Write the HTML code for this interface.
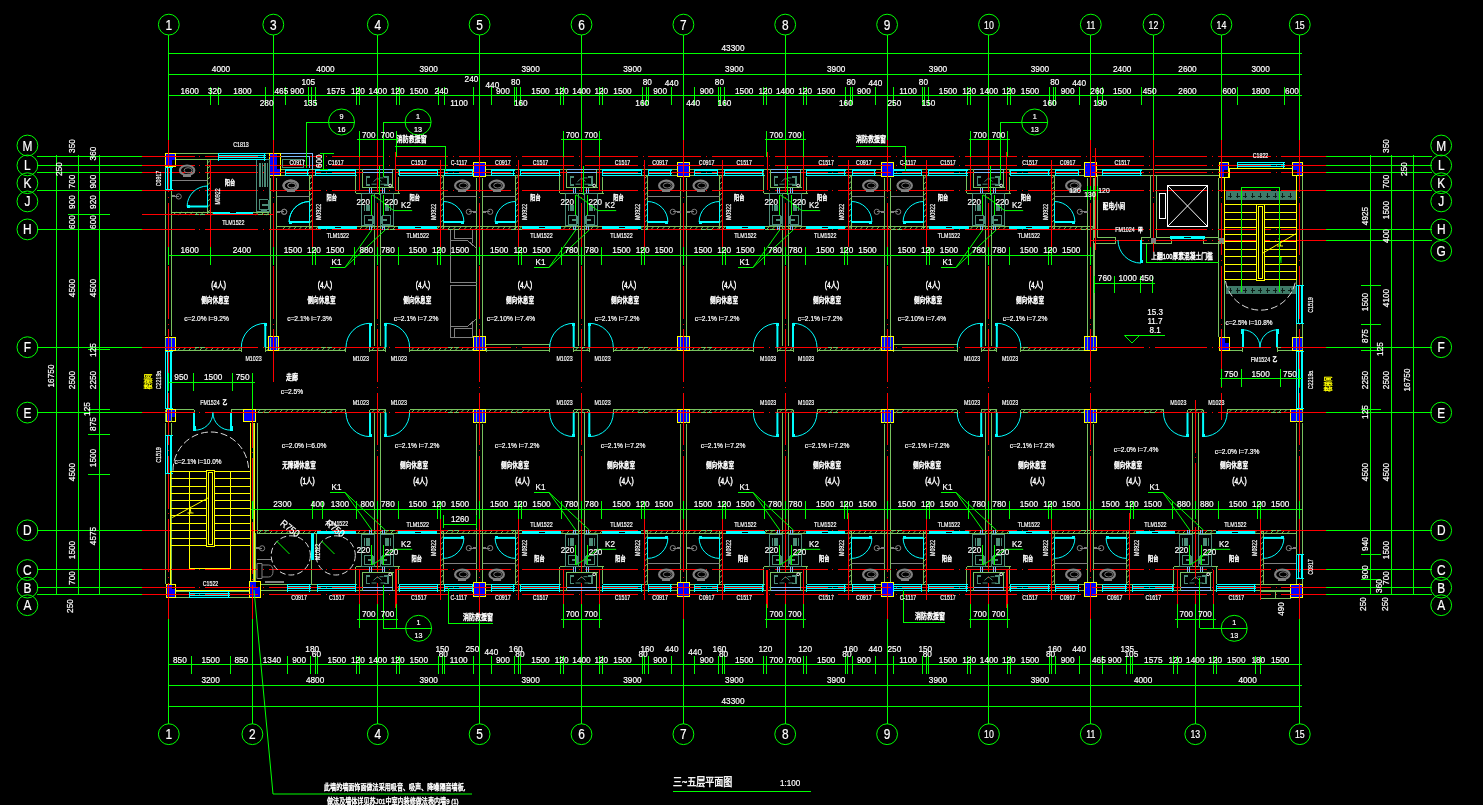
<!DOCTYPE html>
<html><head><meta charset="utf-8"><title>plan</title>
<style>
html,body{margin:0;padding:0;background:#000;overflow:hidden}
svg{display:block;font-family:"Liberation Sans",sans-serif}
svg text{fill:#fff;stroke:#fff;stroke-width:.2px}
svg text.cj{font-family:"Liberation Sans","Noto Sans CJK SC",sans-serif;stroke-width:.45px}
</style></head><body>
<svg width="1483" height="805" viewBox="0 0 1483 805" shape-rendering="crispEdges" fill="none">
<rect x="0" y="0" width="1483" height="805" fill="#000" stroke="none"/>
<path d="M165.5 167V336" stroke="#78c25e"/>
<path d="M171.5 167V336" stroke="#78c25e"/>
<path d="M165.5 351V409" stroke="#78c25e"/>
<path d="M171.5 351V409" stroke="#78c25e"/>
<path d="M165.5 423V584" stroke="#78c25e"/>
<path d="M171.5 423V584" stroke="#78c25e"/>
<path d="M1296.5 176V337" stroke="#78c25e"/>
<path d="M1302.5 176V337" stroke="#78c25e"/>
<path d="M1296.5 351V409" stroke="#78c25e"/>
<path d="M1302.5 351V409" stroke="#78c25e"/>
<path d="M1296.5 423V584" stroke="#78c25e"/>
<path d="M1302.5 423V584" stroke="#78c25e"/>
<path d="M176 153.5H269" stroke="#78c25e"/>
<path d="M176 159.5H269" stroke="#78c25e"/>
<path d="M281 169.5H1218.6" stroke="#78c25e"/>
<path d="M281 175.5H1218.6" stroke="#78c25e"/>
<path d="M261 584.5H1290.5" stroke="#78c25e"/>
<path d="M261 590.5H1290.5" stroke="#78c25e"/>
<path d="M176 591.5H249" stroke="#78c25e"/>
<path d="M176 597.5H249" stroke="#78c25e"/>
<path d="M270.5 177.6V336.2" stroke="#78c25e"/>
<path d="M276.5 177.6V336.2" stroke="#78c25e"/>
<path d="M476.5 177.6V336.2" stroke="#78c25e"/>
<path d="M482.5 177.6V336.2" stroke="#78c25e"/>
<path d="M680.5 177.6V336.2" stroke="#78c25e"/>
<path d="M686.5 177.6V336.2" stroke="#78c25e"/>
<path d="M884.5 177.6V336.2" stroke="#78c25e"/>
<path d="M890.5 177.6V336.2" stroke="#78c25e"/>
<path d="M1087.5 177.6V336.2" stroke="#78c25e"/>
<path d="M1093.5 177.6V336.2" stroke="#78c25e"/>
<path d="M374.5 193.4V346" stroke="#78c25e"/>
<path d="M380.5 193.4V346" stroke="#78c25e"/>
<path d="M578.5 193.4V346" stroke="#78c25e"/>
<path d="M584.5 193.4V346" stroke="#78c25e"/>
<path d="M782.5 193.4V346" stroke="#78c25e"/>
<path d="M788.5 193.4V346" stroke="#78c25e"/>
<path d="M985.5 193.4V346" stroke="#78c25e"/>
<path d="M991.5 193.4V346" stroke="#78c25e"/>
<path d="M476.5 423.8V582.2" stroke="#78c25e"/>
<path d="M482.5 423.8V582.2" stroke="#78c25e"/>
<path d="M680.5 423.8V582.2" stroke="#78c25e"/>
<path d="M686.5 423.8V582.2" stroke="#78c25e"/>
<path d="M884.5 423.8V582.2" stroke="#78c25e"/>
<path d="M890.5 423.8V582.2" stroke="#78c25e"/>
<path d="M1087.5 423.8V582.2" stroke="#78c25e"/>
<path d="M1093.5 423.8V582.2" stroke="#78c25e"/>
<path d="M374.5 413V566.5" stroke="#78c25e"/>
<path d="M380.5 413V566.5" stroke="#78c25e"/>
<path d="M578.5 413V566.5" stroke="#78c25e"/>
<path d="M584.5 413V566.5" stroke="#78c25e"/>
<path d="M782.5 413V566.5" stroke="#78c25e"/>
<path d="M788.5 413V566.5" stroke="#78c25e"/>
<path d="M985.5 413V566.5" stroke="#78c25e"/>
<path d="M991.5 413V566.5" stroke="#78c25e"/>
<path d="M1192.5 413V566.5" stroke="#78c25e"/>
<path d="M1198.5 413V566.5" stroke="#78c25e"/>
<path d="M253.5 423V581" stroke="#78c25e"/>
<path d="M257.5 423V533" stroke="#78c25e"/>
<path d="M1218.5 178.3V337.3" stroke="#78c25e"/>
<path d="M1224.5 178.3V337.3" stroke="#78c25e"/>
<path d="M1150.5 175.6V237.5" stroke="#78c25e"/>
<path d="M1156.5 175.6V237.5" stroke="#78c25e"/>
<path d="M281 226.5H1094" stroke="#78c25e"/>
<path d="M281 229.5H1094" stroke="#78c25e"/>
<path d="M282.5 229.6l3 -3.4M288 229.6l3 -3.4M293.5 229.6l3 -3.4M299 229.6l3 -3.4M304.5 229.6l3 -3.4M310 229.6l3 -3.4M315.5 229.6l3 -3.4M321 229.6l3 -3.4M326.5 229.6l3 -3.4M332 229.6l3 -3.4M337.5 229.6l3 -3.4M343 229.6l3 -3.4M348.5 229.6l3 -3.4M354 229.6l3 -3.4M359.5 229.6l3 -3.4M365 229.6l3 -3.4M370.5 229.6l3 -3.4M376 229.6l3 -3.4M381.5 229.6l3 -3.4M387 229.6l3 -3.4M392.5 229.6l3 -3.4M398 229.6l3 -3.4M403.5 229.6l3 -3.4M409 229.6l3 -3.4M414.5 229.6l3 -3.4M420 229.6l3 -3.4M425.5 229.6l3 -3.4M431 229.6l3 -3.4M436.5 229.6l3 -3.4M442 229.6l3 -3.4M447.5 229.6l3 -3.4M453 229.6l3 -3.4M458.5 229.6l3 -3.4M464 229.6l3 -3.4M469.5 229.6l3 -3.4M475 229.6l3 -3.4M480.5 229.6l3 -3.4M486 229.6l3 -3.4M491.5 229.6l3 -3.4M497 229.6l3 -3.4M502.5 229.6l3 -3.4M508 229.6l3 -3.4M513.5 229.6l3 -3.4M519 229.6l3 -3.4M524.5 229.6l3 -3.4M530 229.6l3 -3.4M535.5 229.6l3 -3.4M541 229.6l3 -3.4M546.5 229.6l3 -3.4M552 229.6l3 -3.4M557.5 229.6l3 -3.4M563 229.6l3 -3.4M568.5 229.6l3 -3.4M574 229.6l3 -3.4M579.5 229.6l3 -3.4M585 229.6l3 -3.4M590.5 229.6l3 -3.4M596 229.6l3 -3.4M601.5 229.6l3 -3.4M607 229.6l3 -3.4M612.5 229.6l3 -3.4M618 229.6l3 -3.4M623.5 229.6l3 -3.4M629 229.6l3 -3.4M634.5 229.6l3 -3.4M640 229.6l3 -3.4M645.5 229.6l3 -3.4M651 229.6l3 -3.4M656.5 229.6l3 -3.4M662 229.6l3 -3.4M667.5 229.6l3 -3.4M673 229.6l3 -3.4M678.5 229.6l3 -3.4M684 229.6l3 -3.4M689.5 229.6l3 -3.4M695 229.6l3 -3.4M700.5 229.6l3 -3.4M706 229.6l3 -3.4M711.5 229.6l3 -3.4M717 229.6l3 -3.4M722.5 229.6l3 -3.4M728 229.6l3 -3.4M733.5 229.6l3 -3.4M739 229.6l3 -3.4M744.5 229.6l3 -3.4M750 229.6l3 -3.4M755.5 229.6l3 -3.4M761 229.6l3 -3.4M766.5 229.6l3 -3.4M772 229.6l3 -3.4M777.5 229.6l3 -3.4M783 229.6l3 -3.4M788.5 229.6l3 -3.4M794 229.6l3 -3.4M799.5 229.6l3 -3.4M805 229.6l3 -3.4M810.5 229.6l3 -3.4M816 229.6l3 -3.4M821.5 229.6l3 -3.4M827 229.6l3 -3.4M832.5 229.6l3 -3.4M838 229.6l3 -3.4M843.5 229.6l3 -3.4M849 229.6l3 -3.4M854.5 229.6l3 -3.4M860 229.6l3 -3.4M865.5 229.6l3 -3.4M871 229.6l3 -3.4M876.5 229.6l3 -3.4M882 229.6l3 -3.4M887.5 229.6l3 -3.4M893 229.6l3 -3.4M898.5 229.6l3 -3.4M904 229.6l3 -3.4M909.5 229.6l3 -3.4M915 229.6l3 -3.4M920.5 229.6l3 -3.4M926 229.6l3 -3.4M931.5 229.6l3 -3.4M937 229.6l3 -3.4M942.5 229.6l3 -3.4M948 229.6l3 -3.4M953.5 229.6l3 -3.4M959 229.6l3 -3.4M964.5 229.6l3 -3.4M970 229.6l3 -3.4M975.5 229.6l3 -3.4M981 229.6l3 -3.4M986.5 229.6l3 -3.4M992 229.6l3 -3.4M997.5 229.6l3 -3.4M1003 229.6l3 -3.4M1008.5 229.6l3 -3.4M1014 229.6l3 -3.4M1019.5 229.6l3 -3.4M1025 229.6l3 -3.4M1030.5 229.6l3 -3.4M1036 229.6l3 -3.4M1041.5 229.6l3 -3.4M1047 229.6l3 -3.4M1052.5 229.6l3 -3.4M1058 229.6l3 -3.4M1063.5 229.6l3 -3.4M1069 229.6l3 -3.4M1074.5 229.6l3 -3.4M1080 229.6l3 -3.4M1085.5 229.6l3 -3.4M1091 229.6l3 -3.4" stroke="#78c25e" fill="none" shape-rendering="geometricPrecision"/>
<path d="M257 530.5H1290.5" stroke="#78c25e"/>
<path d="M257 533.5H1290.5" stroke="#78c25e"/>
<path d="M258.5 533.6l3 -3.3M264 533.6l3 -3.3M269.5 533.6l3 -3.3M275 533.6l3 -3.3M280.5 533.6l3 -3.3M286 533.6l3 -3.3M291.5 533.6l3 -3.3M297 533.6l3 -3.3M302.5 533.6l3 -3.3M308 533.6l3 -3.3M313.5 533.6l3 -3.3M319 533.6l3 -3.3M324.5 533.6l3 -3.3M330 533.6l3 -3.3M335.5 533.6l3 -3.3M341 533.6l3 -3.3M346.5 533.6l3 -3.3M352 533.6l3 -3.3M357.5 533.6l3 -3.3M363 533.6l3 -3.3M368.5 533.6l3 -3.3M374 533.6l3 -3.3M379.5 533.6l3 -3.3M385 533.6l3 -3.3M390.5 533.6l3 -3.3M396 533.6l3 -3.3M401.5 533.6l3 -3.3M407 533.6l3 -3.3M412.5 533.6l3 -3.3M418 533.6l3 -3.3M423.5 533.6l3 -3.3M429 533.6l3 -3.3M434.5 533.6l3 -3.3M440 533.6l3 -3.3M445.5 533.6l3 -3.3M451 533.6l3 -3.3M456.5 533.6l3 -3.3M462 533.6l3 -3.3M467.5 533.6l3 -3.3M473 533.6l3 -3.3M478.5 533.6l3 -3.3M484 533.6l3 -3.3M489.5 533.6l3 -3.3M495 533.6l3 -3.3M500.5 533.6l3 -3.3M506 533.6l3 -3.3M511.5 533.6l3 -3.3M517 533.6l3 -3.3M522.5 533.6l3 -3.3M528 533.6l3 -3.3M533.5 533.6l3 -3.3M539 533.6l3 -3.3M544.5 533.6l3 -3.3M550 533.6l3 -3.3M555.5 533.6l3 -3.3M561 533.6l3 -3.3M566.5 533.6l3 -3.3M572 533.6l3 -3.3M577.5 533.6l3 -3.3M583 533.6l3 -3.3M588.5 533.6l3 -3.3M594 533.6l3 -3.3M599.5 533.6l3 -3.3M605 533.6l3 -3.3M610.5 533.6l3 -3.3M616 533.6l3 -3.3M621.5 533.6l3 -3.3M627 533.6l3 -3.3M632.5 533.6l3 -3.3M638 533.6l3 -3.3M643.5 533.6l3 -3.3M649 533.6l3 -3.3M654.5 533.6l3 -3.3M660 533.6l3 -3.3M665.5 533.6l3 -3.3M671 533.6l3 -3.3M676.5 533.6l3 -3.3M682 533.6l3 -3.3M687.5 533.6l3 -3.3M693 533.6l3 -3.3M698.5 533.6l3 -3.3M704 533.6l3 -3.3M709.5 533.6l3 -3.3M715 533.6l3 -3.3M720.5 533.6l3 -3.3M726 533.6l3 -3.3M731.5 533.6l3 -3.3M737 533.6l3 -3.3M742.5 533.6l3 -3.3M748 533.6l3 -3.3M753.5 533.6l3 -3.3M759 533.6l3 -3.3M764.5 533.6l3 -3.3M770 533.6l3 -3.3M775.5 533.6l3 -3.3M781 533.6l3 -3.3M786.5 533.6l3 -3.3M792 533.6l3 -3.3M797.5 533.6l3 -3.3M803 533.6l3 -3.3M808.5 533.6l3 -3.3M814 533.6l3 -3.3M819.5 533.6l3 -3.3M825 533.6l3 -3.3M830.5 533.6l3 -3.3M836 533.6l3 -3.3M841.5 533.6l3 -3.3M847 533.6l3 -3.3M852.5 533.6l3 -3.3M858 533.6l3 -3.3M863.5 533.6l3 -3.3M869 533.6l3 -3.3M874.5 533.6l3 -3.3M880 533.6l3 -3.3M885.5 533.6l3 -3.3M891 533.6l3 -3.3M896.5 533.6l3 -3.3M902 533.6l3 -3.3M907.5 533.6l3 -3.3M913 533.6l3 -3.3M918.5 533.6l3 -3.3M924 533.6l3 -3.3M929.5 533.6l3 -3.3M935 533.6l3 -3.3M940.5 533.6l3 -3.3M946 533.6l3 -3.3M951.5 533.6l3 -3.3M957 533.6l3 -3.3M962.5 533.6l3 -3.3M968 533.6l3 -3.3M973.5 533.6l3 -3.3M979 533.6l3 -3.3M984.5 533.6l3 -3.3M990 533.6l3 -3.3M995.5 533.6l3 -3.3M1001 533.6l3 -3.3M1006.5 533.6l3 -3.3M1012 533.6l3 -3.3M1017.5 533.6l3 -3.3M1023 533.6l3 -3.3M1028.5 533.6l3 -3.3M1034 533.6l3 -3.3M1039.5 533.6l3 -3.3M1045 533.6l3 -3.3M1050.5 533.6l3 -3.3M1056 533.6l3 -3.3M1061.5 533.6l3 -3.3M1067 533.6l3 -3.3M1072.5 533.6l3 -3.3M1078 533.6l3 -3.3M1083.5 533.6l3 -3.3M1089 533.6l3 -3.3M1094.5 533.6l3 -3.3M1100 533.6l3 -3.3M1105.5 533.6l3 -3.3M1111 533.6l3 -3.3M1116.5 533.6l3 -3.3M1122 533.6l3 -3.3M1127.5 533.6l3 -3.3M1133 533.6l3 -3.3M1138.5 533.6l3 -3.3M1144 533.6l3 -3.3M1149.5 533.6l3 -3.3M1155 533.6l3 -3.3M1160.5 533.6l3 -3.3M1166 533.6l3 -3.3M1171.5 533.6l3 -3.3M1177 533.6l3 -3.3M1182.5 533.6l3 -3.3M1188 533.6l3 -3.3M1193.5 533.6l3 -3.3M1199 533.6l3 -3.3M1204.5 533.6l3 -3.3M1210 533.6l3 -3.3M1215.5 533.6l3 -3.3M1221 533.6l3 -3.3M1226.5 533.6l3 -3.3M1232 533.6l3 -3.3M1237.5 533.6l3 -3.3M1243 533.6l3 -3.3M1248.5 533.6l3 -3.3M1254 533.6l3 -3.3M1259.5 533.6l3 -3.3M1265 533.6l3 -3.3M1270.5 533.6l3 -3.3M1276 533.6l3 -3.3M1281.5 533.6l3 -3.3M1287 533.6l3 -3.3" stroke="#78c25e" fill="none" shape-rendering="geometricPrecision"/>
<path d="M171.7 212.5H269" stroke="#78c25e"/>
<path d="M171.7 214.5H269" stroke="#78c25e"/>
<path d="M173.2 214.8l3 -2.8M178.7 214.8l3 -2.8M184.2 214.8l3 -2.8M189.7 214.8l3 -2.8M195.2 214.8l3 -2.8M200.7 214.8l3 -2.8M206.2 214.8l3 -2.8M211.7 214.8l3 -2.8M217.2 214.8l3 -2.8M222.7 214.8l3 -2.8M228.2 214.8l3 -2.8M233.7 214.8l3 -2.8M239.2 214.8l3 -2.8M244.7 214.8l3 -2.8M250.2 214.8l3 -2.8M255.7 214.8l3 -2.8M261.2 214.8l3 -2.8M266.7 214.8l3 -2.8" stroke="#78c25e" fill="none" shape-rendering="geometricPrecision"/>
<path d="M176 347.5H241.3" stroke="#78c25e"/>
<path d="M176 350.5H241.3" stroke="#78c25e"/>
<path d="M177.5 350.6l3 -3.4M183 350.6l3 -3.4M188.5 350.6l3 -3.4M194 350.6l3 -3.4M199.5 350.6l3 -3.4M205 350.6l3 -3.4M210.5 350.6l3 -3.4M216 350.6l3 -3.4M221.5 350.6l3 -3.4M227 350.6l3 -3.4M232.5 350.6l3 -3.4M238 350.6l3 -3.4" stroke="#78c25e" fill="none" shape-rendering="geometricPrecision"/>
<path d="M241.5 347.2V351.6" stroke="#78c25e"/>
<path d="M265.5 347.2V351.6" stroke="#78c25e"/>
<path d="M265.3 347.5H346" stroke="#78c25e"/>
<path d="M265.3 350.5H346" stroke="#78c25e"/>
<path d="M266.8 350.6l3 -3.4M272.3 350.6l3 -3.4M277.8 350.6l3 -3.4M283.3 350.6l3 -3.4M288.8 350.6l3 -3.4M294.3 350.6l3 -3.4M299.8 350.6l3 -3.4M305.3 350.6l3 -3.4M310.8 350.6l3 -3.4M316.3 350.6l3 -3.4M321.8 350.6l3 -3.4M327.3 350.6l3 -3.4M332.8 350.6l3 -3.4M338.3 350.6l3 -3.4M343.8 350.6l3 -3.4" stroke="#78c25e" fill="none" shape-rendering="geometricPrecision"/>
<path d="M345.5 347.2V351.6" stroke="#78c25e"/>
<path d="M369.5 347.2V351.6" stroke="#78c25e"/>
<path d="M370 347.5H385.6" stroke="#78c25e"/>
<path d="M370 350.5H385.6" stroke="#78c25e"/>
<path d="M371.5 350.6l3 -3.4M377 350.6l3 -3.4M382.5 350.6l3 -3.4" stroke="#78c25e" fill="none" shape-rendering="geometricPrecision"/>
<path d="M385.5 347.2V351.6" stroke="#78c25e"/>
<path d="M409.5 347.2V351.6" stroke="#78c25e"/>
<path d="M409.6 347.5H486.1" stroke="#78c25e"/>
<path d="M409.6 350.5H486.1" stroke="#78c25e"/>
<path d="M411.1 350.6l3 -3.4M416.6 350.6l3 -3.4M422.1 350.6l3 -3.4M427.6 350.6l3 -3.4M433.1 350.6l3 -3.4M438.6 350.6l3 -3.4M444.1 350.6l3 -3.4M449.6 350.6l3 -3.4M455.1 350.6l3 -3.4M460.6 350.6l3 -3.4M466.1 350.6l3 -3.4M471.6 350.6l3 -3.4M477.1 350.6l3 -3.4M482.6 350.6l3 -3.4" stroke="#78c25e" fill="none" shape-rendering="geometricPrecision"/>
<path d="M486.5 347.2V351.6" stroke="#78c25e"/>
<path d="M549.5 347.2V351.6" stroke="#78c25e"/>
<path d="M573.5 347.2V351.6" stroke="#78c25e"/>
<path d="M573.7 347.5H589.3" stroke="#78c25e"/>
<path d="M573.7 350.5H589.3" stroke="#78c25e"/>
<path d="M575.2 350.6l3 -3.4M580.7 350.6l3 -3.4M586.2 350.6l3 -3.4" stroke="#78c25e" fill="none" shape-rendering="geometricPrecision"/>
<path d="M589.5 347.2V351.6" stroke="#78c25e"/>
<path d="M613.5 347.2V351.6" stroke="#78c25e"/>
<path d="M613.3 347.5H753.4" stroke="#78c25e"/>
<path d="M613.3 350.5H753.4" stroke="#78c25e"/>
<path d="M614.8 350.6l3 -3.4M620.3 350.6l3 -3.4M625.8 350.6l3 -3.4M631.3 350.6l3 -3.4M636.8 350.6l3 -3.4M642.3 350.6l3 -3.4M647.8 350.6l3 -3.4M653.3 350.6l3 -3.4M658.8 350.6l3 -3.4M664.3 350.6l3 -3.4M669.8 350.6l3 -3.4M675.3 350.6l3 -3.4M680.8 350.6l3 -3.4M686.3 350.6l3 -3.4M691.8 350.6l3 -3.4M697.3 350.6l3 -3.4M702.8 350.6l3 -3.4M708.3 350.6l3 -3.4M713.8 350.6l3 -3.4M719.3 350.6l3 -3.4M724.8 350.6l3 -3.4M730.3 350.6l3 -3.4M735.8 350.6l3 -3.4M741.3 350.6l3 -3.4M746.8 350.6l3 -3.4" stroke="#78c25e" fill="none" shape-rendering="geometricPrecision"/>
<path d="M753.5 347.2V351.6" stroke="#78c25e"/>
<path d="M777.5 347.2V351.6" stroke="#78c25e"/>
<path d="M777.4 347.5H793" stroke="#78c25e"/>
<path d="M777.4 350.5H793" stroke="#78c25e"/>
<path d="M778.9 350.6l3 -3.4M784.4 350.6l3 -3.4M789.9 350.6l3 -3.4" stroke="#78c25e" fill="none" shape-rendering="geometricPrecision"/>
<path d="M793.5 347.2V351.6" stroke="#78c25e"/>
<path d="M817.5 347.2V351.6" stroke="#78c25e"/>
<path d="M817 347.5H893.6" stroke="#78c25e"/>
<path d="M817 350.5H893.6" stroke="#78c25e"/>
<path d="M818.5 350.6l3 -3.4M824 350.6l3 -3.4M829.5 350.6l3 -3.4M835 350.6l3 -3.4M840.5 350.6l3 -3.4M846 350.6l3 -3.4M851.5 350.6l3 -3.4M857 350.6l3 -3.4M862.5 350.6l3 -3.4M868 350.6l3 -3.4M873.5 350.6l3 -3.4M879 350.6l3 -3.4M884.5 350.6l3 -3.4M890 350.6l3 -3.4" stroke="#78c25e" fill="none" shape-rendering="geometricPrecision"/>
<path d="M893.5 347.2V351.6" stroke="#78c25e"/>
<path d="M957.5 347.2V351.6" stroke="#78c25e"/>
<path d="M981.5 347.2V351.6" stroke="#78c25e"/>
<path d="M981.2 347.5H996.8" stroke="#78c25e"/>
<path d="M981.2 350.5H996.8" stroke="#78c25e"/>
<path d="M982.7 350.6l3 -3.4M988.2 350.6l3 -3.4M993.7 350.6l3 -3.4" stroke="#78c25e" fill="none" shape-rendering="geometricPrecision"/>
<path d="M996.5 347.2V351.6" stroke="#78c25e"/>
<path d="M1020.5 347.2V351.6" stroke="#78c25e"/>
<path d="M1020.8 347.5H1084.5" stroke="#78c25e"/>
<path d="M1020.8 350.5H1084.5" stroke="#78c25e"/>
<path d="M1022.3 350.6l3 -3.4M1027.8 350.6l3 -3.4M1033.3 350.6l3 -3.4M1038.8 350.6l3 -3.4M1044.3 350.6l3 -3.4M1049.8 350.6l3 -3.4M1055.3 350.6l3 -3.4M1060.8 350.6l3 -3.4M1066.3 350.6l3 -3.4M1071.8 350.6l3 -3.4M1077.3 350.6l3 -3.4" stroke="#78c25e" fill="none" shape-rendering="geometricPrecision"/>
<path d="M486.1 344.5H549.7" stroke="#78c25e"/>
<path d="M486.1 350.5H549.7" stroke="#78c25e"/>
<path d="M549.5 344.3V351" stroke="#78c25e"/>
<path d="M893.6 344.5H957.2" stroke="#78c25e"/>
<path d="M893.6 350.5H957.2" stroke="#78c25e"/>
<path d="M957.5 344.3V351" stroke="#78c25e"/>
<path d="M255.8 409.5H346" stroke="#78c25e"/>
<path d="M255.8 412.5H346" stroke="#78c25e"/>
<path d="M257.3 412.8l3 -3M262.8 412.8l3 -3M268.3 412.8l3 -3M273.8 412.8l3 -3M279.3 412.8l3 -3M284.8 412.8l3 -3M290.3 412.8l3 -3M295.8 412.8l3 -3M301.3 412.8l3 -3M306.8 412.8l3 -3M312.3 412.8l3 -3M317.8 412.8l3 -3M323.3 412.8l3 -3M328.8 412.8l3 -3M334.3 412.8l3 -3M339.8 412.8l3 -3" stroke="#78c25e" fill="none" shape-rendering="geometricPrecision"/>
<path d="M345.5 409.8V413.8" stroke="#78c25e"/>
<path d="M369.5 409.8V413.8" stroke="#78c25e"/>
<path d="M370 409.5H385.6" stroke="#78c25e"/>
<path d="M370 412.5H385.6" stroke="#78c25e"/>
<path d="M371.5 412.8l3 -3M377 412.8l3 -3M382.5 412.8l3 -3" stroke="#78c25e" fill="none" shape-rendering="geometricPrecision"/>
<path d="M385.5 409.8V413.8" stroke="#78c25e"/>
<path d="M409.5 409.8V413.8" stroke="#78c25e"/>
<path d="M409.6 409.5H549.7" stroke="#78c25e"/>
<path d="M409.6 412.5H549.7" stroke="#78c25e"/>
<path d="M411.1 412.8l3 -3M416.6 412.8l3 -3M422.1 412.8l3 -3M427.6 412.8l3 -3M433.1 412.8l3 -3M438.6 412.8l3 -3M444.1 412.8l3 -3M449.6 412.8l3 -3M455.1 412.8l3 -3M460.6 412.8l3 -3M466.1 412.8l3 -3M471.6 412.8l3 -3M477.1 412.8l3 -3M482.6 412.8l3 -3M488.1 412.8l3 -3M493.6 412.8l3 -3M499.1 412.8l3 -3M504.6 412.8l3 -3M510.1 412.8l3 -3M515.6 412.8l3 -3M521.1 412.8l3 -3M526.6 412.8l3 -3M532.1 412.8l3 -3M537.6 412.8l3 -3M543.1 412.8l3 -3" stroke="#78c25e" fill="none" shape-rendering="geometricPrecision"/>
<path d="M549.5 409.8V413.8" stroke="#78c25e"/>
<path d="M573.5 409.8V413.8" stroke="#78c25e"/>
<path d="M573.7 409.5H589.3" stroke="#78c25e"/>
<path d="M573.7 412.5H589.3" stroke="#78c25e"/>
<path d="M575.2 412.8l3 -3M580.7 412.8l3 -3M586.2 412.8l3 -3" stroke="#78c25e" fill="none" shape-rendering="geometricPrecision"/>
<path d="M589.5 409.8V413.8" stroke="#78c25e"/>
<path d="M613.5 409.8V413.8" stroke="#78c25e"/>
<path d="M613.3 409.5H753.4" stroke="#78c25e"/>
<path d="M613.3 412.5H753.4" stroke="#78c25e"/>
<path d="M614.8 412.8l3 -3M620.3 412.8l3 -3M625.8 412.8l3 -3M631.3 412.8l3 -3M636.8 412.8l3 -3M642.3 412.8l3 -3M647.8 412.8l3 -3M653.3 412.8l3 -3M658.8 412.8l3 -3M664.3 412.8l3 -3M669.8 412.8l3 -3M675.3 412.8l3 -3M680.8 412.8l3 -3M686.3 412.8l3 -3M691.8 412.8l3 -3M697.3 412.8l3 -3M702.8 412.8l3 -3M708.3 412.8l3 -3M713.8 412.8l3 -3M719.3 412.8l3 -3M724.8 412.8l3 -3M730.3 412.8l3 -3M735.8 412.8l3 -3M741.3 412.8l3 -3M746.8 412.8l3 -3" stroke="#78c25e" fill="none" shape-rendering="geometricPrecision"/>
<path d="M753.5 409.8V413.8" stroke="#78c25e"/>
<path d="M777.5 409.8V413.8" stroke="#78c25e"/>
<path d="M777.4 409.5H793" stroke="#78c25e"/>
<path d="M777.4 412.5H793" stroke="#78c25e"/>
<path d="M778.9 412.8l3 -3M784.4 412.8l3 -3M789.9 412.8l3 -3" stroke="#78c25e" fill="none" shape-rendering="geometricPrecision"/>
<path d="M793.5 409.8V413.8" stroke="#78c25e"/>
<path d="M817.5 409.8V413.8" stroke="#78c25e"/>
<path d="M817 409.5H957.2" stroke="#78c25e"/>
<path d="M817 412.5H957.2" stroke="#78c25e"/>
<path d="M818.5 412.8l3 -3M824 412.8l3 -3M829.5 412.8l3 -3M835 412.8l3 -3M840.5 412.8l3 -3M846 412.8l3 -3M851.5 412.8l3 -3M857 412.8l3 -3M862.5 412.8l3 -3M868 412.8l3 -3M873.5 412.8l3 -3M879 412.8l3 -3M884.5 412.8l3 -3M890 412.8l3 -3M895.5 412.8l3 -3M901 412.8l3 -3M906.5 412.8l3 -3M912 412.8l3 -3M917.5 412.8l3 -3M923 412.8l3 -3M928.5 412.8l3 -3M934 412.8l3 -3M939.5 412.8l3 -3M945 412.8l3 -3M950.5 412.8l3 -3" stroke="#78c25e" fill="none" shape-rendering="geometricPrecision"/>
<path d="M957.5 409.8V413.8" stroke="#78c25e"/>
<path d="M981.5 409.8V413.8" stroke="#78c25e"/>
<path d="M981.2 409.5H996.8" stroke="#78c25e"/>
<path d="M981.2 412.5H996.8" stroke="#78c25e"/>
<path d="M982.7 412.8l3 -3M988.2 412.8l3 -3M993.7 412.8l3 -3" stroke="#78c25e" fill="none" shape-rendering="geometricPrecision"/>
<path d="M996.5 409.8V413.8" stroke="#78c25e"/>
<path d="M1020.5 409.8V413.8" stroke="#78c25e"/>
<path d="M1020.8 409.5H1163.5" stroke="#78c25e"/>
<path d="M1020.8 412.5H1163.5" stroke="#78c25e"/>
<path d="M1022.3 412.8l3 -3M1027.8 412.8l3 -3M1033.3 412.8l3 -3M1038.8 412.8l3 -3M1044.3 412.8l3 -3M1049.8 412.8l3 -3M1055.3 412.8l3 -3M1060.8 412.8l3 -3M1066.3 412.8l3 -3M1071.8 412.8l3 -3M1077.3 412.8l3 -3M1082.8 412.8l3 -3M1088.3 412.8l3 -3M1093.8 412.8l3 -3M1099.3 412.8l3 -3M1104.8 412.8l3 -3M1110.3 412.8l3 -3M1115.8 412.8l3 -3M1121.3 412.8l3 -3M1126.8 412.8l3 -3M1132.3 412.8l3 -3M1137.8 412.8l3 -3M1143.3 412.8l3 -3M1148.8 412.8l3 -3M1154.3 412.8l3 -3M1159.8 412.8l3 -3" stroke="#78c25e" fill="none" shape-rendering="geometricPrecision"/>
<path d="M1163.5 409.8V413.8" stroke="#78c25e"/>
<path d="M1187.5 409.8V413.8" stroke="#78c25e"/>
<path d="M1187.5 409.5H1203.1" stroke="#78c25e"/>
<path d="M1187.5 412.5H1203.1" stroke="#78c25e"/>
<path d="M1189 412.8l3 -3M1194.5 412.8l3 -3M1200 412.8l3 -3" stroke="#78c25e" fill="none" shape-rendering="geometricPrecision"/>
<path d="M1203.5 409.8V413.8" stroke="#78c25e"/>
<path d="M1227.5 409.8V413.8" stroke="#78c25e"/>
<path d="M1227.1 409.5H1290.5" stroke="#78c25e"/>
<path d="M1227.1 412.5H1290.5" stroke="#78c25e"/>
<path d="M1228.6 412.8l3 -3M1234.1 412.8l3 -3M1239.6 412.8l3 -3M1245.1 412.8l3 -3M1250.6 412.8l3 -3M1256.1 412.8l3 -3M1261.6 412.8l3 -3M1267.1 412.8l3 -3M1272.6 412.8l3 -3M1278.1 412.8l3 -3M1283.6 412.8l3 -3" stroke="#78c25e" fill="none" shape-rendering="geometricPrecision"/>
<path d="M309.5 175.3V226.2" stroke="#78c25e"/>
<path d="M309.5 175.3V229.6" stroke="#78c25e"/>
<path d="M312.5 175.3V229.6" stroke="#78c25e"/>
<path d="M309.6 178.8l3.1 -3M309.6 184.3l3.1 -3M309.6 189.8l3.1 -3M309.6 195.3l3.1 -3M309.6 200.8l3.1 -3M309.6 206.3l3.1 -3M309.6 211.8l3.1 -3M309.6 217.3l3.1 -3M309.6 222.8l3.1 -3M309.6 228.3l3.1 -3" stroke="#78c25e" fill="none" shape-rendering="geometricPrecision"/>
<path d="M276.5 226.5H309.6" stroke="#78c25e"/>
<path d="M443.5 175.3V226.2" stroke="#78c25e"/>
<path d="M440.5 175.3V229.6" stroke="#78c25e"/>
<path d="M443.5 175.3V229.6" stroke="#78c25e"/>
<path d="M440.3 178.8l3.1 -3M440.3 184.3l3.1 -3M440.3 189.8l3.1 -3M440.3 195.3l3.1 -3M440.3 200.8l3.1 -3M440.3 206.3l3.1 -3M440.3 211.8l3.1 -3M440.3 217.3l3.1 -3M440.3 222.8l3.1 -3M440.3 228.3l3.1 -3" stroke="#78c25e" fill="none" shape-rendering="geometricPrecision"/>
<path d="M443.4 226.5H476.5" stroke="#78c25e"/>
<path d="M515.5 175.3V226.2" stroke="#78c25e"/>
<path d="M515.5 175.3V229.6" stroke="#78c25e"/>
<path d="M518.5 175.3V229.6" stroke="#78c25e"/>
<path d="M515.6 178.8l3.1 -3M515.6 184.3l3.1 -3M515.6 189.8l3.1 -3M515.6 195.3l3.1 -3M515.6 200.8l3.1 -3M515.6 206.3l3.1 -3M515.6 211.8l3.1 -3M515.6 217.3l3.1 -3M515.6 222.8l3.1 -3M515.6 228.3l3.1 -3" stroke="#78c25e" fill="none" shape-rendering="geometricPrecision"/>
<path d="M482.5 226.5H515.6" stroke="#78c25e"/>
<path d="M647.5 175.3V226.2" stroke="#78c25e"/>
<path d="M644.5 175.3V229.6" stroke="#78c25e"/>
<path d="M647.5 175.3V229.6" stroke="#78c25e"/>
<path d="M644.3 178.8l3.1 -3M644.3 184.3l3.1 -3M644.3 189.8l3.1 -3M644.3 195.3l3.1 -3M644.3 200.8l3.1 -3M644.3 206.3l3.1 -3M644.3 211.8l3.1 -3M644.3 217.3l3.1 -3M644.3 222.8l3.1 -3M644.3 228.3l3.1 -3" stroke="#78c25e" fill="none" shape-rendering="geometricPrecision"/>
<path d="M647.4 226.5H680.5" stroke="#78c25e"/>
<path d="M719.5 175.3V226.2" stroke="#78c25e"/>
<path d="M719.5 175.3V229.6" stroke="#78c25e"/>
<path d="M722.5 175.3V229.6" stroke="#78c25e"/>
<path d="M719.6 178.8l3.1 -3M719.6 184.3l3.1 -3M719.6 189.8l3.1 -3M719.6 195.3l3.1 -3M719.6 200.8l3.1 -3M719.6 206.3l3.1 -3M719.6 211.8l3.1 -3M719.6 217.3l3.1 -3M719.6 222.8l3.1 -3M719.6 228.3l3.1 -3" stroke="#78c25e" fill="none" shape-rendering="geometricPrecision"/>
<path d="M686.5 226.5H719.6" stroke="#78c25e"/>
<path d="M851.5 175.3V226.2" stroke="#78c25e"/>
<path d="M848.5 175.3V229.6" stroke="#78c25e"/>
<path d="M851.5 175.3V229.6" stroke="#78c25e"/>
<path d="M848.3 178.8l3.1 -3M848.3 184.3l3.1 -3M848.3 189.8l3.1 -3M848.3 195.3l3.1 -3M848.3 200.8l3.1 -3M848.3 206.3l3.1 -3M848.3 211.8l3.1 -3M848.3 217.3l3.1 -3M848.3 222.8l3.1 -3M848.3 228.3l3.1 -3" stroke="#78c25e" fill="none" shape-rendering="geometricPrecision"/>
<path d="M851.4 226.5H884.5" stroke="#78c25e"/>
<path d="M923.5 175.3V226.2" stroke="#78c25e"/>
<path d="M923.5 175.3V229.6" stroke="#78c25e"/>
<path d="M926.5 175.3V229.6" stroke="#78c25e"/>
<path d="M923.6 178.8l3.1 -3M923.6 184.3l3.1 -3M923.6 189.8l3.1 -3M923.6 195.3l3.1 -3M923.6 200.8l3.1 -3M923.6 206.3l3.1 -3M923.6 211.8l3.1 -3M923.6 217.3l3.1 -3M923.6 222.8l3.1 -3M923.6 228.3l3.1 -3" stroke="#78c25e" fill="none" shape-rendering="geometricPrecision"/>
<path d="M890.5 226.5H923.6" stroke="#78c25e"/>
<path d="M1054.5 175.3V226.2" stroke="#78c25e"/>
<path d="M1051.5 175.3V229.6" stroke="#78c25e"/>
<path d="M1054.5 175.3V229.6" stroke="#78c25e"/>
<path d="M1051.3 178.8l3.1 -3M1051.3 184.3l3.1 -3M1051.3 189.8l3.1 -3M1051.3 195.3l3.1 -3M1051.3 200.8l3.1 -3M1051.3 206.3l3.1 -3M1051.3 211.8l3.1 -3M1051.3 217.3l3.1 -3M1051.3 222.8l3.1 -3M1051.3 228.3l3.1 -3" stroke="#78c25e" fill="none" shape-rendering="geometricPrecision"/>
<path d="M1054.4 226.5H1087.5" stroke="#78c25e"/>
<path d="M309.5 175.3V226.2" stroke="#78c25e"/>
<path d="M309.5 175.3V229.6" stroke="#78c25e"/>
<path d="M312.5 175.3V229.6" stroke="#78c25e"/>
<path d="M309.6 178.8l3.1 -3M309.6 184.3l3.1 -3M309.6 189.8l3.1 -3M309.6 195.3l3.1 -3M309.6 200.8l3.1 -3M309.6 206.3l3.1 -3M309.6 211.8l3.1 -3M309.6 217.3l3.1 -3M309.6 222.8l3.1 -3M309.6 228.3l3.1 -3" stroke="#78c25e" fill="none" shape-rendering="geometricPrecision"/>
<path d="M276.5 226.5H309.6" stroke="#78c25e"/>
<path d="M355.5 169.3V193.4" stroke="#78c25e"/>
<path d="M398.5 169.3V193.4" stroke="#78c25e"/>
<path d="M355.5 193.5H374.5" stroke="#78c25e"/>
<path d="M380.5 193.5H399.5" stroke="#78c25e"/>
<path d="M374.5 193.5H380.5" stroke="#78c25e"/>
<rect x="356.5" y="174.5" width="42" height="2" fill="#000" stroke="none"/>
<path d="M362.5 169.3V187.8" stroke="#78c25e"/>
<path d="M392.5 169.3V187.8" stroke="#78c25e"/>
<path d="M362.5 187.5H393.5" stroke="#78c25e"/>
<path d="M559.5 169.3V193.4" stroke="#78c25e"/>
<path d="M602.5 169.3V193.4" stroke="#78c25e"/>
<path d="M559.5 193.5H578.5" stroke="#78c25e"/>
<path d="M584.5 193.5H603.5" stroke="#78c25e"/>
<path d="M578.5 193.5H584.5" stroke="#78c25e"/>
<rect x="560.5" y="174.5" width="42" height="2" fill="#000" stroke="none"/>
<path d="M566.5 169.3V187.8" stroke="#78c25e"/>
<path d="M596.5 169.3V187.8" stroke="#78c25e"/>
<path d="M566.5 187.5H597.5" stroke="#78c25e"/>
<path d="M763.5 169.3V193.4" stroke="#78c25e"/>
<path d="M806.5 169.3V193.4" stroke="#78c25e"/>
<path d="M763.5 193.5H782.5" stroke="#78c25e"/>
<path d="M788.5 193.5H807.5" stroke="#78c25e"/>
<path d="M782.5 193.5H788.5" stroke="#78c25e"/>
<rect x="764.5" y="174.5" width="42" height="2" fill="#000" stroke="none"/>
<path d="M770.5 169.3V187.8" stroke="#78c25e"/>
<path d="M800.5 169.3V187.8" stroke="#78c25e"/>
<path d="M770.5 187.5H801.5" stroke="#78c25e"/>
<path d="M966.5 169.3V193.4" stroke="#78c25e"/>
<path d="M1009.5 169.3V193.4" stroke="#78c25e"/>
<path d="M966.5 193.5H985.5" stroke="#78c25e"/>
<path d="M991.5 193.5H1010.5" stroke="#78c25e"/>
<path d="M985.5 193.5H991.5" stroke="#78c25e"/>
<rect x="967.5" y="174.5" width="42" height="2" fill="#000" stroke="none"/>
<path d="M973.5 169.3V187.8" stroke="#78c25e"/>
<path d="M1003.5 169.3V187.8" stroke="#78c25e"/>
<path d="M973.5 187.5H1004.5" stroke="#78c25e"/>
<path d="M443.5 533.7V584.6" stroke="#78c25e"/>
<path d="M440.5 530.3V584.6" stroke="#78c25e"/>
<path d="M443.5 530.3V584.6" stroke="#78c25e"/>
<path d="M440.3 533.8l3.1 -3M440.3 539.3l3.1 -3M440.3 544.8l3.1 -3M440.3 550.3l3.1 -3M440.3 555.8l3.1 -3M440.3 561.3l3.1 -3M440.3 566.8l3.1 -3M440.3 572.3l3.1 -3M440.3 577.8l3.1 -3M440.3 583.3l3.1 -3" stroke="#78c25e" fill="none" shape-rendering="geometricPrecision"/>
<path d="M443.4 533.5H476.5" stroke="#78c25e"/>
<path d="M515.5 533.7V584.6" stroke="#78c25e"/>
<path d="M515.5 530.3V584.6" stroke="#78c25e"/>
<path d="M518.5 530.3V584.6" stroke="#78c25e"/>
<path d="M515.6 533.8l3.1 -3M515.6 539.3l3.1 -3M515.6 544.8l3.1 -3M515.6 550.3l3.1 -3M515.6 555.8l3.1 -3M515.6 561.3l3.1 -3M515.6 566.8l3.1 -3M515.6 572.3l3.1 -3M515.6 577.8l3.1 -3M515.6 583.3l3.1 -3" stroke="#78c25e" fill="none" shape-rendering="geometricPrecision"/>
<path d="M482.5 533.5H515.6" stroke="#78c25e"/>
<path d="M647.5 533.7V584.6" stroke="#78c25e"/>
<path d="M644.5 530.3V584.6" stroke="#78c25e"/>
<path d="M647.5 530.3V584.6" stroke="#78c25e"/>
<path d="M644.3 533.8l3.1 -3M644.3 539.3l3.1 -3M644.3 544.8l3.1 -3M644.3 550.3l3.1 -3M644.3 555.8l3.1 -3M644.3 561.3l3.1 -3M644.3 566.8l3.1 -3M644.3 572.3l3.1 -3M644.3 577.8l3.1 -3M644.3 583.3l3.1 -3" stroke="#78c25e" fill="none" shape-rendering="geometricPrecision"/>
<path d="M647.4 533.5H680.5" stroke="#78c25e"/>
<path d="M719.5 533.7V584.6" stroke="#78c25e"/>
<path d="M719.5 530.3V584.6" stroke="#78c25e"/>
<path d="M722.5 530.3V584.6" stroke="#78c25e"/>
<path d="M719.6 533.8l3.1 -3M719.6 539.3l3.1 -3M719.6 544.8l3.1 -3M719.6 550.3l3.1 -3M719.6 555.8l3.1 -3M719.6 561.3l3.1 -3M719.6 566.8l3.1 -3M719.6 572.3l3.1 -3M719.6 577.8l3.1 -3M719.6 583.3l3.1 -3" stroke="#78c25e" fill="none" shape-rendering="geometricPrecision"/>
<path d="M686.5 533.5H719.6" stroke="#78c25e"/>
<path d="M851.5 533.7V584.6" stroke="#78c25e"/>
<path d="M848.5 530.3V584.6" stroke="#78c25e"/>
<path d="M851.5 530.3V584.6" stroke="#78c25e"/>
<path d="M848.3 533.8l3.1 -3M848.3 539.3l3.1 -3M848.3 544.8l3.1 -3M848.3 550.3l3.1 -3M848.3 555.8l3.1 -3M848.3 561.3l3.1 -3M848.3 566.8l3.1 -3M848.3 572.3l3.1 -3M848.3 577.8l3.1 -3M848.3 583.3l3.1 -3" stroke="#78c25e" fill="none" shape-rendering="geometricPrecision"/>
<path d="M851.4 533.5H884.5" stroke="#78c25e"/>
<path d="M923.5 533.7V584.6" stroke="#78c25e"/>
<path d="M923.5 530.3V584.6" stroke="#78c25e"/>
<path d="M926.5 530.3V584.6" stroke="#78c25e"/>
<path d="M923.6 533.8l3.1 -3M923.6 539.3l3.1 -3M923.6 544.8l3.1 -3M923.6 550.3l3.1 -3M923.6 555.8l3.1 -3M923.6 561.3l3.1 -3M923.6 566.8l3.1 -3M923.6 572.3l3.1 -3M923.6 577.8l3.1 -3M923.6 583.3l3.1 -3" stroke="#78c25e" fill="none" shape-rendering="geometricPrecision"/>
<path d="M890.5 533.5H923.6" stroke="#78c25e"/>
<path d="M1054.5 533.7V584.6" stroke="#78c25e"/>
<path d="M1051.5 530.3V584.6" stroke="#78c25e"/>
<path d="M1054.5 530.3V584.6" stroke="#78c25e"/>
<path d="M1051.3 533.8l3.1 -3M1051.3 539.3l3.1 -3M1051.3 544.8l3.1 -3M1051.3 550.3l3.1 -3M1051.3 555.8l3.1 -3M1051.3 561.3l3.1 -3M1051.3 566.8l3.1 -3M1051.3 572.3l3.1 -3M1051.3 577.8l3.1 -3M1051.3 583.3l3.1 -3" stroke="#78c25e" fill="none" shape-rendering="geometricPrecision"/>
<path d="M1054.4 533.5H1087.5" stroke="#78c25e"/>
<path d="M1126.5 533.7V584.6" stroke="#78c25e"/>
<path d="M1126.5 530.3V584.6" stroke="#78c25e"/>
<path d="M1129.5 530.3V584.6" stroke="#78c25e"/>
<path d="M1126.6 533.8l3.1 -3M1126.6 539.3l3.1 -3M1126.6 544.8l3.1 -3M1126.6 550.3l3.1 -3M1126.6 555.8l3.1 -3M1126.6 561.3l3.1 -3M1126.6 566.8l3.1 -3M1126.6 572.3l3.1 -3M1126.6 577.8l3.1 -3M1126.6 583.3l3.1 -3" stroke="#78c25e" fill="none" shape-rendering="geometricPrecision"/>
<path d="M1093.5 533.5H1126.6" stroke="#78c25e"/>
<path d="M1263.5 533.7V584.6" stroke="#78c25e"/>
<path d="M1260.5 530.3V584.6" stroke="#78c25e"/>
<path d="M1263.5 530.3V584.6" stroke="#78c25e"/>
<path d="M1260.3 533.8l3.1 -3M1260.3 539.3l3.1 -3M1260.3 544.8l3.1 -3M1260.3 550.3l3.1 -3M1260.3 555.8l3.1 -3M1260.3 561.3l3.1 -3M1260.3 566.8l3.1 -3M1260.3 572.3l3.1 -3M1260.3 577.8l3.1 -3M1260.3 583.3l3.1 -3" stroke="#78c25e" fill="none" shape-rendering="geometricPrecision"/>
<path d="M1263.4 533.5H1296.5" stroke="#78c25e"/>
<path d="M355.5 566.5V590.6" stroke="#78c25e"/>
<path d="M398.5 566.5V590.6" stroke="#78c25e"/>
<path d="M355.5 566.5H374.5" stroke="#78c25e"/>
<path d="M380.5 566.5H399.5" stroke="#78c25e"/>
<path d="M374.5 566.5H380.5" stroke="#78c25e"/>
<rect x="356.5" y="583.5" width="42" height="2" fill="#000" stroke="none"/>
<path d="M362.5 572.1V590.6" stroke="#78c25e"/>
<path d="M392.5 572.1V590.6" stroke="#78c25e"/>
<path d="M362.5 572.5H393.5" stroke="#78c25e"/>
<path d="M559.5 566.5V590.6" stroke="#78c25e"/>
<path d="M602.5 566.5V590.6" stroke="#78c25e"/>
<path d="M559.5 566.5H578.5" stroke="#78c25e"/>
<path d="M584.5 566.5H603.5" stroke="#78c25e"/>
<path d="M578.5 566.5H584.5" stroke="#78c25e"/>
<rect x="560.5" y="583.5" width="42" height="2" fill="#000" stroke="none"/>
<path d="M566.5 572.1V590.6" stroke="#78c25e"/>
<path d="M596.5 572.1V590.6" stroke="#78c25e"/>
<path d="M566.5 572.5H597.5" stroke="#78c25e"/>
<path d="M763.5 566.5V590.6" stroke="#78c25e"/>
<path d="M806.5 566.5V590.6" stroke="#78c25e"/>
<path d="M763.5 566.5H782.5" stroke="#78c25e"/>
<path d="M788.5 566.5H807.5" stroke="#78c25e"/>
<path d="M782.5 566.5H788.5" stroke="#78c25e"/>
<rect x="764.5" y="583.5" width="42" height="2" fill="#000" stroke="none"/>
<path d="M770.5 572.1V590.6" stroke="#78c25e"/>
<path d="M800.5 572.1V590.6" stroke="#78c25e"/>
<path d="M770.5 572.5H801.5" stroke="#78c25e"/>
<path d="M966.5 566.5V590.6" stroke="#78c25e"/>
<path d="M1009.5 566.5V590.6" stroke="#78c25e"/>
<path d="M966.5 566.5H985.5" stroke="#78c25e"/>
<path d="M991.5 566.5H1010.5" stroke="#78c25e"/>
<path d="M985.5 566.5H991.5" stroke="#78c25e"/>
<rect x="967.5" y="583.5" width="42" height="2" fill="#000" stroke="none"/>
<path d="M973.5 572.1V590.6" stroke="#78c25e"/>
<path d="M1003.5 572.1V590.6" stroke="#78c25e"/>
<path d="M973.5 572.5H1004.5" stroke="#78c25e"/>
<path d="M1173.5 566.5V590.6" stroke="#78c25e"/>
<path d="M1216.5 566.5V590.6" stroke="#78c25e"/>
<path d="M1173.5 566.5H1192.5" stroke="#78c25e"/>
<path d="M1198.5 566.5H1217.5" stroke="#78c25e"/>
<path d="M1192.5 566.5H1198.5" stroke="#78c25e"/>
<rect x="1174.5" y="583.5" width="42" height="2" fill="#000" stroke="none"/>
<path d="M1180.5 572.1V590.6" stroke="#78c25e"/>
<path d="M1210.5 572.1V590.6" stroke="#78c25e"/>
<path d="M1180.5 572.5H1211.5" stroke="#78c25e"/>
<rect x="318.2" y="225.5" width="39.2" height="4" fill="#000" stroke="none"/>
<rect x="398.1" y="225.5" width="39.2" height="4" fill="#000" stroke="none"/>
<rect x="521.9" y="225.5" width="39.2" height="4" fill="#000" stroke="none"/>
<rect x="601.9" y="225.5" width="39.2" height="4" fill="#000" stroke="none"/>
<rect x="725.7" y="225.5" width="39.2" height="4" fill="#000" stroke="none"/>
<rect x="805.6" y="225.5" width="39.2" height="4" fill="#000" stroke="none"/>
<rect x="929.4" y="225.5" width="39.2" height="4" fill="#000" stroke="none"/>
<rect x="1009.3" y="225.5" width="39.2" height="4" fill="#000" stroke="none"/>
<rect x="398.1" y="529.8" width="39.2" height="4" fill="#000" stroke="none"/>
<rect x="521.9" y="529.8" width="39.2" height="4" fill="#000" stroke="none"/>
<rect x="601.9" y="529.8" width="39.2" height="4" fill="#000" stroke="none"/>
<rect x="725.7" y="529.8" width="39.2" height="4" fill="#000" stroke="none"/>
<rect x="805.6" y="529.8" width="39.2" height="4" fill="#000" stroke="none"/>
<rect x="929.4" y="529.8" width="39.2" height="4" fill="#000" stroke="none"/>
<rect x="1009.3" y="529.8" width="39.2" height="4" fill="#000" stroke="none"/>
<rect x="1135.8" y="529.8" width="39.2" height="4" fill="#000" stroke="none"/>
<rect x="1215.7" y="529.8" width="39.2" height="4" fill="#000" stroke="none"/>
<rect x="317" y="529.8" width="39" height="4" fill="#000" stroke="none"/>
<path d="M207.5 159.4V211.7" stroke="#78c25e"/>
<path d="M207.5 159.4V214.8" stroke="#78c25e"/>
<path d="M210.5 159.4V214.8" stroke="#78c25e"/>
<path d="M207.6 162.9l3.2 -3M207.6 168.4l3.2 -3M207.6 173.9l3.2 -3M207.6 179.4l3.2 -3M207.6 184.9l3.2 -3M207.6 190.4l3.2 -3M207.6 195.9l3.2 -3M207.6 201.4l3.2 -3M207.6 206.9l3.2 -3M207.6 212.4l3.2 -3" stroke="#78c25e" fill="none" shape-rendering="geometricPrecision"/>
<rect x="213" y="211" width="40" height="4.5" fill="#000" stroke="none"/>
<path d="M1230 347.5H1242.8" stroke="#78c25e"/>
<path d="M1230 350.5H1242.8" stroke="#78c25e"/>
<path d="M1277.3 347.5H1292.4" stroke="#78c25e"/>
<path d="M1277.3 350.5H1292.4" stroke="#78c25e"/>
<path d="M1242.5 347.2V351.6" stroke="#78c25e"/>
<path d="M1277.5 347.2V351.6" stroke="#78c25e"/>
<path d="M176.3 409.5H194.3" stroke="#78c25e"/>
<path d="M176.3 412.5H194.3" stroke="#78c25e"/>
<path d="M231.4 409.5H242.6" stroke="#78c25e"/>
<path d="M231.4 412.5H242.6" stroke="#78c25e"/>
<path d="M194.5 409.8V413.8" stroke="#78c25e"/>
<path d="M231.5 409.8V413.8" stroke="#78c25e"/>
<path d="M1094.5 177.6V237.5" stroke="#78c25e"/>
<path d="M1097.5 175.6V237.5" stroke="#78c25e"/>
<path d="M1097.4 237.5H1115.5" stroke="#78c25e"/>
<path d="M1141.4 237.5H1150" stroke="#78c25e"/>
<path d="M1094.5 243.5H1115.5" stroke="#78c25e"/>
<path d="M1141.4 243.5H1171.3" stroke="#78c25e"/>
<path d="M1115.5 237.5V244" stroke="#78c25e"/>
<path d="M1141.5 237.5V244" stroke="#78c25e"/>
<path d="M1156.4 237.5H1171.3" stroke="#78c25e"/>
<path d="M1203.5 237.5H1218.6" stroke="#78c25e"/>
<path d="M1203.5 243.5H1224" stroke="#78c25e"/>
<path d="M1171.5 237.5V244" stroke="#78c25e"/>
<path d="M1203.5 237.5V244" stroke="#78c25e"/>
<path d="M1094.5 243.4V336.2" stroke="#78c25e"/>
<path d="M311.5 533.2V584.4" stroke="#78c25e"/>
<path d="M255.5 533.2V581" stroke="#78c25e"/>
<path d="M316.5 533V560" stroke="#78c25e"/>
<path d="M1260.5 590.5V598.5H1290.5M1260.5 591.5H1290.5M1275 591V598" stroke="#78c25e" fill="none"/>
<rect x="473" y="162" width="13" height="15" fill="#0000ff" stroke="none"/>
<rect x="473.5" y="162.5" width="12" height="14" stroke="#ffff00"/>
<rect x="677" y="162" width="13" height="15" fill="#0000ff" stroke="none"/>
<rect x="677.5" y="162.5" width="12" height="14" stroke="#ffff00"/>
<rect x="881" y="162" width="13" height="15" fill="#0000ff" stroke="none"/>
<rect x="881.5" y="162.5" width="12" height="14" stroke="#ffff00"/>
<rect x="1084" y="162" width="13" height="15" fill="#0000ff" stroke="none"/>
<rect x="1084.5" y="162.5" width="12" height="14" stroke="#ffff00"/>
<path d="M165 153L176 153L176 160L172 160L172 167L165 167Z" fill="#0000ff" stroke="none"/>
<rect x="165.5" y="153.5" width="10" height="13" stroke="#ffff00"/>
<path d="M269 153L277 153L277 169L281 169L281 176L269 176Z" fill="#0000ff" stroke="none"/>
<rect x="269.5" y="153.5" width="11" height="22" stroke="#ffff00"/>
<path d="M1219 162L1229 162L1229 170L1224 170L1224 178L1219 178Z" fill="#0000ff" stroke="none"/>
<rect x="1219.5" y="162.5" width="9" height="15" stroke="#ffff00"/>
<path d="M1292 162L1303 162L1303 176L1297 176L1297 170L1292 170Z" fill="#0000ff" stroke="none"/>
<rect x="1292.5" y="162.5" width="10" height="13" stroke="#ffff00"/>
<rect x="473" y="336" width="13" height="15" fill="#0000ff" stroke="none"/>
<rect x="473.5" y="336.5" width="12" height="14" stroke="#ffff00"/>
<rect x="677" y="336" width="13" height="15" fill="#0000ff" stroke="none"/>
<rect x="677.5" y="336.5" width="12" height="14" stroke="#ffff00"/>
<rect x="881" y="336" width="13" height="15" fill="#0000ff" stroke="none"/>
<rect x="881.5" y="336.5" width="12" height="14" stroke="#ffff00"/>
<rect x="1084" y="336" width="13" height="15" fill="#0000ff" stroke="none"/>
<rect x="1084.5" y="336.5" width="12" height="14" stroke="#ffff00"/>
<rect x="165" y="337" width="11" height="14" fill="#0000ff" stroke="none"/>
<rect x="165.5" y="337.5" width="10" height="13" stroke="#ffff00"/>
<rect x="268" y="336" width="11" height="15" fill="#0000ff" stroke="none"/>
<rect x="268.5" y="336.5" width="10" height="14" stroke="#ffff00"/>
<path d="M1219 337L1225 337L1225 343L1230 343L1230 351L1219 351Z" fill="#0000ff" stroke="none"/>
<rect x="1219.5" y="337.5" width="10" height="13" stroke="#ffff00"/>
<rect x="1292" y="337" width="11" height="14" fill="#0000ff" stroke="none"/>
<rect x="1292.5" y="337.5" width="10" height="13" stroke="#ffff00"/>
<rect x="473" y="409" width="13" height="14" fill="#0000ff" stroke="none"/>
<rect x="473.5" y="409.5" width="12" height="13" stroke="#ffff00"/>
<rect x="677" y="409" width="13" height="14" fill="#0000ff" stroke="none"/>
<rect x="677.5" y="409.5" width="12" height="13" stroke="#ffff00"/>
<rect x="881" y="409" width="13" height="14" fill="#0000ff" stroke="none"/>
<rect x="881.5" y="409.5" width="12" height="13" stroke="#ffff00"/>
<rect x="1084" y="409" width="13" height="14" fill="#0000ff" stroke="none"/>
<rect x="1084.5" y="409.5" width="12" height="13" stroke="#ffff00"/>
<path d="M166 409L176 409L176 417L172 417L172 422L166 422Z" fill="#0000ff" stroke="none"/>
<rect x="166.5" y="409.5" width="9" height="12" stroke="#ffff00"/>
<rect x="243" y="409" width="13" height="13" fill="#0000ff" stroke="none"/>
<rect x="243.5" y="409.5" width="12" height="12" stroke="#ffff00"/>
<rect x="1290" y="409" width="13" height="13" fill="#0000ff" stroke="none"/>
<rect x="1290.5" y="409.5" width="12" height="12" stroke="#ffff00"/>
<rect x="473" y="582" width="13" height="15" fill="#0000ff" stroke="none"/>
<rect x="473.5" y="582.5" width="12" height="14" stroke="#ffff00"/>
<rect x="677" y="582" width="13" height="15" fill="#0000ff" stroke="none"/>
<rect x="677.5" y="582.5" width="12" height="14" stroke="#ffff00"/>
<rect x="881" y="582" width="13" height="15" fill="#0000ff" stroke="none"/>
<rect x="881.5" y="582.5" width="12" height="14" stroke="#ffff00"/>
<rect x="1084" y="582" width="13" height="15" fill="#0000ff" stroke="none"/>
<rect x="1084.5" y="582.5" width="12" height="14" stroke="#ffff00"/>
<path d="M166 584L172 584L172 589L176 589L176 598L166 598Z" fill="#0000ff" stroke="none"/>
<rect x="166.5" y="584.5" width="9" height="13" stroke="#ffff00"/>
<path d="M249 581L256 581L256 587L261 587L261 598L249 598Z" fill="#0000ff" stroke="none"/>
<rect x="249.5" y="581.5" width="11" height="16" stroke="#ffff00"/>
<rect x="1290" y="584" width="13" height="14" fill="#0000ff" stroke="none"/>
<rect x="1290.5" y="584.5" width="12" height="13" stroke="#ffff00"/>
<path d="M476.5 337V350M482.5 337V350" stroke="#78c25e"/>
<path d="M476.5 410V423M482.5 410V423" stroke="#78c25e"/>
<path d="M680.5 337V350M686.5 337V350" stroke="#78c25e"/>
<path d="M680.5 410V423M686.5 410V423" stroke="#78c25e"/>
<path d="M884.5 337V350M890.5 337V350" stroke="#78c25e"/>
<path d="M884.5 410V423M890.5 410V423" stroke="#78c25e"/>
<path d="M1087.5 337V350M1093.5 337V350" stroke="#78c25e"/>
<path d="M1087.5 410V423M1093.5 410V423" stroke="#78c25e"/>
<path d="M165.5 338V350M171.5 338V350" stroke="#78c25e"/>
<path d="M165.5 410V422M171.5 410V422" stroke="#78c25e"/>
<path d="M1296.5 338V350M1302.5 338V350" stroke="#78c25e"/>
<path d="M1296.5 410V422M1302.5 410V422" stroke="#78c25e"/>
<path d="M270.5 338V350M276.5 338V350" stroke="#78c25e"/>
<path d="M142 156.5H1326" stroke="#ff0000" stroke-dasharray="52.5 4.9 1 4.9"/>
<path d="M142 165.5H1326" stroke="#ff0000" stroke-dasharray="52.5 4.9 1 4.9"/>
<path d="M142 172.5H1326" stroke="#ff0000" stroke-dasharray="52.5 4.9 1 4.9"/>
<path d="M142 190.5H1326" stroke="#ff0000" stroke-dasharray="52.5 4.9 1 4.9"/>
<path d="M142 229.5H1326" stroke="#ff0000" stroke-dasharray="52.5 4.9 1 4.9"/>
<path d="M142 347.5H1326" stroke="#ff0000" stroke-dasharray="52.5 4.9 1 4.9"/>
<path d="M142 412.5H1326" stroke="#ff0000" stroke-dasharray="52.5 4.9 1 4.9"/>
<path d="M142 530.5H1326" stroke="#ff0000" stroke-dasharray="52.5 4.9 1 4.9"/>
<path d="M142 569.5H1326" stroke="#ff0000" stroke-dasharray="52.5 4.9 1 4.9"/>
<path d="M142 587.5H1326" stroke="#ff0000" stroke-dasharray="52.5 4.9 1 4.9"/>
<path d="M142 594.5H1326" stroke="#ff0000" stroke-dasharray="52.5 4.9 1 4.9"/>
<path d="M1091 240.5H1326" stroke="#ff0000" stroke-dasharray="52.5 4.9 1 4.9"/>
<path d="M142 214.5H274" stroke="#ff0000" stroke-dasharray="52.5 4.9 1 4.9"/>
<path d="M168.5 139.5V618.5" stroke="#ff0000" stroke-dasharray="52.5 4.9 1 4.9"/>
<path d="M377.5 139.5V618.5" stroke="#ff0000" stroke-dasharray="52.5 4.9 1 4.9"/>
<path d="M479.5 139.5V618.5" stroke="#ff0000" stroke-dasharray="52.5 4.9 1 4.9"/>
<path d="M581.5 139.5V618.5" stroke="#ff0000" stroke-dasharray="52.5 4.9 1 4.9"/>
<path d="M683.5 139.5V618.5" stroke="#ff0000" stroke-dasharray="52.5 4.9 1 4.9"/>
<path d="M785.5 139.5V618.5" stroke="#ff0000" stroke-dasharray="52.5 4.9 1 4.9"/>
<path d="M887.5 139.5V618.5" stroke="#ff0000" stroke-dasharray="52.5 4.9 1 4.9"/>
<path d="M988.5 139.5V618.5" stroke="#ff0000" stroke-dasharray="52.5 4.9 1 4.9"/>
<path d="M1090.5 139.5V618.5" stroke="#ff0000" stroke-dasharray="52.5 4.9 1 4.9"/>
<path d="M1299.5 139.5V618.5" stroke="#ff0000" stroke-dasharray="52.5 4.9 1 4.9"/>
<path d="M273.5 139.5V382" stroke="#ff0000" stroke-dasharray="52.5 4.9 1 4.9"/>
<path d="M252.5 395V618.5" stroke="#ff0000" stroke-dasharray="52.5 4.9 1 4.9"/>
<path d="M1153.5 139.5V252" stroke="#ff0000" stroke-dasharray="52.5 4.9 1 4.9"/>
<path d="M1221.5 139.5V420" stroke="#ff0000" stroke-dasharray="52.5 4.9 1 4.9"/>
<path d="M1195.5 400V618.5" stroke="#ff0000" stroke-dasharray="52.5 4.9 1 4.9"/>
<path d="M312.5 160V247" stroke="#ff0000"/>
<path d="M440.5 160V247" stroke="#ff0000"/>
<path d="M518.5 160V247" stroke="#ff0000"/>
<path d="M644.5 160V247" stroke="#ff0000"/>
<path d="M722.5 160V247" stroke="#ff0000"/>
<path d="M848.5 160V247" stroke="#ff0000"/>
<path d="M926.5 160V247" stroke="#ff0000"/>
<path d="M1051.5 160V247" stroke="#ff0000"/>
<path d="M312.5 160V247" stroke="#ff0000"/>
<path d="M359.5 152V190.4" stroke="#ff0000"/>
<path d="M395.5 152V190.4" stroke="#ff0000"/>
<path d="M563.5 152V190.4" stroke="#ff0000"/>
<path d="M599.5 152V190.4" stroke="#ff0000"/>
<path d="M767.5 152V190.4" stroke="#ff0000"/>
<path d="M803.5 152V190.4" stroke="#ff0000"/>
<path d="M970.5 152V190.4" stroke="#ff0000"/>
<path d="M1006.5 152V190.4" stroke="#ff0000"/>
<path d="M440.5 512.9V599.9" stroke="#ff0000"/>
<path d="M518.5 512.9V599.9" stroke="#ff0000"/>
<path d="M644.5 512.9V599.9" stroke="#ff0000"/>
<path d="M722.5 512.9V599.9" stroke="#ff0000"/>
<path d="M848.5 512.9V599.9" stroke="#ff0000"/>
<path d="M926.5 512.9V599.9" stroke="#ff0000"/>
<path d="M1051.5 512.9V599.9" stroke="#ff0000"/>
<path d="M1129.5 512.9V599.9" stroke="#ff0000"/>
<path d="M1260.5 512.9V599.9" stroke="#ff0000"/>
<path d="M359.5 569.5V607.9" stroke="#ff0000"/>
<path d="M395.5 569.5V607.9" stroke="#ff0000"/>
<path d="M563.5 569.5V607.9" stroke="#ff0000"/>
<path d="M599.5 569.5V607.9" stroke="#ff0000"/>
<path d="M767.5 569.5V607.9" stroke="#ff0000"/>
<path d="M803.5 569.5V607.9" stroke="#ff0000"/>
<path d="M970.5 569.5V607.9" stroke="#ff0000"/>
<path d="M1006.5 569.5V607.9" stroke="#ff0000"/>
<path d="M1177.5 569.5V607.9" stroke="#ff0000"/>
<path d="M1213.5 569.5V607.9" stroke="#ff0000"/>
<path d="M210.5 160V247" stroke="#ff0000"/>
<path d="M359.5 569.5V604.3" stroke="#ff0000"/>
<path d="M396.5 569.5V604.3" stroke="#ff0000"/>
<path d="M563.5 569.5V604.3" stroke="#ff0000"/>
<path d="M599.5 569.5V604.3" stroke="#ff0000"/>
<path d="M766.5 569.5V604.3" stroke="#ff0000"/>
<path d="M803.5 569.5V604.3" stroke="#ff0000"/>
<path d="M970.5 569.5V604.3" stroke="#ff0000"/>
<path d="M1007.5 569.5V604.3" stroke="#ff0000"/>
<path d="M1177.5 569.5V604.3" stroke="#ff0000"/>
<path d="M1213.5 569.5V604.3" stroke="#ff0000"/>
<path d="M1152.5 238V241.5H1156M1218 240.5h6M1221 237.5v6" stroke="#ff0000" fill="none"/>
<path d="M1095.5 148V250" stroke="#ff0000"/>
<ellipse cx="290.7" cy="185.5" rx="7.2" ry="4.8" stroke="#808080" stroke-width="2.2" shape-rendering="geometricPrecision"/>
<ellipse cx="291.7" cy="185.5" rx="4" ry="2.6" stroke="#808080" stroke-width="1" shape-rendering="geometricPrecision"/>
<path d="M286.7 190.8h8" stroke="#808080" stroke-width="2"/>
<path d="M276.5 196.5H309.6" stroke="#808080"/>
<circle cx="284.2" cy="211.8" r="2.6" stroke="#808080" shape-rendering="geometricPrecision"/>
<path d="M284.2 211.5H276.5" stroke="#808080"/>
<path d="M280.4 212H276.5" stroke="#808080" stroke-width="2"/>
<ellipse cx="462.3" cy="185.5" rx="7.2" ry="4.8" stroke="#808080" stroke-width="2.2" shape-rendering="geometricPrecision"/>
<ellipse cx="463.3" cy="185.5" rx="4" ry="2.6" stroke="#808080" stroke-width="1" shape-rendering="geometricPrecision"/>
<path d="M458.3 190.8h8" stroke="#808080" stroke-width="2"/>
<path d="M443.4 196.5H476.5" stroke="#808080"/>
<circle cx="468.8" cy="211.8" r="2.6" stroke="#808080" shape-rendering="geometricPrecision"/>
<path d="M468.8 211.5H476.5" stroke="#808080"/>
<path d="M472.6 212H476.5" stroke="#808080" stroke-width="2"/>
<ellipse cx="496.7" cy="185.5" rx="7.2" ry="4.8" stroke="#808080" stroke-width="2.2" shape-rendering="geometricPrecision"/>
<ellipse cx="497.7" cy="185.5" rx="4" ry="2.6" stroke="#808080" stroke-width="1" shape-rendering="geometricPrecision"/>
<path d="M492.7 190.8h8" stroke="#808080" stroke-width="2"/>
<path d="M482.5 196.5H515.6" stroke="#808080"/>
<circle cx="490.2" cy="211.8" r="2.6" stroke="#808080" shape-rendering="geometricPrecision"/>
<path d="M490.2 211.5H482.5" stroke="#808080"/>
<path d="M486.4 212H482.5" stroke="#808080" stroke-width="2"/>
<ellipse cx="666.3" cy="185.5" rx="7.2" ry="4.8" stroke="#808080" stroke-width="2.2" shape-rendering="geometricPrecision"/>
<ellipse cx="667.3" cy="185.5" rx="4" ry="2.6" stroke="#808080" stroke-width="1" shape-rendering="geometricPrecision"/>
<path d="M662.3 190.8h8" stroke="#808080" stroke-width="2"/>
<path d="M647.4 196.5H680.5" stroke="#808080"/>
<circle cx="672.8" cy="211.8" r="2.6" stroke="#808080" shape-rendering="geometricPrecision"/>
<path d="M672.8 211.5H680.5" stroke="#808080"/>
<path d="M676.6 212H680.5" stroke="#808080" stroke-width="2"/>
<ellipse cx="700.7" cy="185.5" rx="7.2" ry="4.8" stroke="#808080" stroke-width="2.2" shape-rendering="geometricPrecision"/>
<ellipse cx="701.7" cy="185.5" rx="4" ry="2.6" stroke="#808080" stroke-width="1" shape-rendering="geometricPrecision"/>
<path d="M696.7 190.8h8" stroke="#808080" stroke-width="2"/>
<path d="M686.5 196.5H719.6" stroke="#808080"/>
<circle cx="694.2" cy="211.8" r="2.6" stroke="#808080" shape-rendering="geometricPrecision"/>
<path d="M694.2 211.5H686.5" stroke="#808080"/>
<path d="M690.4 212H686.5" stroke="#808080" stroke-width="2"/>
<ellipse cx="870.3" cy="185.5" rx="7.2" ry="4.8" stroke="#808080" stroke-width="2.2" shape-rendering="geometricPrecision"/>
<ellipse cx="871.3" cy="185.5" rx="4" ry="2.6" stroke="#808080" stroke-width="1" shape-rendering="geometricPrecision"/>
<path d="M866.3 190.8h8" stroke="#808080" stroke-width="2"/>
<path d="M851.4 196.5H884.5" stroke="#808080"/>
<circle cx="876.8" cy="211.8" r="2.6" stroke="#808080" shape-rendering="geometricPrecision"/>
<path d="M876.8 211.5H884.5" stroke="#808080"/>
<path d="M880.6 212H884.5" stroke="#808080" stroke-width="2"/>
<ellipse cx="904.7" cy="185.5" rx="7.2" ry="4.8" stroke="#808080" stroke-width="2.2" shape-rendering="geometricPrecision"/>
<ellipse cx="905.7" cy="185.5" rx="4" ry="2.6" stroke="#808080" stroke-width="1" shape-rendering="geometricPrecision"/>
<path d="M900.7 190.8h8" stroke="#808080" stroke-width="2"/>
<path d="M890.5 196.5H923.6" stroke="#808080"/>
<circle cx="898.2" cy="211.8" r="2.6" stroke="#808080" shape-rendering="geometricPrecision"/>
<path d="M898.2 211.5H890.5" stroke="#808080"/>
<path d="M894.4 212H890.5" stroke="#808080" stroke-width="2"/>
<ellipse cx="1073.3" cy="185.5" rx="7.2" ry="4.8" stroke="#808080" stroke-width="2.2" shape-rendering="geometricPrecision"/>
<ellipse cx="1074.3" cy="185.5" rx="4" ry="2.6" stroke="#808080" stroke-width="1" shape-rendering="geometricPrecision"/>
<path d="M1069.3 190.8h8" stroke="#808080" stroke-width="2"/>
<path d="M1054.4 196.5H1087.5" stroke="#808080"/>
<circle cx="1079.8" cy="211.8" r="2.6" stroke="#808080" shape-rendering="geometricPrecision"/>
<path d="M1079.8 211.5H1087.5" stroke="#808080"/>
<path d="M1083.7 212H1087.5" stroke="#808080" stroke-width="2"/>
<ellipse cx="290.7" cy="185.5" rx="7.2" ry="4.8" stroke="#808080" stroke-width="2.2" shape-rendering="geometricPrecision"/>
<ellipse cx="291.7" cy="185.5" rx="4" ry="2.6" stroke="#808080" stroke-width="1" shape-rendering="geometricPrecision"/>
<path d="M286.7 190.8h8" stroke="#808080" stroke-width="2"/>
<path d="M276.5 196.5H309.6" stroke="#808080"/>
<circle cx="284.2" cy="211.8" r="2.6" stroke="#808080" shape-rendering="geometricPrecision"/>
<path d="M284.2 211.5H276.5" stroke="#808080"/>
<path d="M280.4 212H276.5" stroke="#808080" stroke-width="2"/>
<path d="M362.5 169.5H392.5" stroke="#7ab8f8"/>
<path d="M362.5 172.5H392.5" stroke="#7ab8f8"/>
<path d="M369.8 176.9h-3.5V184.7h3.5M384.3 176.9h3.5V184.7h-3.5" stroke="#4c8c78" stroke-width="1.6"/>
<path d="M373.5 181.6l4 -3.5l4 3.5M371.5 184.2h5M380.5 184.2h5M379.5 177.9h4" stroke="#4c8c78" shape-rendering="geometricPrecision"/>
<path d="M369.5 187.8V193.4" stroke="#7ab8f8"/>
<path d="M369.5 226.3V230" stroke="#7ab8f8"/>
<path d="M371.5 187.8V193.4" stroke="#7ab8f8"/>
<path d="M371.5 226.3V230" stroke="#7ab8f8"/>
<path d="M382.5 187.8V193.4" stroke="#7ab8f8"/>
<path d="M382.5 226.3V230" stroke="#7ab8f8"/>
<path d="M384.5 187.8V193.4" stroke="#7ab8f8"/>
<path d="M384.5 226.3V230" stroke="#7ab8f8"/>
<rect x="361.5" y="193.5" width="13" height="32" stroke="#4c8c78"/>
<path d="M369 204.6V210.8" stroke="#4c8c78" stroke-width="1.3"/>
<path d="M366.9 204.6V210.8" stroke="#4c8c78" stroke-width="1.3"/>
<path d="M364.8 204.6V210.8" stroke="#4c8c78" stroke-width="1.3"/>
<rect x="364.4" y="215.2" width="8.7" height="9.3" rx="1.5" stroke="#4c8c78" stroke-width="1.3"/>
<path d="M374.2 219.8H367.8" stroke="#4c8c78" stroke-width="1.6"/>
<rect x="380.5" y="193.5" width="13" height="32" stroke="#4c8c78"/>
<path d="M386 204.6V210.8" stroke="#4c8c78" stroke-width="1.3"/>
<path d="M388.1 204.6V210.8" stroke="#4c8c78" stroke-width="1.3"/>
<path d="M390.2 204.6V210.8" stroke="#4c8c78" stroke-width="1.3"/>
<rect x="381.9" y="215.2" width="8.7" height="9.3" rx="1.5" stroke="#4c8c78" stroke-width="1.3"/>
<path d="M380.8 219.8H387.2" stroke="#4c8c78" stroke-width="1.6"/>
<path d="M566.5 169.5H596.5" stroke="#7ab8f8"/>
<path d="M566.5 172.5H596.5" stroke="#7ab8f8"/>
<path d="M573.8 176.9h-3.5V184.7h3.5M588.3 176.9h3.5V184.7h-3.5" stroke="#4c8c78" stroke-width="1.6"/>
<path d="M577.5 181.6l4 -3.5l4 3.5M575.5 184.2h5M584.5 184.2h5M583.5 177.9h4" stroke="#4c8c78" shape-rendering="geometricPrecision"/>
<path d="M573.5 187.8V193.4" stroke="#7ab8f8"/>
<path d="M573.5 226.3V230" stroke="#7ab8f8"/>
<path d="M575.5 187.8V193.4" stroke="#7ab8f8"/>
<path d="M575.5 226.3V230" stroke="#7ab8f8"/>
<path d="M586.5 187.8V193.4" stroke="#7ab8f8"/>
<path d="M586.5 226.3V230" stroke="#7ab8f8"/>
<path d="M588.5 187.8V193.4" stroke="#7ab8f8"/>
<path d="M588.5 226.3V230" stroke="#7ab8f8"/>
<rect x="565.5" y="193.5" width="13" height="32" stroke="#4c8c78"/>
<path d="M573 204.6V210.8" stroke="#4c8c78" stroke-width="1.3"/>
<path d="M570.9 204.6V210.8" stroke="#4c8c78" stroke-width="1.3"/>
<path d="M568.8 204.6V210.8" stroke="#4c8c78" stroke-width="1.3"/>
<rect x="568.4" y="215.2" width="8.7" height="9.3" rx="1.5" stroke="#4c8c78" stroke-width="1.3"/>
<path d="M578.2 219.8H571.8" stroke="#4c8c78" stroke-width="1.6"/>
<rect x="584.5" y="193.5" width="13" height="32" stroke="#4c8c78"/>
<path d="M590 204.6V210.8" stroke="#4c8c78" stroke-width="1.3"/>
<path d="M592.1 204.6V210.8" stroke="#4c8c78" stroke-width="1.3"/>
<path d="M594.2 204.6V210.8" stroke="#4c8c78" stroke-width="1.3"/>
<rect x="585.9" y="215.2" width="8.7" height="9.3" rx="1.5" stroke="#4c8c78" stroke-width="1.3"/>
<path d="M584.8 219.8H591.2" stroke="#4c8c78" stroke-width="1.6"/>
<path d="M770.5 169.5H800.5" stroke="#7ab8f8"/>
<path d="M770.5 172.5H800.5" stroke="#7ab8f8"/>
<path d="M777.8 176.9h-3.5V184.7h3.5M792.3 176.9h3.5V184.7h-3.5" stroke="#4c8c78" stroke-width="1.6"/>
<path d="M781.5 181.6l4 -3.5l4 3.5M779.5 184.2h5M788.5 184.2h5M787.5 177.9h4" stroke="#4c8c78" shape-rendering="geometricPrecision"/>
<path d="M777.5 187.8V193.4" stroke="#7ab8f8"/>
<path d="M777.5 226.3V230" stroke="#7ab8f8"/>
<path d="M779.5 187.8V193.4" stroke="#7ab8f8"/>
<path d="M779.5 226.3V230" stroke="#7ab8f8"/>
<path d="M790.5 187.8V193.4" stroke="#7ab8f8"/>
<path d="M790.5 226.3V230" stroke="#7ab8f8"/>
<path d="M792.5 187.8V193.4" stroke="#7ab8f8"/>
<path d="M792.5 226.3V230" stroke="#7ab8f8"/>
<rect x="769.5" y="193.5" width="13" height="32" stroke="#4c8c78"/>
<path d="M777 204.6V210.8" stroke="#4c8c78" stroke-width="1.3"/>
<path d="M774.9 204.6V210.8" stroke="#4c8c78" stroke-width="1.3"/>
<path d="M772.8 204.6V210.8" stroke="#4c8c78" stroke-width="1.3"/>
<rect x="772.4" y="215.2" width="8.7" height="9.3" rx="1.5" stroke="#4c8c78" stroke-width="1.3"/>
<path d="M782.2 219.8H775.8" stroke="#4c8c78" stroke-width="1.6"/>
<rect x="788.5" y="193.5" width="13" height="32" stroke="#4c8c78"/>
<path d="M794 204.6V210.8" stroke="#4c8c78" stroke-width="1.3"/>
<path d="M796.1 204.6V210.8" stroke="#4c8c78" stroke-width="1.3"/>
<path d="M798.2 204.6V210.8" stroke="#4c8c78" stroke-width="1.3"/>
<rect x="789.9" y="215.2" width="8.7" height="9.3" rx="1.5" stroke="#4c8c78" stroke-width="1.3"/>
<path d="M788.8 219.8H795.2" stroke="#4c8c78" stroke-width="1.6"/>
<path d="M973.5 169.5H1003.5" stroke="#7ab8f8"/>
<path d="M973.5 172.5H1003.5" stroke="#7ab8f8"/>
<path d="M980.8 176.9h-3.5V184.7h3.5M995.3 176.9h3.5V184.7h-3.5" stroke="#4c8c78" stroke-width="1.6"/>
<path d="M984.5 181.6l4 -3.5l4 3.5M982.5 184.2h5M991.5 184.2h5M990.5 177.9h4" stroke="#4c8c78" shape-rendering="geometricPrecision"/>
<path d="M980.5 187.8V193.4" stroke="#7ab8f8"/>
<path d="M980.5 226.3V230" stroke="#7ab8f8"/>
<path d="M982.5 187.8V193.4" stroke="#7ab8f8"/>
<path d="M982.5 226.3V230" stroke="#7ab8f8"/>
<path d="M993.5 187.8V193.4" stroke="#7ab8f8"/>
<path d="M993.5 226.3V230" stroke="#7ab8f8"/>
<path d="M995.5 187.8V193.4" stroke="#7ab8f8"/>
<path d="M995.5 226.3V230" stroke="#7ab8f8"/>
<rect x="972.5" y="193.5" width="13" height="32" stroke="#4c8c78"/>
<path d="M980 204.6V210.8" stroke="#4c8c78" stroke-width="1.3"/>
<path d="M977.9 204.6V210.8" stroke="#4c8c78" stroke-width="1.3"/>
<path d="M975.8 204.6V210.8" stroke="#4c8c78" stroke-width="1.3"/>
<rect x="975.4" y="215.2" width="8.7" height="9.3" rx="1.5" stroke="#4c8c78" stroke-width="1.3"/>
<path d="M985.2 219.8H978.8" stroke="#4c8c78" stroke-width="1.6"/>
<rect x="991.5" y="193.5" width="13" height="32" stroke="#4c8c78"/>
<path d="M997 204.6V210.8" stroke="#4c8c78" stroke-width="1.3"/>
<path d="M999.1 204.6V210.8" stroke="#4c8c78" stroke-width="1.3"/>
<path d="M1001.2 204.6V210.8" stroke="#4c8c78" stroke-width="1.3"/>
<rect x="992.9" y="215.2" width="8.7" height="9.3" rx="1.5" stroke="#4c8c78" stroke-width="1.3"/>
<path d="M991.8 219.8H998.2" stroke="#4c8c78" stroke-width="1.6"/>
<ellipse cx="462.3" cy="574.4" rx="7.2" ry="4.8" stroke="#808080" stroke-width="2.2" shape-rendering="geometricPrecision"/>
<ellipse cx="463.3" cy="574.4" rx="4" ry="2.6" stroke="#808080" stroke-width="1" shape-rendering="geometricPrecision"/>
<path d="M458.3 579.7h8" stroke="#808080" stroke-width="2"/>
<path d="M443.4 563.5H476.5" stroke="#808080"/>
<circle cx="468.8" cy="548.1" r="2.6" stroke="#808080" shape-rendering="geometricPrecision"/>
<path d="M468.8 548.5H476.5" stroke="#808080"/>
<path d="M472.6 548H476.5" stroke="#808080" stroke-width="2"/>
<ellipse cx="496.7" cy="574.4" rx="7.2" ry="4.8" stroke="#808080" stroke-width="2.2" shape-rendering="geometricPrecision"/>
<ellipse cx="497.7" cy="574.4" rx="4" ry="2.6" stroke="#808080" stroke-width="1" shape-rendering="geometricPrecision"/>
<path d="M492.7 579.7h8" stroke="#808080" stroke-width="2"/>
<path d="M482.5 563.5H515.6" stroke="#808080"/>
<circle cx="490.2" cy="548.1" r="2.6" stroke="#808080" shape-rendering="geometricPrecision"/>
<path d="M490.2 548.5H482.5" stroke="#808080"/>
<path d="M486.4 548H482.5" stroke="#808080" stroke-width="2"/>
<ellipse cx="666.3" cy="574.4" rx="7.2" ry="4.8" stroke="#808080" stroke-width="2.2" shape-rendering="geometricPrecision"/>
<ellipse cx="667.3" cy="574.4" rx="4" ry="2.6" stroke="#808080" stroke-width="1" shape-rendering="geometricPrecision"/>
<path d="M662.3 579.7h8" stroke="#808080" stroke-width="2"/>
<path d="M647.4 563.5H680.5" stroke="#808080"/>
<circle cx="672.8" cy="548.1" r="2.6" stroke="#808080" shape-rendering="geometricPrecision"/>
<path d="M672.8 548.5H680.5" stroke="#808080"/>
<path d="M676.6 548H680.5" stroke="#808080" stroke-width="2"/>
<ellipse cx="700.7" cy="574.4" rx="7.2" ry="4.8" stroke="#808080" stroke-width="2.2" shape-rendering="geometricPrecision"/>
<ellipse cx="701.7" cy="574.4" rx="4" ry="2.6" stroke="#808080" stroke-width="1" shape-rendering="geometricPrecision"/>
<path d="M696.7 579.7h8" stroke="#808080" stroke-width="2"/>
<path d="M686.5 563.5H719.6" stroke="#808080"/>
<circle cx="694.2" cy="548.1" r="2.6" stroke="#808080" shape-rendering="geometricPrecision"/>
<path d="M694.2 548.5H686.5" stroke="#808080"/>
<path d="M690.4 548H686.5" stroke="#808080" stroke-width="2"/>
<ellipse cx="870.3" cy="574.4" rx="7.2" ry="4.8" stroke="#808080" stroke-width="2.2" shape-rendering="geometricPrecision"/>
<ellipse cx="871.3" cy="574.4" rx="4" ry="2.6" stroke="#808080" stroke-width="1" shape-rendering="geometricPrecision"/>
<path d="M866.3 579.7h8" stroke="#808080" stroke-width="2"/>
<path d="M851.4 563.5H884.5" stroke="#808080"/>
<circle cx="876.8" cy="548.1" r="2.6" stroke="#808080" shape-rendering="geometricPrecision"/>
<path d="M876.8 548.5H884.5" stroke="#808080"/>
<path d="M880.6 548H884.5" stroke="#808080" stroke-width="2"/>
<ellipse cx="904.7" cy="574.4" rx="7.2" ry="4.8" stroke="#808080" stroke-width="2.2" shape-rendering="geometricPrecision"/>
<ellipse cx="905.7" cy="574.4" rx="4" ry="2.6" stroke="#808080" stroke-width="1" shape-rendering="geometricPrecision"/>
<path d="M900.7 579.7h8" stroke="#808080" stroke-width="2"/>
<path d="M890.5 563.5H923.6" stroke="#808080"/>
<circle cx="898.2" cy="548.1" r="2.6" stroke="#808080" shape-rendering="geometricPrecision"/>
<path d="M898.2 548.5H890.5" stroke="#808080"/>
<path d="M894.4 548H890.5" stroke="#808080" stroke-width="2"/>
<ellipse cx="1073.3" cy="574.4" rx="7.2" ry="4.8" stroke="#808080" stroke-width="2.2" shape-rendering="geometricPrecision"/>
<ellipse cx="1074.3" cy="574.4" rx="4" ry="2.6" stroke="#808080" stroke-width="1" shape-rendering="geometricPrecision"/>
<path d="M1069.3 579.7h8" stroke="#808080" stroke-width="2"/>
<path d="M1054.4 563.5H1087.5" stroke="#808080"/>
<circle cx="1079.8" cy="548.1" r="2.6" stroke="#808080" shape-rendering="geometricPrecision"/>
<path d="M1079.8 548.5H1087.5" stroke="#808080"/>
<path d="M1083.7 548H1087.5" stroke="#808080" stroke-width="2"/>
<ellipse cx="1107.7" cy="574.4" rx="7.2" ry="4.8" stroke="#808080" stroke-width="2.2" shape-rendering="geometricPrecision"/>
<ellipse cx="1108.7" cy="574.4" rx="4" ry="2.6" stroke="#808080" stroke-width="1" shape-rendering="geometricPrecision"/>
<path d="M1103.7 579.7h8" stroke="#808080" stroke-width="2"/>
<path d="M1093.5 563.5H1126.6" stroke="#808080"/>
<circle cx="1101.2" cy="548.1" r="2.6" stroke="#808080" shape-rendering="geometricPrecision"/>
<path d="M1101.2 548.5H1093.5" stroke="#808080"/>
<path d="M1097.3 548H1093.5" stroke="#808080" stroke-width="2"/>
<ellipse cx="1282.3" cy="574.4" rx="7.2" ry="4.8" stroke="#808080" stroke-width="2.2" shape-rendering="geometricPrecision"/>
<ellipse cx="1283.3" cy="574.4" rx="4" ry="2.6" stroke="#808080" stroke-width="1" shape-rendering="geometricPrecision"/>
<path d="M1278.3 579.7h8" stroke="#808080" stroke-width="2"/>
<path d="M1263.4 563.5H1296.5" stroke="#808080"/>
<circle cx="1288.8" cy="548.1" r="2.6" stroke="#808080" shape-rendering="geometricPrecision"/>
<path d="M1288.8 548.5H1296.5" stroke="#808080"/>
<path d="M1292.7 548H1296.5" stroke="#808080" stroke-width="2"/>
<path d="M362.5 590.5H392.5" stroke="#7ab8f8"/>
<path d="M362.5 587.5H392.5" stroke="#7ab8f8"/>
<path d="M369.8 575.7h-3.5V583.5h3.5M384.3 575.7h3.5V583.5h-3.5" stroke="#4c8c78" stroke-width="1.6"/>
<path d="M373.5 580.3l4 -3.5l4 3.5M371.5 583h5M380.5 583h5M379.5 576.7h4" stroke="#4c8c78" shape-rendering="geometricPrecision"/>
<path d="M369.5 566.5V572.1" stroke="#7ab8f8"/>
<path d="M369.5 529.9V533.6" stroke="#7ab8f8"/>
<path d="M371.5 566.5V572.1" stroke="#7ab8f8"/>
<path d="M371.5 529.9V533.6" stroke="#7ab8f8"/>
<path d="M382.5 566.5V572.1" stroke="#7ab8f8"/>
<path d="M382.5 529.9V533.6" stroke="#7ab8f8"/>
<path d="M384.5 566.5V572.1" stroke="#7ab8f8"/>
<path d="M384.5 529.9V533.6" stroke="#7ab8f8"/>
<rect x="361.5" y="534.5" width="13" height="32" stroke="#4c8c78"/>
<path d="M369 538V545.5" stroke="#4c8c78" stroke-width="1.3"/>
<path d="M366.9 538V545.5" stroke="#4c8c78" stroke-width="1.3"/>
<path d="M364.8 538V545.5" stroke="#4c8c78" stroke-width="1.3"/>
<rect x="364.4" y="555.4" width="8.7" height="9.3" rx="1.5" stroke="#4c8c78" stroke-width="1.3"/>
<path d="M374.2 560H367.8" stroke="#4c8c78" stroke-width="1.6"/>
<rect x="380.5" y="534.5" width="13" height="32" stroke="#4c8c78"/>
<path d="M386 538V545.5" stroke="#4c8c78" stroke-width="1.3"/>
<path d="M388.1 538V545.5" stroke="#4c8c78" stroke-width="1.3"/>
<path d="M390.2 538V545.5" stroke="#4c8c78" stroke-width="1.3"/>
<rect x="381.9" y="555.4" width="8.7" height="9.3" rx="1.5" stroke="#4c8c78" stroke-width="1.3"/>
<path d="M380.8 560H387.2" stroke="#4c8c78" stroke-width="1.6"/>
<path d="M566.5 590.5H596.5" stroke="#7ab8f8"/>
<path d="M566.5 587.5H596.5" stroke="#7ab8f8"/>
<path d="M573.8 575.7h-3.5V583.5h3.5M588.3 575.7h3.5V583.5h-3.5" stroke="#4c8c78" stroke-width="1.6"/>
<path d="M577.5 580.3l4 -3.5l4 3.5M575.5 583h5M584.5 583h5M583.5 576.7h4" stroke="#4c8c78" shape-rendering="geometricPrecision"/>
<path d="M573.5 566.5V572.1" stroke="#7ab8f8"/>
<path d="M573.5 529.9V533.6" stroke="#7ab8f8"/>
<path d="M575.5 566.5V572.1" stroke="#7ab8f8"/>
<path d="M575.5 529.9V533.6" stroke="#7ab8f8"/>
<path d="M586.5 566.5V572.1" stroke="#7ab8f8"/>
<path d="M586.5 529.9V533.6" stroke="#7ab8f8"/>
<path d="M588.5 566.5V572.1" stroke="#7ab8f8"/>
<path d="M588.5 529.9V533.6" stroke="#7ab8f8"/>
<rect x="565.5" y="534.5" width="13" height="32" stroke="#4c8c78"/>
<path d="M573 538V545.5" stroke="#4c8c78" stroke-width="1.3"/>
<path d="M570.9 538V545.5" stroke="#4c8c78" stroke-width="1.3"/>
<path d="M568.8 538V545.5" stroke="#4c8c78" stroke-width="1.3"/>
<rect x="568.4" y="555.4" width="8.7" height="9.3" rx="1.5" stroke="#4c8c78" stroke-width="1.3"/>
<path d="M578.2 560H571.8" stroke="#4c8c78" stroke-width="1.6"/>
<rect x="584.5" y="534.5" width="13" height="32" stroke="#4c8c78"/>
<path d="M590 538V545.5" stroke="#4c8c78" stroke-width="1.3"/>
<path d="M592.1 538V545.5" stroke="#4c8c78" stroke-width="1.3"/>
<path d="M594.2 538V545.5" stroke="#4c8c78" stroke-width="1.3"/>
<rect x="585.9" y="555.4" width="8.7" height="9.3" rx="1.5" stroke="#4c8c78" stroke-width="1.3"/>
<path d="M584.8 560H591.2" stroke="#4c8c78" stroke-width="1.6"/>
<path d="M770.5 590.5H800.5" stroke="#7ab8f8"/>
<path d="M770.5 587.5H800.5" stroke="#7ab8f8"/>
<path d="M777.8 575.7h-3.5V583.5h3.5M792.3 575.7h3.5V583.5h-3.5" stroke="#4c8c78" stroke-width="1.6"/>
<path d="M781.5 580.3l4 -3.5l4 3.5M779.5 583h5M788.5 583h5M787.5 576.7h4" stroke="#4c8c78" shape-rendering="geometricPrecision"/>
<path d="M777.5 566.5V572.1" stroke="#7ab8f8"/>
<path d="M777.5 529.9V533.6" stroke="#7ab8f8"/>
<path d="M779.5 566.5V572.1" stroke="#7ab8f8"/>
<path d="M779.5 529.9V533.6" stroke="#7ab8f8"/>
<path d="M790.5 566.5V572.1" stroke="#7ab8f8"/>
<path d="M790.5 529.9V533.6" stroke="#7ab8f8"/>
<path d="M792.5 566.5V572.1" stroke="#7ab8f8"/>
<path d="M792.5 529.9V533.6" stroke="#7ab8f8"/>
<rect x="769.5" y="534.5" width="13" height="32" stroke="#4c8c78"/>
<path d="M777 538V545.5" stroke="#4c8c78" stroke-width="1.3"/>
<path d="M774.9 538V545.5" stroke="#4c8c78" stroke-width="1.3"/>
<path d="M772.8 538V545.5" stroke="#4c8c78" stroke-width="1.3"/>
<rect x="772.4" y="555.4" width="8.7" height="9.3" rx="1.5" stroke="#4c8c78" stroke-width="1.3"/>
<path d="M782.2 560H775.8" stroke="#4c8c78" stroke-width="1.6"/>
<rect x="788.5" y="534.5" width="13" height="32" stroke="#4c8c78"/>
<path d="M794 538V545.5" stroke="#4c8c78" stroke-width="1.3"/>
<path d="M796.1 538V545.5" stroke="#4c8c78" stroke-width="1.3"/>
<path d="M798.2 538V545.5" stroke="#4c8c78" stroke-width="1.3"/>
<rect x="789.9" y="555.4" width="8.7" height="9.3" rx="1.5" stroke="#4c8c78" stroke-width="1.3"/>
<path d="M788.8 560H795.2" stroke="#4c8c78" stroke-width="1.6"/>
<path d="M973.5 590.5H1003.5" stroke="#7ab8f8"/>
<path d="M973.5 587.5H1003.5" stroke="#7ab8f8"/>
<path d="M980.8 575.7h-3.5V583.5h3.5M995.3 575.7h3.5V583.5h-3.5" stroke="#4c8c78" stroke-width="1.6"/>
<path d="M984.5 580.3l4 -3.5l4 3.5M982.5 583h5M991.5 583h5M990.5 576.7h4" stroke="#4c8c78" shape-rendering="geometricPrecision"/>
<path d="M980.5 566.5V572.1" stroke="#7ab8f8"/>
<path d="M980.5 529.9V533.6" stroke="#7ab8f8"/>
<path d="M982.5 566.5V572.1" stroke="#7ab8f8"/>
<path d="M982.5 529.9V533.6" stroke="#7ab8f8"/>
<path d="M993.5 566.5V572.1" stroke="#7ab8f8"/>
<path d="M993.5 529.9V533.6" stroke="#7ab8f8"/>
<path d="M995.5 566.5V572.1" stroke="#7ab8f8"/>
<path d="M995.5 529.9V533.6" stroke="#7ab8f8"/>
<rect x="972.5" y="534.5" width="13" height="32" stroke="#4c8c78"/>
<path d="M980 538V545.5" stroke="#4c8c78" stroke-width="1.3"/>
<path d="M977.9 538V545.5" stroke="#4c8c78" stroke-width="1.3"/>
<path d="M975.8 538V545.5" stroke="#4c8c78" stroke-width="1.3"/>
<rect x="975.4" y="555.4" width="8.7" height="9.3" rx="1.5" stroke="#4c8c78" stroke-width="1.3"/>
<path d="M985.2 560H978.8" stroke="#4c8c78" stroke-width="1.6"/>
<rect x="991.5" y="534.5" width="13" height="32" stroke="#4c8c78"/>
<path d="M997 538V545.5" stroke="#4c8c78" stroke-width="1.3"/>
<path d="M999.1 538V545.5" stroke="#4c8c78" stroke-width="1.3"/>
<path d="M1001.2 538V545.5" stroke="#4c8c78" stroke-width="1.3"/>
<rect x="992.9" y="555.4" width="8.7" height="9.3" rx="1.5" stroke="#4c8c78" stroke-width="1.3"/>
<path d="M991.8 560H998.2" stroke="#4c8c78" stroke-width="1.6"/>
<path d="M1180.5 590.5H1210.5" stroke="#7ab8f8"/>
<path d="M1180.5 587.5H1210.5" stroke="#7ab8f8"/>
<path d="M1187.8 575.7h-3.5V583.5h3.5M1202.3 575.7h3.5V583.5h-3.5" stroke="#4c8c78" stroke-width="1.6"/>
<path d="M1191.5 580.3l4 -3.5l4 3.5M1189.5 583h5M1198.5 583h5M1197.5 576.7h4" stroke="#4c8c78" shape-rendering="geometricPrecision"/>
<path d="M1187.5 566.5V572.1" stroke="#7ab8f8"/>
<path d="M1187.5 529.9V533.6" stroke="#7ab8f8"/>
<path d="M1189.5 566.5V572.1" stroke="#7ab8f8"/>
<path d="M1189.5 529.9V533.6" stroke="#7ab8f8"/>
<path d="M1200.5 566.5V572.1" stroke="#7ab8f8"/>
<path d="M1200.5 529.9V533.6" stroke="#7ab8f8"/>
<path d="M1202.5 566.5V572.1" stroke="#7ab8f8"/>
<path d="M1202.5 529.9V533.6" stroke="#7ab8f8"/>
<rect x="1179.5" y="534.5" width="13" height="32" stroke="#4c8c78"/>
<path d="M1187 538V545.5" stroke="#4c8c78" stroke-width="1.3"/>
<path d="M1184.9 538V545.5" stroke="#4c8c78" stroke-width="1.3"/>
<path d="M1182.8 538V545.5" stroke="#4c8c78" stroke-width="1.3"/>
<rect x="1182.4" y="555.4" width="8.7" height="9.3" rx="1.5" stroke="#4c8c78" stroke-width="1.3"/>
<path d="M1192.2 560H1185.8" stroke="#4c8c78" stroke-width="1.6"/>
<rect x="1198.5" y="534.5" width="13" height="32" stroke="#4c8c78"/>
<path d="M1204 538V545.5" stroke="#4c8c78" stroke-width="1.3"/>
<path d="M1206.1 538V545.5" stroke="#4c8c78" stroke-width="1.3"/>
<path d="M1208.2 538V545.5" stroke="#4c8c78" stroke-width="1.3"/>
<rect x="1199.9" y="555.4" width="8.7" height="9.3" rx="1.5" stroke="#4c8c78" stroke-width="1.3"/>
<path d="M1198.8 560H1205.2" stroke="#4c8c78" stroke-width="1.6"/>
<ellipse cx="187.1" cy="170.3" rx="7.2" ry="4.8" stroke="#808080" stroke-width="2.2" shape-rendering="geometricPrecision"/>
<ellipse cx="188.1" cy="170.3" rx="4" ry="2.6" stroke="#808080" stroke-width="1" shape-rendering="geometricPrecision"/>
<path d="M183.1 175.6h8" stroke="#808080" stroke-width="2"/>
<path d="M171.7 180.5H207.6" stroke="#808080"/>
<circle cx="178.7" cy="196.5" r="2.6" stroke="#808080" shape-rendering="geometricPrecision"/>
<path d="M178.7 196.5H171.7" stroke="#808080"/>
<path d="M175.2 196H171.7" stroke="#808080" stroke-width="2"/>
<rect x="256.5" y="159.5" width="13" height="52" stroke="#4c8c78"/>
<path d="M260 163V187.4" stroke="#4c8c78" stroke-width="1.2"/>
<path d="M262.5 163V187.4" stroke="#4c8c78" stroke-width="1.2"/>
<path d="M265 163V187.4" stroke="#4c8c78" stroke-width="1.2"/>
<path d="M267.3 163V187.4" stroke="#4c8c78" stroke-width="1.2"/>
<rect x="259.3" y="199.4" width="9" height="10.5" rx="1.5" stroke="#4c8c78" stroke-width="1.3"/>
<path d="M262 204.7H270" stroke="#4c8c78" stroke-width="1.6"/>
<path d="M281 153.5H312.5V169.5M281 156.5H309.5V167.5" stroke="#7ab8f8"/>
<rect x="282.5" y="159.5" width="21" height="8" stroke="#4c8c78" stroke-width="1.3"/>
<path d="M450.5 229.5V282.5H476.5M454.5 229.5V238.5H472.5V229.5M450.5 240.5H467.5L476 248M472.5 238.5V243" stroke="#808080"/>
<path d="M450.5 337.5V285.5H476.5M450.5 337.5H472M454.5 337.5V328.5H472.5V337.5M450.5 326.5H467.5L476 319M472.5 328.5V323" stroke="#808080"/>
<rect x="1226" y="191.2" width="69.5" height="8.9" fill="#3f7a68" stroke="none"/>
<path d="M1228 196.1h4M1230 193.2v5M1235.5 196.1h4M1237.5 193.2v5M1243 196.1h4M1245 193.2v5M1250.5 196.1h4M1252.5 193.2v5M1258 196.1h4M1260 193.2v5M1265.5 196.1h4M1267.5 193.2v5M1273 196.1h4M1275 193.2v5M1280.5 196.1h4M1282.5 193.2v5M1288 196.1h4M1290 193.2v5" stroke="#0c1c16" />
<rect x="1226" y="285.7" width="69.5" height="8.6" fill="#3f7a68" stroke="none"/>
<path d="M1228 290.5h4M1230 287.7v5M1235.5 290.5h4M1237.5 287.7v5M1243 290.5h4M1245 287.7v5M1250.5 290.5h4M1252.5 287.7v5M1258 290.5h4M1260 287.7v5M1265.5 290.5h4M1267.5 287.7v5M1273 290.5h4M1275 287.7v5M1280.5 290.5h4M1282.5 287.7v5M1288 290.5h4M1290 287.7v5" stroke="#0c1c16" />
<rect x="1151.3" y="238" width="5" height="5.3" fill="#808080" stroke="none"/>
<rect x="1218.6" y="238" width="5.5" height="5.3" fill="#808080" stroke="none"/>
<path d="M257 563.5h5v15h-5zM262 565h6.5q4.5 0 4.5 6t-4.5 6h-6.5" stroke="#808080" shape-rendering="geometricPrecision"/>
<path d="M264.7 582.2H284.3" stroke="#808080" stroke-width="2"/>
<path d="M257 559.5H272" stroke="#808080"/>
<circle cx="262.1" cy="548.3" r="2.6" stroke="#808080" shape-rendering="geometricPrecision"/>
<path d="M262.1 548.5H255.6" stroke="#808080"/>
<path d="M258.9 548H255.6" stroke="#808080" stroke-width="2"/>
<path d="M370 347.3L370 323.3" stroke="#00ffff" stroke-width="2" shape-rendering="geometricPrecision"/>
<path d="M370 323.3A24 24 0 0 0 346 347.3" stroke="#00ffff" shape-rendering="geometricPrecision"/>
<rect x="368.5" y="323.3" width="3" height="3" fill="#00ffff" stroke="none"/>
<path d="M385.6 347.3L385.6 323.3" stroke="#00ffff" stroke-width="2" shape-rendering="geometricPrecision"/>
<path d="M385.6 323.3A24 24 0 0 1 409.6 347.3" stroke="#00ffff" shape-rendering="geometricPrecision"/>
<rect x="384.1" y="323.3" width="3" height="3" fill="#00ffff" stroke="none"/>
<path d="M573.7 347.3L573.7 323.3" stroke="#00ffff" stroke-width="2" shape-rendering="geometricPrecision"/>
<path d="M573.7 323.3A24 24 0 0 0 549.7 347.3" stroke="#00ffff" shape-rendering="geometricPrecision"/>
<rect x="572.2" y="323.3" width="3" height="3" fill="#00ffff" stroke="none"/>
<path d="M589.3 347.3L589.3 323.3" stroke="#00ffff" stroke-width="2" shape-rendering="geometricPrecision"/>
<path d="M589.3 323.3A24 24 0 0 1 613.3 347.3" stroke="#00ffff" shape-rendering="geometricPrecision"/>
<rect x="587.8" y="323.3" width="3" height="3" fill="#00ffff" stroke="none"/>
<path d="M777.4 347.3L777.4 323.3" stroke="#00ffff" stroke-width="2" shape-rendering="geometricPrecision"/>
<path d="M777.4 323.3A24 24 0 0 0 753.4 347.3" stroke="#00ffff" shape-rendering="geometricPrecision"/>
<rect x="775.9" y="323.3" width="3" height="3" fill="#00ffff" stroke="none"/>
<path d="M793 347.3L793 323.3" stroke="#00ffff" stroke-width="2" shape-rendering="geometricPrecision"/>
<path d="M793 323.3A24 24 0 0 1 817 347.3" stroke="#00ffff" shape-rendering="geometricPrecision"/>
<rect x="791.5" y="323.3" width="3" height="3" fill="#00ffff" stroke="none"/>
<path d="M981.2 347.3L981.2 323.3" stroke="#00ffff" stroke-width="2" shape-rendering="geometricPrecision"/>
<path d="M981.2 323.3A24 24 0 0 0 957.2 347.3" stroke="#00ffff" shape-rendering="geometricPrecision"/>
<rect x="979.7" y="323.3" width="3" height="3" fill="#00ffff" stroke="none"/>
<path d="M996.8 347.3L996.8 323.3" stroke="#00ffff" stroke-width="2" shape-rendering="geometricPrecision"/>
<path d="M996.8 323.3A24 24 0 0 1 1020.8 347.3" stroke="#00ffff" shape-rendering="geometricPrecision"/>
<rect x="995.3" y="323.3" width="3" height="3" fill="#00ffff" stroke="none"/>
<path d="M265.3 347.3L265.3 323.3" stroke="#00ffff" stroke-width="2" shape-rendering="geometricPrecision"/>
<path d="M265.3 323.3A24 24 0 0 0 241.3 347.3" stroke="#00ffff" shape-rendering="geometricPrecision"/>
<rect x="263.8" y="323.3" width="3" height="3" fill="#00ffff" stroke="none"/>
<path d="M370 412.6L370 436.6" stroke="#00ffff" stroke-width="2" shape-rendering="geometricPrecision"/>
<path d="M370 436.6A24 24 0 0 1 346 412.6" stroke="#00ffff" shape-rendering="geometricPrecision"/>
<rect x="368.5" y="433.6" width="3" height="3" fill="#00ffff" stroke="none"/>
<path d="M385.6 412.6L385.6 436.6" stroke="#00ffff" stroke-width="2" shape-rendering="geometricPrecision"/>
<path d="M385.6 436.6A24 24 0 0 0 409.6 412.6" stroke="#00ffff" shape-rendering="geometricPrecision"/>
<rect x="384.1" y="433.6" width="3" height="3" fill="#00ffff" stroke="none"/>
<path d="M573.7 412.6L573.7 436.6" stroke="#00ffff" stroke-width="2" shape-rendering="geometricPrecision"/>
<path d="M573.7 436.6A24 24 0 0 1 549.7 412.6" stroke="#00ffff" shape-rendering="geometricPrecision"/>
<rect x="572.2" y="433.6" width="3" height="3" fill="#00ffff" stroke="none"/>
<path d="M589.3 412.6L589.3 436.6" stroke="#00ffff" stroke-width="2" shape-rendering="geometricPrecision"/>
<path d="M589.3 436.6A24 24 0 0 0 613.3 412.6" stroke="#00ffff" shape-rendering="geometricPrecision"/>
<rect x="587.8" y="433.6" width="3" height="3" fill="#00ffff" stroke="none"/>
<path d="M777.4 412.6L777.4 436.6" stroke="#00ffff" stroke-width="2" shape-rendering="geometricPrecision"/>
<path d="M777.4 436.6A24 24 0 0 1 753.4 412.6" stroke="#00ffff" shape-rendering="geometricPrecision"/>
<rect x="775.9" y="433.6" width="3" height="3" fill="#00ffff" stroke="none"/>
<path d="M793 412.6L793 436.6" stroke="#00ffff" stroke-width="2" shape-rendering="geometricPrecision"/>
<path d="M793 436.6A24 24 0 0 0 817 412.6" stroke="#00ffff" shape-rendering="geometricPrecision"/>
<rect x="791.5" y="433.6" width="3" height="3" fill="#00ffff" stroke="none"/>
<path d="M981.2 412.6L981.2 436.6" stroke="#00ffff" stroke-width="2" shape-rendering="geometricPrecision"/>
<path d="M981.2 436.6A24 24 0 0 1 957.2 412.6" stroke="#00ffff" shape-rendering="geometricPrecision"/>
<rect x="979.7" y="433.6" width="3" height="3" fill="#00ffff" stroke="none"/>
<path d="M996.8 412.6L996.8 436.6" stroke="#00ffff" stroke-width="2" shape-rendering="geometricPrecision"/>
<path d="M996.8 436.6A24 24 0 0 0 1020.8 412.6" stroke="#00ffff" shape-rendering="geometricPrecision"/>
<rect x="995.3" y="433.6" width="3" height="3" fill="#00ffff" stroke="none"/>
<path d="M1187.5 412.6L1187.5 436.6" stroke="#00ffff" stroke-width="2" shape-rendering="geometricPrecision"/>
<path d="M1187.5 436.6A24 24 0 0 1 1163.5 412.6" stroke="#00ffff" shape-rendering="geometricPrecision"/>
<rect x="1186" y="433.6" width="3" height="3" fill="#00ffff" stroke="none"/>
<path d="M1203.1 412.6L1203.1 436.6" stroke="#00ffff" stroke-width="2" shape-rendering="geometricPrecision"/>
<path d="M1203.1 436.6A24 24 0 0 0 1227.1 412.6" stroke="#00ffff" shape-rendering="geometricPrecision"/>
<rect x="1201.6" y="433.6" width="3" height="3" fill="#00ffff" stroke="none"/>
<path d="M309.6 222L289.1 222" stroke="#00ffff" stroke-width="2" shape-rendering="geometricPrecision"/>
<path d="M289.1 222A20.5 20.5 0 0 1 309.6 201.5" stroke="#00ffff" shape-rendering="geometricPrecision"/>
<rect x="289.1" y="220.5" width="3" height="3" fill="#00ffff" stroke="none"/>
<path d="M309.5 201.5V222" stroke="#00ffff"/>
<path d="M443.4 222L463.9 222" stroke="#00ffff" stroke-width="2" shape-rendering="geometricPrecision"/>
<path d="M463.9 222A20.5 20.5 0 0 0 443.4 201.5" stroke="#00ffff" shape-rendering="geometricPrecision"/>
<rect x="460.9" y="220.5" width="3" height="3" fill="#00ffff" stroke="none"/>
<path d="M443.5 201.5V222" stroke="#00ffff"/>
<path d="M515.6 222L495.1 222" stroke="#00ffff" stroke-width="2" shape-rendering="geometricPrecision"/>
<path d="M495.1 222A20.5 20.5 0 0 1 515.6 201.5" stroke="#00ffff" shape-rendering="geometricPrecision"/>
<rect x="495.1" y="220.5" width="3" height="3" fill="#00ffff" stroke="none"/>
<path d="M515.5 201.5V222" stroke="#00ffff"/>
<path d="M647.4 222L667.9 222" stroke="#00ffff" stroke-width="2" shape-rendering="geometricPrecision"/>
<path d="M667.9 222A20.5 20.5 0 0 0 647.4 201.5" stroke="#00ffff" shape-rendering="geometricPrecision"/>
<rect x="664.9" y="220.5" width="3" height="3" fill="#00ffff" stroke="none"/>
<path d="M647.5 201.5V222" stroke="#00ffff"/>
<path d="M719.6 222L699.1 222" stroke="#00ffff" stroke-width="2" shape-rendering="geometricPrecision"/>
<path d="M699.1 222A20.5 20.5 0 0 1 719.6 201.5" stroke="#00ffff" shape-rendering="geometricPrecision"/>
<rect x="699.1" y="220.5" width="3" height="3" fill="#00ffff" stroke="none"/>
<path d="M719.5 201.5V222" stroke="#00ffff"/>
<path d="M851.4 222L871.9 222" stroke="#00ffff" stroke-width="2" shape-rendering="geometricPrecision"/>
<path d="M871.9 222A20.5 20.5 0 0 0 851.4 201.5" stroke="#00ffff" shape-rendering="geometricPrecision"/>
<rect x="868.9" y="220.5" width="3" height="3" fill="#00ffff" stroke="none"/>
<path d="M851.5 201.5V222" stroke="#00ffff"/>
<path d="M923.6 222L903.1 222" stroke="#00ffff" stroke-width="2" shape-rendering="geometricPrecision"/>
<path d="M903.1 222A20.5 20.5 0 0 1 923.6 201.5" stroke="#00ffff" shape-rendering="geometricPrecision"/>
<rect x="903.1" y="220.5" width="3" height="3" fill="#00ffff" stroke="none"/>
<path d="M923.5 201.5V222" stroke="#00ffff"/>
<path d="M1054.4 222L1074.9 222" stroke="#00ffff" stroke-width="2" shape-rendering="geometricPrecision"/>
<path d="M1074.9 222A20.5 20.5 0 0 0 1054.4 201.5" stroke="#00ffff" shape-rendering="geometricPrecision"/>
<rect x="1071.9" y="220.5" width="3" height="3" fill="#00ffff" stroke="none"/>
<path d="M1054.5 201.5V222" stroke="#00ffff"/>
<path d="M309.6 222L289.1 222" stroke="#00ffff" stroke-width="2" shape-rendering="geometricPrecision"/>
<path d="M289.1 222A20.5 20.5 0 0 1 309.6 201.5" stroke="#00ffff" shape-rendering="geometricPrecision"/>
<rect x="289.1" y="220.5" width="3" height="3" fill="#00ffff" stroke="none"/>
<path d="M309.5 201.5V222" stroke="#00ffff"/>
<path d="M443.4 537.9L463.9 537.9" stroke="#00ffff" stroke-width="2" shape-rendering="geometricPrecision"/>
<path d="M463.9 537.9A20.5 20.5 0 0 1 443.4 558.4" stroke="#00ffff" shape-rendering="geometricPrecision"/>
<rect x="460.9" y="536.4" width="3" height="3" fill="#00ffff" stroke="none"/>
<path d="M443.5 537.9V558.4" stroke="#00ffff"/>
<path d="M515.6 537.9L495.1 537.9" stroke="#00ffff" stroke-width="2" shape-rendering="geometricPrecision"/>
<path d="M495.1 537.9A20.5 20.5 0 0 0 515.6 558.4" stroke="#00ffff" shape-rendering="geometricPrecision"/>
<rect x="495.1" y="536.4" width="3" height="3" fill="#00ffff" stroke="none"/>
<path d="M515.5 537.9V558.4" stroke="#00ffff"/>
<path d="M647.4 537.9L667.9 537.9" stroke="#00ffff" stroke-width="2" shape-rendering="geometricPrecision"/>
<path d="M667.9 537.9A20.5 20.5 0 0 1 647.4 558.4" stroke="#00ffff" shape-rendering="geometricPrecision"/>
<rect x="664.9" y="536.4" width="3" height="3" fill="#00ffff" stroke="none"/>
<path d="M647.5 537.9V558.4" stroke="#00ffff"/>
<path d="M719.6 537.9L699.1 537.9" stroke="#00ffff" stroke-width="2" shape-rendering="geometricPrecision"/>
<path d="M699.1 537.9A20.5 20.5 0 0 0 719.6 558.4" stroke="#00ffff" shape-rendering="geometricPrecision"/>
<rect x="699.1" y="536.4" width="3" height="3" fill="#00ffff" stroke="none"/>
<path d="M719.5 537.9V558.4" stroke="#00ffff"/>
<path d="M851.4 537.9L871.9 537.9" stroke="#00ffff" stroke-width="2" shape-rendering="geometricPrecision"/>
<path d="M871.9 537.9A20.5 20.5 0 0 1 851.4 558.4" stroke="#00ffff" shape-rendering="geometricPrecision"/>
<rect x="868.9" y="536.4" width="3" height="3" fill="#00ffff" stroke="none"/>
<path d="M851.5 537.9V558.4" stroke="#00ffff"/>
<path d="M923.6 537.9L903.1 537.9" stroke="#00ffff" stroke-width="2" shape-rendering="geometricPrecision"/>
<path d="M903.1 537.9A20.5 20.5 0 0 0 923.6 558.4" stroke="#00ffff" shape-rendering="geometricPrecision"/>
<rect x="903.1" y="536.4" width="3" height="3" fill="#00ffff" stroke="none"/>
<path d="M923.5 537.9V558.4" stroke="#00ffff"/>
<path d="M1054.4 537.9L1074.9 537.9" stroke="#00ffff" stroke-width="2" shape-rendering="geometricPrecision"/>
<path d="M1074.9 537.9A20.5 20.5 0 0 1 1054.4 558.4" stroke="#00ffff" shape-rendering="geometricPrecision"/>
<rect x="1071.9" y="536.4" width="3" height="3" fill="#00ffff" stroke="none"/>
<path d="M1054.5 537.9V558.4" stroke="#00ffff"/>
<path d="M1126.6 537.9L1106.1 537.9" stroke="#00ffff" stroke-width="2" shape-rendering="geometricPrecision"/>
<path d="M1106.1 537.9A20.5 20.5 0 0 0 1126.6 558.4" stroke="#00ffff" shape-rendering="geometricPrecision"/>
<rect x="1106.1" y="536.4" width="3" height="3" fill="#00ffff" stroke="none"/>
<path d="M1126.5 537.9V558.4" stroke="#00ffff"/>
<path d="M1263.4 537.9L1283.9 537.9" stroke="#00ffff" stroke-width="2" shape-rendering="geometricPrecision"/>
<path d="M1283.9 537.9A20.5 20.5 0 0 1 1263.4 558.4" stroke="#00ffff" shape-rendering="geometricPrecision"/>
<rect x="1280.9" y="536.4" width="3" height="3" fill="#00ffff" stroke="none"/>
<path d="M1263.5 537.9V558.4" stroke="#00ffff"/>
<rect x="318.2" y="226.3" width="39.2" height="2.5" fill="#00ffff" stroke="none"/>
<rect x="334.8" y="227.1" width="6" height="1" fill="#000" stroke="none"/>
<rect x="398.1" y="226.3" width="39.2" height="2.5" fill="#00ffff" stroke="none"/>
<rect x="414.7" y="227.1" width="6" height="1" fill="#000" stroke="none"/>
<rect x="521.9" y="226.3" width="39.2" height="2.5" fill="#00ffff" stroke="none"/>
<rect x="538.5" y="227.1" width="6" height="1" fill="#000" stroke="none"/>
<rect x="601.9" y="226.3" width="39.2" height="2.5" fill="#00ffff" stroke="none"/>
<rect x="618.5" y="227.1" width="6" height="1" fill="#000" stroke="none"/>
<rect x="725.7" y="226.3" width="39.2" height="2.5" fill="#00ffff" stroke="none"/>
<rect x="742.3" y="227.1" width="6" height="1" fill="#000" stroke="none"/>
<rect x="805.6" y="226.3" width="39.2" height="2.5" fill="#00ffff" stroke="none"/>
<rect x="822.2" y="227.1" width="6" height="1" fill="#000" stroke="none"/>
<rect x="929.4" y="226.3" width="39.2" height="2.5" fill="#00ffff" stroke="none"/>
<rect x="946" y="227.1" width="6" height="1" fill="#000" stroke="none"/>
<rect x="1009.3" y="226.3" width="39.2" height="2.5" fill="#00ffff" stroke="none"/>
<rect x="1025.9" y="227.1" width="6" height="1" fill="#000" stroke="none"/>
<rect x="398.1" y="531.1" width="39.2" height="2.5" fill="#00ffff" stroke="none"/>
<rect x="414.7" y="531.9" width="6" height="1" fill="#000" stroke="none"/>
<rect x="521.9" y="531.1" width="39.2" height="2.5" fill="#00ffff" stroke="none"/>
<rect x="538.5" y="531.9" width="6" height="1" fill="#000" stroke="none"/>
<rect x="601.9" y="531.1" width="39.2" height="2.5" fill="#00ffff" stroke="none"/>
<rect x="618.5" y="531.9" width="6" height="1" fill="#000" stroke="none"/>
<rect x="725.7" y="531.1" width="39.2" height="2.5" fill="#00ffff" stroke="none"/>
<rect x="742.3" y="531.9" width="6" height="1" fill="#000" stroke="none"/>
<rect x="805.6" y="531.1" width="39.2" height="2.5" fill="#00ffff" stroke="none"/>
<rect x="822.2" y="531.9" width="6" height="1" fill="#000" stroke="none"/>
<rect x="929.4" y="531.1" width="39.2" height="2.5" fill="#00ffff" stroke="none"/>
<rect x="946" y="531.9" width="6" height="1" fill="#000" stroke="none"/>
<rect x="1009.3" y="531.1" width="39.2" height="2.5" fill="#00ffff" stroke="none"/>
<rect x="1025.9" y="531.9" width="6" height="1" fill="#000" stroke="none"/>
<rect x="1135.8" y="531.1" width="39.2" height="2.5" fill="#00ffff" stroke="none"/>
<rect x="1152.4" y="531.9" width="6" height="1" fill="#000" stroke="none"/>
<rect x="1215.7" y="531.1" width="39.2" height="2.5" fill="#00ffff" stroke="none"/>
<rect x="1232.3" y="531.9" width="6" height="1" fill="#000" stroke="none"/>
<rect x="317" y="531.1" width="39" height="2.5" fill="#00ffff" stroke="none"/>
<rect x="333.5" y="531.9" width="6" height="1" fill="#000" stroke="none"/>
<path d="M285.4 169.5H308.9" stroke="#00ffff"/>
<path d="M285.4 170.5H308.9" stroke="#00ffff"/>
<path d="M285.4 173.5H308.9" stroke="#00ffff"/>
<path d="M285.4 175.5H308.9" stroke="#00ffff"/>
<path d="M285.5 169V176.2" stroke="#00ffff"/>
<path d="M307.5 169V176.2" stroke="#00ffff"/>
<path d="M315.2 169.5H356.3" stroke="#00ffff"/>
<path d="M315.2 170.5H356.3" stroke="#00ffff"/>
<path d="M315.2 173.5H356.3" stroke="#00ffff"/>
<path d="M315.2 175.5H356.3" stroke="#00ffff"/>
<path d="M315.5 169V176.2" stroke="#00ffff"/>
<path d="M355.5 169V176.2" stroke="#00ffff"/>
<path d="M399.2 169.5H438.4" stroke="#00ffff"/>
<path d="M399.2 170.5H438.4" stroke="#00ffff"/>
<path d="M399.2 173.5H438.4" stroke="#00ffff"/>
<path d="M399.2 175.5H438.4" stroke="#00ffff"/>
<path d="M399.5 169V176.2" stroke="#00ffff"/>
<path d="M437.5 169V176.2" stroke="#00ffff"/>
<path d="M444.6 169.5H473.4" stroke="#00ffff"/>
<path d="M444.6 170.5H473.4" stroke="#00ffff"/>
<path d="M444.6 173.5H473.4" stroke="#00ffff"/>
<path d="M444.6 175.5H473.4" stroke="#00ffff"/>
<path d="M444.5 169V176.2" stroke="#00ffff"/>
<path d="M472.5 169V176.2" stroke="#00ffff"/>
<path d="M491.1 169.5H514.6" stroke="#00ffff"/>
<path d="M491.1 170.5H514.6" stroke="#00ffff"/>
<path d="M491.1 173.5H514.6" stroke="#00ffff"/>
<path d="M491.1 175.5H514.6" stroke="#00ffff"/>
<path d="M491.5 169V176.2" stroke="#00ffff"/>
<path d="M513.5 169V176.2" stroke="#00ffff"/>
<path d="M520.9 169.5H560.1" stroke="#00ffff"/>
<path d="M520.9 170.5H560.1" stroke="#00ffff"/>
<path d="M520.9 173.5H560.1" stroke="#00ffff"/>
<path d="M520.9 175.5H560.1" stroke="#00ffff"/>
<path d="M520.5 169V176.2" stroke="#00ffff"/>
<path d="M559.5 169V176.2" stroke="#00ffff"/>
<path d="M694.9 169.5H718.4" stroke="#00ffff"/>
<path d="M694.9 170.5H718.4" stroke="#00ffff"/>
<path d="M694.9 173.5H718.4" stroke="#00ffff"/>
<path d="M694.9 175.5H718.4" stroke="#00ffff"/>
<path d="M694.5 169V176.2" stroke="#00ffff"/>
<path d="M717.5 169V176.2" stroke="#00ffff"/>
<path d="M724.6 169.5H763.8" stroke="#00ffff"/>
<path d="M724.6 170.5H763.8" stroke="#00ffff"/>
<path d="M724.6 173.5H763.8" stroke="#00ffff"/>
<path d="M724.6 175.5H763.8" stroke="#00ffff"/>
<path d="M724.5 169V176.2" stroke="#00ffff"/>
<path d="M762.5 169V176.2" stroke="#00ffff"/>
<path d="M602.9 169.5H642.1" stroke="#00ffff"/>
<path d="M602.9 170.5H642.1" stroke="#00ffff"/>
<path d="M602.9 173.5H642.1" stroke="#00ffff"/>
<path d="M602.9 175.5H642.1" stroke="#00ffff"/>
<path d="M602.5 169V176.2" stroke="#00ffff"/>
<path d="M641.5 169V176.2" stroke="#00ffff"/>
<path d="M648.4 169.5H671.9" stroke="#00ffff"/>
<path d="M648.4 170.5H671.9" stroke="#00ffff"/>
<path d="M648.4 173.5H671.9" stroke="#00ffff"/>
<path d="M648.4 175.5H671.9" stroke="#00ffff"/>
<path d="M648.5 169V176.2" stroke="#00ffff"/>
<path d="M670.5 169V176.2" stroke="#00ffff"/>
<path d="M806.7 169.5H845.8" stroke="#00ffff"/>
<path d="M806.7 170.5H845.8" stroke="#00ffff"/>
<path d="M806.7 173.5H845.8" stroke="#00ffff"/>
<path d="M806.7 175.5H845.8" stroke="#00ffff"/>
<path d="M806.5 169V176.2" stroke="#00ffff"/>
<path d="M844.5 169V176.2" stroke="#00ffff"/>
<path d="M852.1 169.5H875.6" stroke="#00ffff"/>
<path d="M852.1 170.5H875.6" stroke="#00ffff"/>
<path d="M852.1 173.5H875.6" stroke="#00ffff"/>
<path d="M852.1 175.5H875.6" stroke="#00ffff"/>
<path d="M852.5 169V176.2" stroke="#00ffff"/>
<path d="M874.5 169V176.2" stroke="#00ffff"/>
<path d="M1010.4 169.5H1049.6" stroke="#00ffff"/>
<path d="M1010.4 170.5H1049.6" stroke="#00ffff"/>
<path d="M1010.4 173.5H1049.6" stroke="#00ffff"/>
<path d="M1010.4 175.5H1049.6" stroke="#00ffff"/>
<path d="M1010.5 169V176.2" stroke="#00ffff"/>
<path d="M1048.5 169V176.2" stroke="#00ffff"/>
<path d="M1055.8 169.5H1079.3" stroke="#00ffff"/>
<path d="M1055.8 170.5H1079.3" stroke="#00ffff"/>
<path d="M1055.8 173.5H1079.3" stroke="#00ffff"/>
<path d="M1055.8 175.5H1079.3" stroke="#00ffff"/>
<path d="M1055.5 169V176.2" stroke="#00ffff"/>
<path d="M1078.5 169V176.2" stroke="#00ffff"/>
<path d="M893.6 169.5H922.4" stroke="#00ffff"/>
<path d="M893.6 170.5H922.4" stroke="#00ffff"/>
<path d="M893.6 173.5H922.4" stroke="#00ffff"/>
<path d="M893.6 175.5H922.4" stroke="#00ffff"/>
<path d="M893.5 169V176.2" stroke="#00ffff"/>
<path d="M921.5 169V176.2" stroke="#00ffff"/>
<path d="M928.4 169.5H967.5" stroke="#00ffff"/>
<path d="M928.4 170.5H967.5" stroke="#00ffff"/>
<path d="M928.4 173.5H967.5" stroke="#00ffff"/>
<path d="M928.4 175.5H967.5" stroke="#00ffff"/>
<path d="M928.5 169V176.2" stroke="#00ffff"/>
<path d="M966.5 169V176.2" stroke="#00ffff"/>
<path d="M1102.6 169.5H1141.8" stroke="#00ffff"/>
<path d="M1102.6 170.5H1141.8" stroke="#00ffff"/>
<path d="M1102.6 173.5H1141.8" stroke="#00ffff"/>
<path d="M1102.6 175.5H1141.8" stroke="#00ffff"/>
<path d="M1102.5 169V176.2" stroke="#00ffff"/>
<path d="M1140.5 169V176.2" stroke="#00ffff"/>
<path d="M287.4 584.5H310.9" stroke="#00ffff"/>
<path d="M287.4 586.5H310.9" stroke="#00ffff"/>
<path d="M287.4 588.5H310.9" stroke="#00ffff"/>
<path d="M287.4 590.5H310.9" stroke="#00ffff"/>
<path d="M287.5 584.7V591.9" stroke="#00ffff"/>
<path d="M309.5 584.7V591.9" stroke="#00ffff"/>
<path d="M317.2 584.5H356.3" stroke="#00ffff"/>
<path d="M317.2 586.5H356.3" stroke="#00ffff"/>
<path d="M317.2 588.5H356.3" stroke="#00ffff"/>
<path d="M317.2 590.5H356.3" stroke="#00ffff"/>
<path d="M317.5 584.7V591.9" stroke="#00ffff"/>
<path d="M355.5 584.7V591.9" stroke="#00ffff"/>
<path d="M399.2 584.5H438.4" stroke="#00ffff"/>
<path d="M399.2 586.5H438.4" stroke="#00ffff"/>
<path d="M399.2 588.5H438.4" stroke="#00ffff"/>
<path d="M399.2 590.5H438.4" stroke="#00ffff"/>
<path d="M399.5 584.7V591.9" stroke="#00ffff"/>
<path d="M437.5 584.7V591.9" stroke="#00ffff"/>
<path d="M444.4 584.5H473.1" stroke="#00ffff"/>
<path d="M444.4 586.5H473.1" stroke="#00ffff"/>
<path d="M444.4 588.5H473.1" stroke="#00ffff"/>
<path d="M444.4 590.5H473.1" stroke="#00ffff"/>
<path d="M444.5 584.7V591.9" stroke="#00ffff"/>
<path d="M472.5 584.7V591.9" stroke="#00ffff"/>
<path d="M491.1 584.5H514.6" stroke="#00ffff"/>
<path d="M491.1 586.5H514.6" stroke="#00ffff"/>
<path d="M491.1 588.5H514.6" stroke="#00ffff"/>
<path d="M491.1 590.5H514.6" stroke="#00ffff"/>
<path d="M491.5 584.7V591.9" stroke="#00ffff"/>
<path d="M513.5 584.7V591.9" stroke="#00ffff"/>
<path d="M520.9 584.5H560.1" stroke="#00ffff"/>
<path d="M520.9 586.5H560.1" stroke="#00ffff"/>
<path d="M520.9 588.5H560.1" stroke="#00ffff"/>
<path d="M520.9 590.5H560.1" stroke="#00ffff"/>
<path d="M520.5 584.7V591.9" stroke="#00ffff"/>
<path d="M559.5 584.7V591.9" stroke="#00ffff"/>
<path d="M694.9 584.5H718.4" stroke="#00ffff"/>
<path d="M694.9 586.5H718.4" stroke="#00ffff"/>
<path d="M694.9 588.5H718.4" stroke="#00ffff"/>
<path d="M694.9 590.5H718.4" stroke="#00ffff"/>
<path d="M694.5 584.7V591.9" stroke="#00ffff"/>
<path d="M717.5 584.7V591.9" stroke="#00ffff"/>
<path d="M724.6 584.5H763.8" stroke="#00ffff"/>
<path d="M724.6 586.5H763.8" stroke="#00ffff"/>
<path d="M724.6 588.5H763.8" stroke="#00ffff"/>
<path d="M724.6 590.5H763.8" stroke="#00ffff"/>
<path d="M724.5 584.7V591.9" stroke="#00ffff"/>
<path d="M762.5 584.7V591.9" stroke="#00ffff"/>
<path d="M602.9 584.5H642.1" stroke="#00ffff"/>
<path d="M602.9 586.5H642.1" stroke="#00ffff"/>
<path d="M602.9 588.5H642.1" stroke="#00ffff"/>
<path d="M602.9 590.5H642.1" stroke="#00ffff"/>
<path d="M602.5 584.7V591.9" stroke="#00ffff"/>
<path d="M641.5 584.7V591.9" stroke="#00ffff"/>
<path d="M648.4 584.5H671.9" stroke="#00ffff"/>
<path d="M648.4 586.5H671.9" stroke="#00ffff"/>
<path d="M648.4 588.5H671.9" stroke="#00ffff"/>
<path d="M648.4 590.5H671.9" stroke="#00ffff"/>
<path d="M648.5 584.7V591.9" stroke="#00ffff"/>
<path d="M670.5 584.7V591.9" stroke="#00ffff"/>
<path d="M806.7 584.5H845.8" stroke="#00ffff"/>
<path d="M806.7 586.5H845.8" stroke="#00ffff"/>
<path d="M806.7 588.5H845.8" stroke="#00ffff"/>
<path d="M806.7 590.5H845.8" stroke="#00ffff"/>
<path d="M806.5 584.7V591.9" stroke="#00ffff"/>
<path d="M844.5 584.7V591.9" stroke="#00ffff"/>
<path d="M852.1 584.5H875.6" stroke="#00ffff"/>
<path d="M852.1 586.5H875.6" stroke="#00ffff"/>
<path d="M852.1 588.5H875.6" stroke="#00ffff"/>
<path d="M852.1 590.5H875.6" stroke="#00ffff"/>
<path d="M852.5 584.7V591.9" stroke="#00ffff"/>
<path d="M874.5 584.7V591.9" stroke="#00ffff"/>
<path d="M1010.4 584.5H1049.6" stroke="#00ffff"/>
<path d="M1010.4 586.5H1049.6" stroke="#00ffff"/>
<path d="M1010.4 588.5H1049.6" stroke="#00ffff"/>
<path d="M1010.4 590.5H1049.6" stroke="#00ffff"/>
<path d="M1010.5 584.7V591.9" stroke="#00ffff"/>
<path d="M1048.5 584.7V591.9" stroke="#00ffff"/>
<path d="M1055.8 584.5H1079.3" stroke="#00ffff"/>
<path d="M1055.8 586.5H1079.3" stroke="#00ffff"/>
<path d="M1055.8 588.5H1079.3" stroke="#00ffff"/>
<path d="M1055.8 590.5H1079.3" stroke="#00ffff"/>
<path d="M1055.5 584.7V591.9" stroke="#00ffff"/>
<path d="M1078.5 584.7V591.9" stroke="#00ffff"/>
<path d="M893.6 584.5H922.4" stroke="#00ffff"/>
<path d="M893.6 586.5H922.4" stroke="#00ffff"/>
<path d="M893.6 588.5H922.4" stroke="#00ffff"/>
<path d="M893.6 590.5H922.4" stroke="#00ffff"/>
<path d="M893.5 584.7V591.9" stroke="#00ffff"/>
<path d="M921.5 584.7V591.9" stroke="#00ffff"/>
<path d="M928.4 584.5H967.5" stroke="#00ffff"/>
<path d="M928.4 586.5H967.5" stroke="#00ffff"/>
<path d="M928.4 588.5H967.5" stroke="#00ffff"/>
<path d="M928.4 590.5H967.5" stroke="#00ffff"/>
<path d="M928.5 584.7V591.9" stroke="#00ffff"/>
<path d="M966.5 584.7V591.9" stroke="#00ffff"/>
<path d="M1103 584.5H1126.5" stroke="#00ffff"/>
<path d="M1103 586.5H1126.5" stroke="#00ffff"/>
<path d="M1103 588.5H1126.5" stroke="#00ffff"/>
<path d="M1103 590.5H1126.5" stroke="#00ffff"/>
<path d="M1102.5 584.7V591.9" stroke="#00ffff"/>
<path d="M1125.5 584.7V591.9" stroke="#00ffff"/>
<path d="M1132.8 584.5H1173.9" stroke="#00ffff"/>
<path d="M1132.8 586.5H1173.9" stroke="#00ffff"/>
<path d="M1132.8 588.5H1173.9" stroke="#00ffff"/>
<path d="M1132.8 590.5H1173.9" stroke="#00ffff"/>
<path d="M1132.5 584.7V591.9" stroke="#00ffff"/>
<path d="M1172.5 584.7V591.9" stroke="#00ffff"/>
<path d="M1216.7 584.5H1255.9" stroke="#00ffff"/>
<path d="M1216.7 586.5H1255.9" stroke="#00ffff"/>
<path d="M1216.7 588.5H1255.9" stroke="#00ffff"/>
<path d="M1216.7 590.5H1255.9" stroke="#00ffff"/>
<path d="M1216.5 584.7V591.9" stroke="#00ffff"/>
<path d="M1254.5 584.7V591.9" stroke="#00ffff"/>
<path d="M218.3 153.5H265.6" stroke="#00ffff"/>
<path d="M218.3 155.5H265.6" stroke="#00ffff"/>
<path d="M218.3 157.5H265.6" stroke="#00ffff"/>
<path d="M218.3 159.5H265.6" stroke="#00ffff"/>
<path d="M218.5 153.3V160.5" stroke="#00ffff"/>
<path d="M264.5 153.3V160.5" stroke="#00ffff"/>
<path d="M165.5 167.5V190.2" stroke="#00ffff"/>
<path d="M167.5 167.5V190.2" stroke="#00ffff"/>
<path d="M170.5 167.5V190.2" stroke="#00ffff"/>
<path d="M171.5 167.5V190.2" stroke="#00ffff"/>
<path d="M165.7 167.5H172.9" stroke="#00ffff"/>
<path d="M165.7 189.5H172.9" stroke="#00ffff"/>
<path d="M165.5 351V409" stroke="#00ffff"/>
<path d="M167.5 351V409" stroke="#00ffff"/>
<path d="M170.5 351V409" stroke="#00ffff"/>
<path d="M171.5 351V409" stroke="#00ffff"/>
<path d="M165.7 351.5H172.9" stroke="#00ffff"/>
<path d="M165.7 408.5H172.9" stroke="#00ffff"/>
<path d="M165.5 435.4V474" stroke="#00ffff"/>
<path d="M167.5 435.4V474" stroke="#00ffff"/>
<path d="M170.5 435.4V474" stroke="#00ffff"/>
<path d="M171.5 435.4V474" stroke="#00ffff"/>
<path d="M165.7 435.5H172.9" stroke="#00ffff"/>
<path d="M165.7 473.5H172.9" stroke="#00ffff"/>
<path d="M189.9 591.5H229.5" stroke="#00ffff"/>
<path d="M189.9 593.5H229.5" stroke="#00ffff"/>
<path d="M189.9 595.5H229.5" stroke="#00ffff"/>
<path d="M189.9 597.5H229.5" stroke="#00ffff"/>
<path d="M189.5 591.5V598.1" stroke="#00ffff"/>
<path d="M228.5 591.5V598.1" stroke="#00ffff"/>
<path d="M1237.1 162.5H1284.6" stroke="#00ffff"/>
<path d="M1237.1 164.5H1284.6" stroke="#00ffff"/>
<path d="M1237.1 166.5H1284.6" stroke="#00ffff"/>
<path d="M1237.1 168.5H1284.6" stroke="#00ffff"/>
<path d="M1237.5 162.5V169.3" stroke="#00ffff"/>
<path d="M1283.5 162.5V169.3" stroke="#00ffff"/>
<path d="M1296.5 285.1V324.3" stroke="#00ffff"/>
<path d="M1298.5 285.1V324.3" stroke="#00ffff"/>
<path d="M1301.5 285.1V324.3" stroke="#00ffff"/>
<path d="M1302.5 285.1V324.3" stroke="#00ffff"/>
<path d="M1296.7 285.5H1303.9" stroke="#00ffff"/>
<path d="M1296.7 323.5H1303.9" stroke="#00ffff"/>
<path d="M1296.5 351V409" stroke="#00ffff"/>
<path d="M1298.5 351V409" stroke="#00ffff"/>
<path d="M1301.5 351V409" stroke="#00ffff"/>
<path d="M1302.5 351V409" stroke="#00ffff"/>
<path d="M1296.7 351.5H1303.9" stroke="#00ffff"/>
<path d="M1296.7 408.5H1303.9" stroke="#00ffff"/>
<path d="M1296.5 554.5V579" stroke="#00ffff"/>
<path d="M1298.5 554.5V579" stroke="#00ffff"/>
<path d="M1301.5 554.5V579" stroke="#00ffff"/>
<path d="M1302.5 554.5V579" stroke="#00ffff"/>
<path d="M1296.7 554.5H1303.9" stroke="#00ffff"/>
<path d="M1296.7 578.5H1303.9" stroke="#00ffff"/>
<path d="M207.6 206.5L187.1 206.5" stroke="#00ffff" stroke-width="2" shape-rendering="geometricPrecision"/>
<path d="M187.1 206.5A20.5 20.5 0 0 1 207.6 186" stroke="#00ffff" shape-rendering="geometricPrecision"/>
<rect x="187.1" y="205" width="3" height="3" fill="#00ffff" stroke="none"/>
<path d="M207.5 185V206.5" stroke="#00ffff"/>
<rect x="213.1" y="211.5" width="40" height="2.5" fill="#00ffff" stroke="none"/>
<rect x="230" y="212.3" width="6" height="1" fill="#000" stroke="none"/>
<path d="M1242.8 347.3V329.8M1277.3 347.3V329.8" stroke="#00ffff" stroke-width="2"/>
<path d="M1242.8 329.8A17.5 17.5 0 0 1 1260 347.3M1277.3 329.8A17.5 17.5 0 0 0 1260 347.3" stroke="#00ffff" shape-rendering="geometricPrecision"/>
<rect x="1241.3" y="329.3" width="3" height="5" fill="#00ffff" stroke="none"/>
<rect x="1275.8" y="329.3" width="3" height="5" fill="#00ffff" stroke="none"/>
<path d="M194.3 412.6V430.1M231.4 412.6V430.1" stroke="#00ffff" stroke-width="2"/>
<path d="M194.3 430.1A17.5 17.5 0 0 0 212.9 412.6M231.4 430.1A17.5 17.5 0 0 1 212.9 412.6" stroke="#00ffff" shape-rendering="geometricPrecision"/>
<rect x="192.8" y="425.6" width="3" height="5" fill="#00ffff" stroke="none"/>
<rect x="229.9" y="425.6" width="3" height="5" fill="#00ffff" stroke="none"/>
<rect x="1170.2" y="236" width="34.3" height="2.6" fill="#00ffff" stroke="none"/>
<rect x="1184" y="237" width="7" height="1" fill="#000" stroke="none"/>
<path d="M1141 240.1L1141 263.1" stroke="#00ffff" stroke-width="2" shape-rendering="geometricPrecision"/>
<path d="M1141 263.1A23 23 0 0 1 1118 240.1" stroke="#00ffff" shape-rendering="geometricPrecision"/>
<rect x="1139.5" y="260.1" width="3" height="3" fill="#00ffff" stroke="none"/>
<circle cx="290.8" cy="555.4" r="19.6" stroke="#dddddd" fill="none" shape-rendering="geometricPrecision" stroke-dasharray="6 3"/>
<circle cx="335.7" cy="555.4" r="19.6" stroke="#dddddd" fill="none" shape-rendering="geometricPrecision" stroke-dasharray="6 3"/>
<rect x="311" y="533" width="2.6" height="27" fill="#00ffff" stroke="none"/>
<path d="M1224.5 178V279.5M1296.5 176V279.5M1229 168.5H1292.5M1229.5 168.5V178M1292 168.5V176" stroke="#ffff00" fill="none"/>
<path d="M1224.5 204.5H1296.5M1224.5 212.5H1296.5M1224.5 219.5H1296.5M1224.5 227.5H1296.5M1224.5 234.5H1296.5M1224.5 241.5H1296.5M1224.5 249.5H1296.5M1224.5 256.5H1296.5M1224.5 264.5H1296.5M1224.5 271.5H1296.5M1224.5 279.5H1296.5" stroke="#ffff00" fill="none"/>
<rect x="1256.5" y="204.5" width="8" height="76" fill="#000" stroke="#ffff00"/>
<rect x="1258.5" y="206.5" width="4" height="72" stroke="#ffff00"/>
<path d="M1262.9 253.1L1296.3 233.5M1279 238l1.5 8M1277 246h6" stroke="#ffff00" fill="none" shape-rendering="geometricPrecision"/>
<path d="M170.5 471V585M250.5 423V581M254.5 423V581M176 590.5H248.5" stroke="#ffff00" fill="none"/>
<path d="M170.5 471.5H250.5M170.5 478.5H250.5M170.5 486.5H250.5M170.5 493.5H250.5M170.5 500.5H250.5M170.5 508.5H250.5M170.5 515.5H250.5M170.5 523.5H250.5M170.5 530.5H250.5M170.5 538.5H250.5M170.5 545.5H250.5" stroke="#ffff00" fill="none"/>
<path d="M189.5 471V568.5H230.5V471" stroke="#ffff00" fill="none"/>
<rect x="206.5" y="470.5" width="8" height="76" fill="#000" stroke="#ffff00"/>
<rect x="208.5" y="472.5" width="4" height="72" stroke="#ffff00"/>
<path d="M172.2 517.6L207.9 498M189.5 505l1.5 8M187.5 513h6" stroke="#ffff00" fill="none" shape-rendering="geometricPrecision"/>
<circle cx="168.8" cy="24.6" r="10.4" stroke="#00ff00" fill="none" shape-rendering="geometricPrecision"/>
<path d="M168.5 35V139.5" stroke="#00ff00"/>
<circle cx="273.3" cy="24.6" r="10.4" stroke="#00ff00" fill="none" shape-rendering="geometricPrecision"/>
<path d="M273.5 35V139.5" stroke="#00ff00"/>
<circle cx="377.8" cy="24.6" r="10.4" stroke="#00ff00" fill="none" shape-rendering="geometricPrecision"/>
<path d="M377.5 35V139.5" stroke="#00ff00"/>
<circle cx="479.6" cy="24.6" r="10.4" stroke="#00ff00" fill="none" shape-rendering="geometricPrecision"/>
<path d="M479.5 35V139.5" stroke="#00ff00"/>
<circle cx="581.5" cy="24.6" r="10.4" stroke="#00ff00" fill="none" shape-rendering="geometricPrecision"/>
<path d="M581.5 35V139.5" stroke="#00ff00"/>
<circle cx="683.4" cy="24.6" r="10.4" stroke="#00ff00" fill="none" shape-rendering="geometricPrecision"/>
<path d="M683.5 35V139.5" stroke="#00ff00"/>
<circle cx="785.2" cy="24.6" r="10.4" stroke="#00ff00" fill="none" shape-rendering="geometricPrecision"/>
<path d="M785.5 35V139.5" stroke="#00ff00"/>
<circle cx="887.1" cy="24.6" r="10.4" stroke="#00ff00" fill="none" shape-rendering="geometricPrecision"/>
<path d="M887.5 35V139.5" stroke="#00ff00"/>
<circle cx="989" cy="24.6" r="10.4" stroke="#00ff00" fill="none" shape-rendering="geometricPrecision"/>
<path d="M988.5 35V139.5" stroke="#00ff00"/>
<circle cx="1090.8" cy="24.6" r="10.4" stroke="#00ff00" fill="none" shape-rendering="geometricPrecision"/>
<path d="M1090.5 35V139.5" stroke="#00ff00"/>
<circle cx="1153.5" cy="24.6" r="10.4" stroke="#00ff00" fill="none" shape-rendering="geometricPrecision"/>
<path d="M1153.5 35V139.5" stroke="#00ff00"/>
<circle cx="1221.4" cy="24.6" r="10.4" stroke="#00ff00" fill="none" shape-rendering="geometricPrecision"/>
<path d="M1221.5 35V139.5" stroke="#00ff00"/>
<circle cx="1299.8" cy="24.6" r="10.4" stroke="#00ff00" fill="none" shape-rendering="geometricPrecision"/>
<path d="M1299.5 35V139.5" stroke="#00ff00"/>
<circle cx="168.8" cy="734.2" r="10.4" stroke="#00ff00" fill="none" shape-rendering="geometricPrecision"/>
<path d="M168.5 618.5V723.8" stroke="#00ff00"/>
<circle cx="252.4" cy="734.2" r="10.4" stroke="#00ff00" fill="none" shape-rendering="geometricPrecision"/>
<path d="M252.5 618.5V723.8" stroke="#00ff00"/>
<circle cx="377.8" cy="734.2" r="10.4" stroke="#00ff00" fill="none" shape-rendering="geometricPrecision"/>
<path d="M377.5 618.5V723.8" stroke="#00ff00"/>
<circle cx="479.6" cy="734.2" r="10.4" stroke="#00ff00" fill="none" shape-rendering="geometricPrecision"/>
<path d="M479.5 618.5V723.8" stroke="#00ff00"/>
<circle cx="581.5" cy="734.2" r="10.4" stroke="#00ff00" fill="none" shape-rendering="geometricPrecision"/>
<path d="M581.5 618.5V723.8" stroke="#00ff00"/>
<circle cx="683.4" cy="734.2" r="10.4" stroke="#00ff00" fill="none" shape-rendering="geometricPrecision"/>
<path d="M683.5 618.5V723.8" stroke="#00ff00"/>
<circle cx="785.2" cy="734.2" r="10.4" stroke="#00ff00" fill="none" shape-rendering="geometricPrecision"/>
<path d="M785.5 618.5V723.8" stroke="#00ff00"/>
<circle cx="887.1" cy="734.2" r="10.4" stroke="#00ff00" fill="none" shape-rendering="geometricPrecision"/>
<path d="M887.5 618.5V723.8" stroke="#00ff00"/>
<circle cx="989" cy="734.2" r="10.4" stroke="#00ff00" fill="none" shape-rendering="geometricPrecision"/>
<path d="M988.5 618.5V723.8" stroke="#00ff00"/>
<circle cx="1090.8" cy="734.2" r="10.4" stroke="#00ff00" fill="none" shape-rendering="geometricPrecision"/>
<path d="M1090.5 618.5V723.8" stroke="#00ff00"/>
<circle cx="1195.3" cy="734.2" r="10.4" stroke="#00ff00" fill="none" shape-rendering="geometricPrecision"/>
<path d="M1195.5 618.5V723.8" stroke="#00ff00"/>
<circle cx="1299.8" cy="734.2" r="10.4" stroke="#00ff00" fill="none" shape-rendering="geometricPrecision"/>
<path d="M1299.5 618.5V723.8" stroke="#00ff00"/>
<circle cx="27.4" cy="145.5" r="10.4" stroke="#00ff00" fill="none" shape-rendering="geometricPrecision"/>
<circle cx="27.4" cy="165.4" r="10.4" stroke="#00ff00" fill="none" shape-rendering="geometricPrecision"/>
<circle cx="27.4" cy="183.2" r="10.4" stroke="#00ff00" fill="none" shape-rendering="geometricPrecision"/>
<circle cx="27.4" cy="201.4" r="10.4" stroke="#00ff00" fill="none" shape-rendering="geometricPrecision"/>
<circle cx="27.4" cy="229.4" r="10.4" stroke="#00ff00" fill="none" shape-rendering="geometricPrecision"/>
<circle cx="27.4" cy="347.2" r="10.4" stroke="#00ff00" fill="none" shape-rendering="geometricPrecision"/>
<circle cx="27.4" cy="412.6" r="10.4" stroke="#00ff00" fill="none" shape-rendering="geometricPrecision"/>
<circle cx="27.4" cy="530.3" r="10.4" stroke="#00ff00" fill="none" shape-rendering="geometricPrecision"/>
<circle cx="27.4" cy="570" r="10.4" stroke="#00ff00" fill="none" shape-rendering="geometricPrecision"/>
<circle cx="27.4" cy="587.6" r="10.4" stroke="#00ff00" fill="none" shape-rendering="geometricPrecision"/>
<circle cx="27.4" cy="605.2" r="10.4" stroke="#00ff00" fill="none" shape-rendering="geometricPrecision"/>
<circle cx="1441.2" cy="145.5" r="10.4" stroke="#00ff00" fill="none" shape-rendering="geometricPrecision"/>
<circle cx="1441.2" cy="165.4" r="10.4" stroke="#00ff00" fill="none" shape-rendering="geometricPrecision"/>
<circle cx="1441.2" cy="183.2" r="10.4" stroke="#00ff00" fill="none" shape-rendering="geometricPrecision"/>
<circle cx="1441.2" cy="201.4" r="10.4" stroke="#00ff00" fill="none" shape-rendering="geometricPrecision"/>
<circle cx="1441.2" cy="229.4" r="10.4" stroke="#00ff00" fill="none" shape-rendering="geometricPrecision"/>
<circle cx="1441.2" cy="347.2" r="10.4" stroke="#00ff00" fill="none" shape-rendering="geometricPrecision"/>
<circle cx="1441.2" cy="412.6" r="10.4" stroke="#00ff00" fill="none" shape-rendering="geometricPrecision"/>
<circle cx="1441.2" cy="530.3" r="10.4" stroke="#00ff00" fill="none" shape-rendering="geometricPrecision"/>
<circle cx="1441.2" cy="570" r="10.4" stroke="#00ff00" fill="none" shape-rendering="geometricPrecision"/>
<circle cx="1441.2" cy="587.6" r="10.4" stroke="#00ff00" fill="none" shape-rendering="geometricPrecision"/>
<circle cx="1441.2" cy="605.2" r="10.4" stroke="#00ff00" fill="none" shape-rendering="geometricPrecision"/>
<circle cx="1441.2" cy="250.9" r="10.4" stroke="#00ff00" fill="none" shape-rendering="geometricPrecision"/>
<path d="M36.8 156.5H142" stroke="#00ff00"/>
<path d="M36.8 165.5H142" stroke="#00ff00"/>
<path d="M36.8 172.5H142" stroke="#00ff00"/>
<path d="M36.8 190.5H142" stroke="#00ff00"/>
<path d="M36.8 229.5H142" stroke="#00ff00"/>
<path d="M36.8 347.5H142" stroke="#00ff00"/>
<path d="M36.8 412.5H142" stroke="#00ff00"/>
<path d="M36.8 530.5H142" stroke="#00ff00"/>
<path d="M36.8 569.5H142" stroke="#00ff00"/>
<path d="M36.8 587.5H142" stroke="#00ff00"/>
<path d="M36.8 594.5H142" stroke="#00ff00"/>
<path d="M1326 156.5H1431.8" stroke="#00ff00"/>
<path d="M1326 165.5H1431.8" stroke="#00ff00"/>
<path d="M1326 172.5H1431.8" stroke="#00ff00"/>
<path d="M1326 190.5H1431.8" stroke="#00ff00"/>
<path d="M1326 229.5H1431.8" stroke="#00ff00"/>
<path d="M1326 347.5H1431.8" stroke="#00ff00"/>
<path d="M1326 412.5H1431.8" stroke="#00ff00"/>
<path d="M1326 530.5H1431.8" stroke="#00ff00"/>
<path d="M1326 569.5H1431.8" stroke="#00ff00"/>
<path d="M1326 587.5H1431.8" stroke="#00ff00"/>
<path d="M1326 594.5H1431.8" stroke="#00ff00"/>
<path d="M1326 240.5H1431.8" stroke="#00ff00"/>
<path d="M88 214.5H107" stroke="#00ff00"/>
<path d="M167.8 53.5H1302.3" stroke="#00ff00"/>
<path d="M167.8 74.5H1302.3" stroke="#00ff00"/>
<path d="M167.8 95.5H1302.3" stroke="#00ff00"/>
<path d="M168.5 87.2V104.7" stroke="#00ff00"/>
<path d="M210.5 87.2V104.7" stroke="#00ff00"/>
<path d="M218.5 87.2V104.7" stroke="#00ff00"/>
<path d="M265.5 87.2V104.7" stroke="#00ff00"/>
<path d="M273.5 87.2V104.7" stroke="#00ff00"/>
<path d="M285.5 87.2V104.7" stroke="#00ff00"/>
<path d="M308.5 87.2V104.7" stroke="#00ff00"/>
<path d="M311.5 87.2V104.7" stroke="#00ff00"/>
<path d="M315.5 87.2V104.7" stroke="#00ff00"/>
<path d="M356.5 87.2V104.7" stroke="#00ff00"/>
<path d="M359.5 87.2V104.7" stroke="#00ff00"/>
<path d="M377.5 87.2V104.7" stroke="#00ff00"/>
<path d="M396.5 87.2V104.7" stroke="#00ff00"/>
<path d="M399.5 87.2V104.7" stroke="#00ff00"/>
<path d="M438.5 87.2V104.7" stroke="#00ff00"/>
<path d="M444.5 87.2V104.7" stroke="#00ff00"/>
<path d="M473.5 87.2V104.7" stroke="#00ff00"/>
<path d="M479.5 87.2V104.7" stroke="#00ff00"/>
<path d="M491.5 87.2V104.7" stroke="#00ff00"/>
<path d="M514.5 87.2V104.7" stroke="#00ff00"/>
<path d="M516.5 87.2V104.7" stroke="#00ff00"/>
<path d="M520.5 87.2V104.7" stroke="#00ff00"/>
<path d="M560.5 87.2V104.7" stroke="#00ff00"/>
<path d="M563.5 87.2V104.7" stroke="#00ff00"/>
<path d="M581.5 87.2V104.7" stroke="#00ff00"/>
<path d="M599.5 87.2V104.7" stroke="#00ff00"/>
<path d="M602.5 87.2V104.7" stroke="#00ff00"/>
<path d="M642.5 87.2V104.7" stroke="#00ff00"/>
<path d="M646.5 87.2V104.7" stroke="#00ff00"/>
<path d="M648.5 87.2V104.7" stroke="#00ff00"/>
<path d="M671.5 87.2V104.7" stroke="#00ff00"/>
<path d="M683.5 87.2V104.7" stroke="#00ff00"/>
<path d="M694.5 87.2V104.7" stroke="#00ff00"/>
<path d="M718.5 87.2V104.7" stroke="#00ff00"/>
<path d="M720.5 87.2V104.7" stroke="#00ff00"/>
<path d="M724.5 87.2V104.7" stroke="#00ff00"/>
<path d="M763.5 87.2V104.7" stroke="#00ff00"/>
<path d="M766.5 87.2V104.7" stroke="#00ff00"/>
<path d="M785.5 87.2V104.7" stroke="#00ff00"/>
<path d="M803.5 87.2V104.7" stroke="#00ff00"/>
<path d="M806.5 87.2V104.7" stroke="#00ff00"/>
<path d="M845.5 87.2V104.7" stroke="#00ff00"/>
<path d="M850.5 87.2V104.7" stroke="#00ff00"/>
<path d="M852.5 87.2V104.7" stroke="#00ff00"/>
<path d="M875.5 87.2V104.7" stroke="#00ff00"/>
<path d="M887.5 87.2V104.7" stroke="#00ff00"/>
<path d="M893.5 87.2V104.7" stroke="#00ff00"/>
<path d="M922.5 87.2V104.7" stroke="#00ff00"/>
<path d="M924.5 87.2V104.7" stroke="#00ff00"/>
<path d="M928.5 87.2V104.7" stroke="#00ff00"/>
<path d="M967.5 87.2V104.7" stroke="#00ff00"/>
<path d="M970.5 87.2V104.7" stroke="#00ff00"/>
<path d="M988.5 87.2V104.7" stroke="#00ff00"/>
<path d="M1007.5 87.2V104.7" stroke="#00ff00"/>
<path d="M1010.5 87.2V104.7" stroke="#00ff00"/>
<path d="M1049.5 87.2V104.7" stroke="#00ff00"/>
<path d="M1053.5 87.2V104.7" stroke="#00ff00"/>
<path d="M1055.5 87.2V104.7" stroke="#00ff00"/>
<path d="M1079.5 87.2V104.7" stroke="#00ff00"/>
<path d="M1090.5 87.2V104.7" stroke="#00ff00"/>
<path d="M1097.5 87.2V104.7" stroke="#00ff00"/>
<path d="M1102.5 87.2V104.7" stroke="#00ff00"/>
<path d="M1141.5 87.2V104.7" stroke="#00ff00"/>
<path d="M1153.5 87.2V104.7" stroke="#00ff00"/>
<path d="M1221.5 87.2V104.7" stroke="#00ff00"/>
<path d="M1237.5 87.2V104.7" stroke="#00ff00"/>
<path d="M1284.5 87.2V104.7" stroke="#00ff00"/>
<path d="M1299.5 87.2V104.7" stroke="#00ff00"/>
<path d="M167.8 664.5H1302.3" stroke="#00ff00"/>
<path d="M168.5 656.2V673.7" stroke="#00ff00"/>
<path d="M191.5 656.2V673.7" stroke="#00ff00"/>
<path d="M230.5 656.2V673.7" stroke="#00ff00"/>
<path d="M252.5 656.2V673.7" stroke="#00ff00"/>
<path d="M287.5 656.2V673.7" stroke="#00ff00"/>
<path d="M310.5 656.2V673.7" stroke="#00ff00"/>
<path d="M315.5 656.2V673.7" stroke="#00ff00"/>
<path d="M317.5 656.2V673.7" stroke="#00ff00"/>
<path d="M356.5 656.2V673.7" stroke="#00ff00"/>
<path d="M359.5 656.2V673.7" stroke="#00ff00"/>
<path d="M377.5 656.2V673.7" stroke="#00ff00"/>
<path d="M396.5 656.2V673.7" stroke="#00ff00"/>
<path d="M399.5 656.2V673.7" stroke="#00ff00"/>
<path d="M438.5 656.2V673.7" stroke="#00ff00"/>
<path d="M442.5 656.2V673.7" stroke="#00ff00"/>
<path d="M444.5 656.2V673.7" stroke="#00ff00"/>
<path d="M473.5 656.2V673.7" stroke="#00ff00"/>
<path d="M479.5 656.2V673.7" stroke="#00ff00"/>
<path d="M491.5 656.2V673.7" stroke="#00ff00"/>
<path d="M514.5 656.2V673.7" stroke="#00ff00"/>
<path d="M518.5 656.2V673.7" stroke="#00ff00"/>
<path d="M520.5 656.2V673.7" stroke="#00ff00"/>
<path d="M560.5 656.2V673.7" stroke="#00ff00"/>
<path d="M563.5 656.2V673.7" stroke="#00ff00"/>
<path d="M581.5 656.2V673.7" stroke="#00ff00"/>
<path d="M599.5 656.2V673.7" stroke="#00ff00"/>
<path d="M602.5 656.2V673.7" stroke="#00ff00"/>
<path d="M642.5 656.2V673.7" stroke="#00ff00"/>
<path d="M644.5 656.2V673.7" stroke="#00ff00"/>
<path d="M648.5 656.2V673.7" stroke="#00ff00"/>
<path d="M671.5 656.2V673.7" stroke="#00ff00"/>
<path d="M683.5 656.2V673.7" stroke="#00ff00"/>
<path d="M694.5 656.2V673.7" stroke="#00ff00"/>
<path d="M718.5 656.2V673.7" stroke="#00ff00"/>
<path d="M722.5 656.2V673.7" stroke="#00ff00"/>
<path d="M724.5 656.2V673.7" stroke="#00ff00"/>
<path d="M763.5 656.2V673.7" stroke="#00ff00"/>
<path d="M766.5 656.2V673.7" stroke="#00ff00"/>
<path d="M785.5 656.2V673.7" stroke="#00ff00"/>
<path d="M803.5 656.2V673.7" stroke="#00ff00"/>
<path d="M806.5 656.2V673.7" stroke="#00ff00"/>
<path d="M845.5 656.2V673.7" stroke="#00ff00"/>
<path d="M847.5 656.2V673.7" stroke="#00ff00"/>
<path d="M852.5 656.2V673.7" stroke="#00ff00"/>
<path d="M875.5 656.2V673.7" stroke="#00ff00"/>
<path d="M887.5 656.2V673.7" stroke="#00ff00"/>
<path d="M893.5 656.2V673.7" stroke="#00ff00"/>
<path d="M922.5 656.2V673.7" stroke="#00ff00"/>
<path d="M926.5 656.2V673.7" stroke="#00ff00"/>
<path d="M928.5 656.2V673.7" stroke="#00ff00"/>
<path d="M967.5 656.2V673.7" stroke="#00ff00"/>
<path d="M970.5 656.2V673.7" stroke="#00ff00"/>
<path d="M988.5 656.2V673.7" stroke="#00ff00"/>
<path d="M1007.5 656.2V673.7" stroke="#00ff00"/>
<path d="M1010.5 656.2V673.7" stroke="#00ff00"/>
<path d="M1049.5 656.2V673.7" stroke="#00ff00"/>
<path d="M1051.5 656.2V673.7" stroke="#00ff00"/>
<path d="M1055.5 656.2V673.7" stroke="#00ff00"/>
<path d="M1079.5 656.2V673.7" stroke="#00ff00"/>
<path d="M1090.5 656.2V673.7" stroke="#00ff00"/>
<path d="M1102.5 656.2V673.7" stroke="#00ff00"/>
<path d="M1126.5 656.2V673.7" stroke="#00ff00"/>
<path d="M1130.5 656.2V673.7" stroke="#00ff00"/>
<path d="M1132.5 656.2V673.7" stroke="#00ff00"/>
<path d="M1173.5 656.2V673.7" stroke="#00ff00"/>
<path d="M1177.5 656.2V673.7" stroke="#00ff00"/>
<path d="M1195.5 656.2V673.7" stroke="#00ff00"/>
<path d="M1213.5 656.2V673.7" stroke="#00ff00"/>
<path d="M1216.5 656.2V673.7" stroke="#00ff00"/>
<path d="M1255.5 656.2V673.7" stroke="#00ff00"/>
<path d="M1260.5 656.2V673.7" stroke="#00ff00"/>
<path d="M1299.5 656.2V673.7" stroke="#00ff00"/>
<path d="M167.8 685.5H1302.3" stroke="#00ff00"/>
<path d="M167.8 706.5H1302.3" stroke="#00ff00"/>
<path d="M56.5 155.4V595.3" stroke="#00ff00"/>
<path d="M78.5 155.4V595.3" stroke="#00ff00"/>
<path d="M99.5 155.4V595.3" stroke="#00ff00"/>
<path d="M88 165.5H110" stroke="#00ff00"/>
<path d="M88 214.5H110" stroke="#00ff00"/>
<path d="M88 349.5H110" stroke="#00ff00"/>
<path d="M88 409.5H110" stroke="#00ff00"/>
<path d="M88 434.5H110" stroke="#00ff00"/>
<path d="M88 474.5H110" stroke="#00ff00"/>
<path d="M68 214.5H88" stroke="#00ff00"/>
<path d="M1370.5 155.4V595.3" stroke="#00ff00"/>
<path d="M1391.5 155.4V595.3" stroke="#00ff00"/>
<path d="M1413.5 155.4V595.3" stroke="#00ff00"/>
<path d="M1361 285.5H1381" stroke="#00ff00"/>
<path d="M1361 324.5H1381" stroke="#00ff00"/>
<path d="M1361 350.5H1381" stroke="#00ff00"/>
<path d="M1361 409.5H1381" stroke="#00ff00"/>
<path d="M1361 554.5H1381" stroke="#00ff00"/>
<path d="M1361 579.5H1381" stroke="#00ff00"/>
<path d="M371.5 194.7V214.5" stroke="#00ff00"/>
<path d="M383.5 194.7V214.5" stroke="#00ff00"/>
<path d="M379.5 165.5V194.7" stroke="#00ff00"/>
<path d="M371.9 194.7L381.2 200.9M381.2 200.9L393.6 210.6L412.2 210.6" stroke="#00ff00" shape-rendering="geometricPrecision"/>
<path d="M345 267.4L371.9 229.7M345 267.4L385.5 229.7" stroke="#00ff00" shape-rendering="geometricPrecision"/>
<path d="M330.2 267.5H345" stroke="#00ff00"/>
<path d="M575.5 194.7V214.5" stroke="#00ff00"/>
<path d="M587.5 194.7V214.5" stroke="#00ff00"/>
<path d="M583.5 165.5V194.7" stroke="#00ff00"/>
<path d="M575.9 194.7L585.2 200.9M585.2 200.9L597.6 210.6L616.2 210.6" stroke="#00ff00" shape-rendering="geometricPrecision"/>
<path d="M549 267.4L575.9 229.7M549 267.4L589.5 229.7" stroke="#00ff00" shape-rendering="geometricPrecision"/>
<path d="M534.2 267.5H549" stroke="#00ff00"/>
<path d="M779.5 194.7V214.5" stroke="#00ff00"/>
<path d="M791.5 194.7V214.5" stroke="#00ff00"/>
<path d="M787.5 165.5V194.7" stroke="#00ff00"/>
<path d="M779.9 194.7L789.2 200.9M789.2 200.9L801.6 210.6L820.2 210.6" stroke="#00ff00" shape-rendering="geometricPrecision"/>
<path d="M753 267.4L779.9 229.7M753 267.4L793.5 229.7" stroke="#00ff00" shape-rendering="geometricPrecision"/>
<path d="M738.2 267.5H753" stroke="#00ff00"/>
<path d="M982.5 194.7V214.5" stroke="#00ff00"/>
<path d="M994.5 194.7V214.5" stroke="#00ff00"/>
<path d="M990.5 165.5V194.7" stroke="#00ff00"/>
<path d="M982.9 194.7L992.2 200.9M992.2 200.9L1004.6 210.6L1023.2 210.6" stroke="#00ff00" shape-rendering="geometricPrecision"/>
<path d="M956 267.4L982.9 229.7M956 267.4L996.5 229.7" stroke="#00ff00" shape-rendering="geometricPrecision"/>
<path d="M941.2 267.5H956" stroke="#00ff00"/>
<path d="M371.5 545.4V565.2" stroke="#00ff00"/>
<path d="M383.5 545.4V565.2" stroke="#00ff00"/>
<path d="M371.9 565.2L381.2 559M381.2 559L393.6 549.3L412.2 549.3" stroke="#00ff00" shape-rendering="geometricPrecision"/>
<path d="M345 492.5L371.9 530.2M345 492.5L385.5 530.2" stroke="#00ff00" shape-rendering="geometricPrecision"/>
<path d="M330.2 492.5H345" stroke="#00ff00"/>
<path d="M575.5 545.4V565.2" stroke="#00ff00"/>
<path d="M587.5 545.4V565.2" stroke="#00ff00"/>
<path d="M575.9 565.2L585.2 559M585.2 559L597.6 549.3L616.2 549.3" stroke="#00ff00" shape-rendering="geometricPrecision"/>
<path d="M549 492.5L575.9 530.2M549 492.5L589.5 530.2" stroke="#00ff00" shape-rendering="geometricPrecision"/>
<path d="M534.2 492.5H549" stroke="#00ff00"/>
<path d="M779.5 545.4V565.2" stroke="#00ff00"/>
<path d="M791.5 545.4V565.2" stroke="#00ff00"/>
<path d="M779.9 565.2L789.2 559M789.2 559L801.6 549.3L820.2 549.3" stroke="#00ff00" shape-rendering="geometricPrecision"/>
<path d="M753 492.5L779.9 530.2M753 492.5L793.5 530.2" stroke="#00ff00" shape-rendering="geometricPrecision"/>
<path d="M738.2 492.5H753" stroke="#00ff00"/>
<path d="M982.5 545.4V565.2" stroke="#00ff00"/>
<path d="M994.5 545.4V565.2" stroke="#00ff00"/>
<path d="M982.9 565.2L992.2 559M992.2 559L1004.6 549.3L1023.2 549.3" stroke="#00ff00" shape-rendering="geometricPrecision"/>
<path d="M956 492.5L982.9 530.2M956 492.5L996.5 530.2" stroke="#00ff00" shape-rendering="geometricPrecision"/>
<path d="M941.2 492.5H956" stroke="#00ff00"/>
<path d="M1189.5 545.4V565.2" stroke="#00ff00"/>
<path d="M1201.5 545.4V565.2" stroke="#00ff00"/>
<path d="M1189.9 565.2L1199.2 559M1199.2 559L1211.6 549.3L1230.2 549.3" stroke="#00ff00" shape-rendering="geometricPrecision"/>
<path d="M1163 492.5L1189.9 530.2M1163 492.5L1203.5 530.2" stroke="#00ff00" shape-rendering="geometricPrecision"/>
<path d="M1148.2 492.5H1163" stroke="#00ff00"/>
<path d="M323.5 152.5V169.6" stroke="#00ff00"/>
<path d="M320 153.5H334" stroke="#00ff00"/>
<path d="M320 169.5H328" stroke="#00ff00"/>
<path d="M306.5 122V167.6" stroke="#00ff00"/>
<circle cx="341.5" cy="122" r="13" stroke="#00ff00" fill="none" shape-rendering="geometricPrecision"/>
<path d="M306.4 122.5H354.5" stroke="#00ff00"/>
<path d="M306.5 122V167.6" stroke="#00ff00"/>
<circle cx="418.1" cy="122" r="13" stroke="#00ff00" fill="none" shape-rendering="geometricPrecision"/>
<path d="M383.7 122.5H431.1" stroke="#00ff00"/>
<path d="M383.5 122V177.3" stroke="#00ff00"/>
<circle cx="1034.7" cy="122" r="13" stroke="#00ff00" fill="none" shape-rendering="geometricPrecision"/>
<path d="M1000.3 122.5H1047.7" stroke="#00ff00"/>
<path d="M1000.5 122V180" stroke="#00ff00"/>
<circle cx="418.6" cy="628.3" r="13" stroke="#00ff00" fill="none" shape-rendering="geometricPrecision"/>
<path d="M383.4 628.5H431.6" stroke="#00ff00"/>
<path d="M383.5 584.8V628.3" stroke="#00ff00"/>
<circle cx="1234.2" cy="628.3" r="13" stroke="#00ff00" fill="none" shape-rendering="geometricPrecision"/>
<path d="M1199.5 628.5H1247.2" stroke="#00ff00"/>
<path d="M1199.5 578V628.3" stroke="#00ff00"/>
<path d="M357.3 139.5H398.3" stroke="#00ff00"/>
<path d="M359.5 131V156.5" stroke="#00ff00"/>
<path d="M377.5 131V139.5" stroke="#00ff00"/>
<path d="M396.5 131V156.5" stroke="#00ff00"/>
<path d="M561 139.5H602" stroke="#00ff00"/>
<path d="M563.5 131V156.5" stroke="#00ff00"/>
<path d="M581.5 131V139.5" stroke="#00ff00"/>
<path d="M599.5 131V156.5" stroke="#00ff00"/>
<path d="M764.7 139.5H805.7" stroke="#00ff00"/>
<path d="M766.5 131V156.5" stroke="#00ff00"/>
<path d="M785.5 131V139.5" stroke="#00ff00"/>
<path d="M803.5 131V156.5" stroke="#00ff00"/>
<path d="M968.5 139.5H1009.5" stroke="#00ff00"/>
<path d="M970.5 131V156.5" stroke="#00ff00"/>
<path d="M988.5 131V139.5" stroke="#00ff00"/>
<path d="M1007.5 131V156.5" stroke="#00ff00"/>
<path d="M357.3 619.5H398.3" stroke="#00ff00"/>
<path d="M359.5 604.3V627.8" stroke="#00ff00"/>
<path d="M377.5 604.3V627.8" stroke="#00ff00"/>
<path d="M396.5 604.3V627.8" stroke="#00ff00"/>
<path d="M561 619.5H602" stroke="#00ff00"/>
<path d="M563.5 604.3V627.8" stroke="#00ff00"/>
<path d="M581.5 604.3V627.8" stroke="#00ff00"/>
<path d="M599.5 604.3V627.8" stroke="#00ff00"/>
<path d="M764.7 619.5H805.7" stroke="#00ff00"/>
<path d="M766.5 604.3V627.8" stroke="#00ff00"/>
<path d="M785.5 604.3V627.8" stroke="#00ff00"/>
<path d="M803.5 604.3V627.8" stroke="#00ff00"/>
<path d="M968.5 619.5H1009.5" stroke="#00ff00"/>
<path d="M970.5 604.3V627.8" stroke="#00ff00"/>
<path d="M988.5 604.3V627.8" stroke="#00ff00"/>
<path d="M1007.5 604.3V627.8" stroke="#00ff00"/>
<path d="M1174.8 619.5H1215.8" stroke="#00ff00"/>
<path d="M1177.5 604.3V627.8" stroke="#00ff00"/>
<path d="M1195.5 604.3V627.8" stroke="#00ff00"/>
<path d="M1213.5 604.3V627.8" stroke="#00ff00"/>
<path d="M394.5 146.5H445.5V170.5" stroke="#00ff00" fill="none"/>
<path d="M856 146.5H905.5V170.5" stroke="#00ff00" fill="none"/>
<path d="M448.5 587.5V623.5H493" stroke="#00ff00" fill="none"/>
<path d="M903.5 590V622.5H945" stroke="#00ff00" fill="none"/>
<path d="M167.8 255.5H1093.3" stroke="#00ff00"/>
<path d="M168.5 246.5V264.7" stroke="#00ff00"/>
<path d="M210.5 246.5V264.7" stroke="#00ff00"/>
<path d="M273.5 246.5V264.7" stroke="#00ff00"/>
<path d="M312.5 246.5V264.7" stroke="#00ff00"/>
<path d="M315.5 246.5V264.7" stroke="#00ff00"/>
<path d="M354.5 246.5V264.7" stroke="#00ff00"/>
<path d="M377.5 246.5V264.7" stroke="#00ff00"/>
<path d="M398.5 246.5V264.7" stroke="#00ff00"/>
<path d="M437.5 246.5V264.7" stroke="#00ff00"/>
<path d="M440.5 246.5V264.7" stroke="#00ff00"/>
<path d="M479.5 246.5V264.7" stroke="#00ff00"/>
<path d="M518.5 246.5V264.7" stroke="#00ff00"/>
<path d="M521.5 246.5V264.7" stroke="#00ff00"/>
<path d="M561.5 246.5V264.7" stroke="#00ff00"/>
<path d="M581.5 246.5V264.7" stroke="#00ff00"/>
<path d="M601.5 246.5V264.7" stroke="#00ff00"/>
<path d="M641.5 246.5V264.7" stroke="#00ff00"/>
<path d="M644.5 246.5V264.7" stroke="#00ff00"/>
<path d="M683.5 246.5V264.7" stroke="#00ff00"/>
<path d="M722.5 246.5V264.7" stroke="#00ff00"/>
<path d="M725.5 246.5V264.7" stroke="#00ff00"/>
<path d="M764.5 246.5V264.7" stroke="#00ff00"/>
<path d="M785.5 246.5V264.7" stroke="#00ff00"/>
<path d="M805.5 246.5V264.7" stroke="#00ff00"/>
<path d="M844.5 246.5V264.7" stroke="#00ff00"/>
<path d="M847.5 246.5V264.7" stroke="#00ff00"/>
<path d="M887.5 246.5V264.7" stroke="#00ff00"/>
<path d="M926.5 246.5V264.7" stroke="#00ff00"/>
<path d="M929.5 246.5V264.7" stroke="#00ff00"/>
<path d="M968.5 246.5V264.7" stroke="#00ff00"/>
<path d="M988.5 246.5V264.7" stroke="#00ff00"/>
<path d="M1009.5 246.5V264.7" stroke="#00ff00"/>
<path d="M1048.5 246.5V264.7" stroke="#00ff00"/>
<path d="M1051.5 246.5V264.7" stroke="#00ff00"/>
<path d="M1090.5 246.5V264.7" stroke="#00ff00"/>
<path d="M251.4 509.5H1302.3" stroke="#00ff00"/>
<path d="M252.5 500.5V518.7" stroke="#00ff00"/>
<path d="M312.5 500.5V518.7" stroke="#00ff00"/>
<path d="M322.5 500.5V518.7" stroke="#00ff00"/>
<path d="M356.5 500.5V518.7" stroke="#00ff00"/>
<path d="M377.5 500.5V518.7" stroke="#00ff00"/>
<path d="M398.5 500.5V518.7" stroke="#00ff00"/>
<path d="M437.5 500.5V518.7" stroke="#00ff00"/>
<path d="M440.5 500.5V518.7" stroke="#00ff00"/>
<path d="M479.5 500.5V518.7" stroke="#00ff00"/>
<path d="M518.5 500.5V518.7" stroke="#00ff00"/>
<path d="M521.5 500.5V518.7" stroke="#00ff00"/>
<path d="M561.5 500.5V518.7" stroke="#00ff00"/>
<path d="M581.5 500.5V518.7" stroke="#00ff00"/>
<path d="M601.5 500.5V518.7" stroke="#00ff00"/>
<path d="M641.5 500.5V518.7" stroke="#00ff00"/>
<path d="M644.5 500.5V518.7" stroke="#00ff00"/>
<path d="M683.5 500.5V518.7" stroke="#00ff00"/>
<path d="M722.5 500.5V518.7" stroke="#00ff00"/>
<path d="M725.5 500.5V518.7" stroke="#00ff00"/>
<path d="M764.5 500.5V518.7" stroke="#00ff00"/>
<path d="M785.5 500.5V518.7" stroke="#00ff00"/>
<path d="M805.5 500.5V518.7" stroke="#00ff00"/>
<path d="M844.5 500.5V518.7" stroke="#00ff00"/>
<path d="M847.5 500.5V518.7" stroke="#00ff00"/>
<path d="M887.5 500.5V518.7" stroke="#00ff00"/>
<path d="M926.5 500.5V518.7" stroke="#00ff00"/>
<path d="M929.5 500.5V518.7" stroke="#00ff00"/>
<path d="M968.5 500.5V518.7" stroke="#00ff00"/>
<path d="M988.5 500.5V518.7" stroke="#00ff00"/>
<path d="M1009.5 500.5V518.7" stroke="#00ff00"/>
<path d="M1048.5 500.5V518.7" stroke="#00ff00"/>
<path d="M1051.5 500.5V518.7" stroke="#00ff00"/>
<path d="M1090.5 500.5V518.7" stroke="#00ff00"/>
<path d="M1130.5 500.5V518.7" stroke="#00ff00"/>
<path d="M1133.5 500.5V518.7" stroke="#00ff00"/>
<path d="M1172.5 500.5V518.7" stroke="#00ff00"/>
<path d="M1195.5 500.5V518.7" stroke="#00ff00"/>
<path d="M1218.5 500.5V518.7" stroke="#00ff00"/>
<path d="M1257.5 500.5V518.7" stroke="#00ff00"/>
<path d="M1260.5 500.5V518.7" stroke="#00ff00"/>
<path d="M1299.5 500.5V518.7" stroke="#00ff00"/>
<path d="M443.4 524.5H476.8" stroke="#00ff00"/>
<path d="M443.5 515V528" stroke="#00ff00"/>
<path d="M476.5 515V528" stroke="#00ff00"/>
<path d="M167.8 382.5H254.9" stroke="#00ff00"/>
<path d="M168.5 372.9V390.9" stroke="#00ff00"/>
<path d="M193.5 372.9V390.9" stroke="#00ff00"/>
<path d="M232.5 372.9V390.9" stroke="#00ff00"/>
<path d="M252.5 372.9V390.9" stroke="#00ff00"/>
<path d="M252.5 382V410" stroke="#00ff00"/>
<path d="M1220.4 378.5H1302.3" stroke="#00ff00"/>
<path d="M1221.5 369.2V386.7" stroke="#00ff00"/>
<path d="M1241.5 369.2V386.7" stroke="#00ff00"/>
<path d="M1280.5 369.2V386.7" stroke="#00ff00"/>
<path d="M1299.5 369.2V386.7" stroke="#00ff00"/>
<path d="M1093.8 283.5H1155" stroke="#00ff00"/>
<path d="M1094.5 275.5V292.5" stroke="#00ff00"/>
<path d="M1114.5 275.5V292.5" stroke="#00ff00"/>
<path d="M1140.5 275.5V292.5" stroke="#00ff00"/>
<path d="M1152.5 275.5V292.5" stroke="#00ff00"/>
<path d="M1083 190.5H1100" stroke="#00ff00"/>
<path d="M1087.5 186V200" stroke="#00ff00"/>
<path d="M1090.5 186V200" stroke="#00ff00"/>
<path d="M1094.5 186V200" stroke="#00ff00"/>
<path d="M1097.5 186V200" stroke="#00ff00"/>
<path d="M1124.5 335.5H1165M1124.5 335.5L1132 343L1139.5 335.5" stroke="#00ff00" fill="none" shape-rendering="geometricPrecision"/>
<path d="M1241.5 292V187.5H1279.5V292" stroke="#00ff00" fill="none"/>
<path d="M1279.5 262l1.5 -5v6" stroke="#00ff00" fill="none" shape-rendering="geometricPrecision"/>
<path d="M1146.5 243.5V262.5H1218.5" stroke="#00ff00" fill="none"/>
<path d="M276.5 541L289.5 554M321.5 541L334.5 554" stroke="#00ff00" fill="none" shape-rendering="geometricPrecision"/>
<path d="M673 791.5H811" stroke="#00ff00"/>
<path d="M254 590L273 794H472" stroke="#00ff00" fill="none" shape-rendering="geometricPrecision"/>
<g style="opacity:.999">
<text transform="translate(168.8 29.6) scale(0.85 1)" text-anchor="middle" font-size="14">1</text>
<text transform="translate(273.3 29.6) scale(0.85 1)" text-anchor="middle" font-size="14">3</text>
<text transform="translate(377.8 29.6) scale(0.85 1)" text-anchor="middle" font-size="14">4</text>
<text transform="translate(479.6 29.6) scale(0.85 1)" text-anchor="middle" font-size="14">5</text>
<text transform="translate(581.5 29.6) scale(0.85 1)" text-anchor="middle" font-size="14">6</text>
<text transform="translate(683.4 29.6) scale(0.85 1)" text-anchor="middle" font-size="14">7</text>
<text transform="translate(785.2 29.6) scale(0.85 1)" text-anchor="middle" font-size="14">8</text>
<text transform="translate(887.1 29.6) scale(0.85 1)" text-anchor="middle" font-size="14">9</text>
<text transform="translate(989 28.6) scale(0.8 1)" text-anchor="middle" font-size="11">10</text>
<text transform="translate(1090.8 28.6) scale(0.8 1)" text-anchor="middle" font-size="11">11</text>
<text transform="translate(1153.5 28.6) scale(0.8 1)" text-anchor="middle" font-size="11">12</text>
<text transform="translate(1221.4 28.6) scale(0.8 1)" text-anchor="middle" font-size="11">14</text>
<text transform="translate(1299.8 28.6) scale(0.8 1)" text-anchor="middle" font-size="11">15</text>
<text transform="translate(168.8 739.2) scale(0.85 1)" text-anchor="middle" font-size="14">1</text>
<text transform="translate(252.4 739.2) scale(0.85 1)" text-anchor="middle" font-size="14">2</text>
<text transform="translate(377.8 739.2) scale(0.85 1)" text-anchor="middle" font-size="14">4</text>
<text transform="translate(479.6 739.2) scale(0.85 1)" text-anchor="middle" font-size="14">5</text>
<text transform="translate(581.5 739.2) scale(0.85 1)" text-anchor="middle" font-size="14">6</text>
<text transform="translate(683.4 739.2) scale(0.85 1)" text-anchor="middle" font-size="14">7</text>
<text transform="translate(785.2 739.2) scale(0.85 1)" text-anchor="middle" font-size="14">8</text>
<text transform="translate(887.1 739.2) scale(0.85 1)" text-anchor="middle" font-size="14">9</text>
<text transform="translate(989 738.2) scale(0.8 1)" text-anchor="middle" font-size="11">10</text>
<text transform="translate(1090.8 738.2) scale(0.8 1)" text-anchor="middle" font-size="11">11</text>
<text transform="translate(1195.3 738.2) scale(0.8 1)" text-anchor="middle" font-size="11">13</text>
<text transform="translate(1299.8 738.2) scale(0.8 1)" text-anchor="middle" font-size="11">15</text>
<text transform="translate(27.4 150.5) scale(0.85 1)" text-anchor="middle" font-size="14">M</text>
<text transform="translate(27.4 170.4) scale(0.85 1)" text-anchor="middle" font-size="14">L</text>
<text transform="translate(27.4 188.2) scale(0.85 1)" text-anchor="middle" font-size="14">K</text>
<text transform="translate(27.4 206.4) scale(0.85 1)" text-anchor="middle" font-size="14">J</text>
<text transform="translate(27.4 234.4) scale(0.85 1)" text-anchor="middle" font-size="14">H</text>
<text transform="translate(27.4 352.2) scale(0.85 1)" text-anchor="middle" font-size="14">F</text>
<text transform="translate(27.4 417.6) scale(0.85 1)" text-anchor="middle" font-size="14">E</text>
<text transform="translate(27.4 535.3) scale(0.85 1)" text-anchor="middle" font-size="14">D</text>
<text transform="translate(27.4 575) scale(0.85 1)" text-anchor="middle" font-size="14">C</text>
<text transform="translate(27.4 592.6) scale(0.85 1)" text-anchor="middle" font-size="14">B</text>
<text transform="translate(27.4 610.2) scale(0.85 1)" text-anchor="middle" font-size="14">A</text>
<text transform="translate(1441.2 150.5) scale(0.85 1)" text-anchor="middle" font-size="14">M</text>
<text transform="translate(1441.2 170.4) scale(0.85 1)" text-anchor="middle" font-size="14">L</text>
<text transform="translate(1441.2 188.2) scale(0.85 1)" text-anchor="middle" font-size="14">K</text>
<text transform="translate(1441.2 206.4) scale(0.85 1)" text-anchor="middle" font-size="14">J</text>
<text transform="translate(1441.2 234.4) scale(0.85 1)" text-anchor="middle" font-size="14">H</text>
<text transform="translate(1441.2 352.2) scale(0.85 1)" text-anchor="middle" font-size="14">F</text>
<text transform="translate(1441.2 417.6) scale(0.85 1)" text-anchor="middle" font-size="14">E</text>
<text transform="translate(1441.2 535.3) scale(0.85 1)" text-anchor="middle" font-size="14">D</text>
<text transform="translate(1441.2 575) scale(0.85 1)" text-anchor="middle" font-size="14">C</text>
<text transform="translate(1441.2 592.6) scale(0.85 1)" text-anchor="middle" font-size="14">B</text>
<text transform="translate(1441.2 610.2) scale(0.85 1)" text-anchor="middle" font-size="14">A</text>
<text transform="translate(1441.2 255.9) scale(0.85 1)" text-anchor="middle" font-size="14">G</text>
<text transform="translate(733 50.5) scale(0.92 1)" text-anchor="middle" font-size="9">43300</text>
<text transform="translate(221 72) scale(0.92 1)" text-anchor="middle" font-size="9">4000</text>
<text transform="translate(325.5 72) scale(0.92 1)" text-anchor="middle" font-size="9">4000</text>
<text transform="translate(428.7 72) scale(0.92 1)" text-anchor="middle" font-size="9">3900</text>
<text transform="translate(530.6 72) scale(0.92 1)" text-anchor="middle" font-size="9">3900</text>
<text transform="translate(632.4 72) scale(0.92 1)" text-anchor="middle" font-size="9">3900</text>
<text transform="translate(734.3 72) scale(0.92 1)" text-anchor="middle" font-size="9">3900</text>
<text transform="translate(836.2 72) scale(0.92 1)" text-anchor="middle" font-size="9">3900</text>
<text transform="translate(938 72) scale(0.92 1)" text-anchor="middle" font-size="9">3900</text>
<text transform="translate(1039.9 72) scale(0.92 1)" text-anchor="middle" font-size="9">3900</text>
<text transform="translate(1122.2 72) scale(0.92 1)" text-anchor="middle" font-size="9">2400</text>
<text transform="translate(1187.5 72) scale(0.92 1)" text-anchor="middle" font-size="9">2600</text>
<text transform="translate(1260.6 72) scale(0.92 1)" text-anchor="middle" font-size="9">3000</text>
<text transform="translate(189.7 93.5) scale(0.92 1)" text-anchor="middle" font-size="9">1600</text>
<text transform="translate(214.8 93.5) scale(0.92 1)" text-anchor="middle" font-size="9">320</text>
<text transform="translate(242.5 93.5) scale(0.92 1)" text-anchor="middle" font-size="9">1800</text>
<text transform="translate(266.6 106) scale(0.92 1)" text-anchor="middle" font-size="9">280</text>
<text transform="translate(281.4 93.5) scale(0.92 1)" text-anchor="middle" font-size="9">465</text>
<text transform="translate(297.2 93.5) scale(0.92 1)" text-anchor="middle" font-size="9">900</text>
<text transform="translate(308.3 85) scale(0.92 1)" text-anchor="middle" font-size="9">105</text>
<text transform="translate(310.4 106) scale(0.92 1)" text-anchor="middle" font-size="9">135</text>
<text transform="translate(335.8 93.5) scale(0.92 1)" text-anchor="middle" font-size="9">1575</text>
<text transform="translate(357.9 93.5) scale(0.92 1)" text-anchor="middle" font-size="9">120</text>
<text transform="translate(377.8 93.5) scale(0.92 1)" text-anchor="middle" font-size="9">1400</text>
<text transform="translate(397.6 93.5) scale(0.92 1)" text-anchor="middle" font-size="9">120</text>
<text transform="translate(418.8 93.5) scale(0.92 1)" text-anchor="middle" font-size="9">1500</text>
<text transform="translate(441.5 93.5) scale(0.92 1)" text-anchor="middle" font-size="9">240</text>
<text transform="translate(459 106) scale(0.92 1)" text-anchor="middle" font-size="9">1100</text>
<text transform="translate(471.5 81.5) scale(0.92 1)" text-anchor="middle" font-size="9">240</text>
<text transform="translate(492.4 87.5) scale(0.92 1)" text-anchor="middle" font-size="9">440</text>
<text transform="translate(502.9 93.5) scale(0.92 1)" text-anchor="middle" font-size="9">900</text>
<text transform="translate(515.7 84.5) scale(0.92 1)" text-anchor="middle" font-size="9">80</text>
<text transform="translate(520.8 106) scale(0.92 1)" text-anchor="middle" font-size="9">160</text>
<text transform="translate(540.5 93.5) scale(0.92 1)" text-anchor="middle" font-size="9">1500</text>
<text transform="translate(561.6 93.5) scale(0.92 1)" text-anchor="middle" font-size="9">120</text>
<text transform="translate(581.5 93.5) scale(0.92 1)" text-anchor="middle" font-size="9">1400</text>
<text transform="translate(601.3 93.5) scale(0.92 1)" text-anchor="middle" font-size="9">120</text>
<text transform="translate(622.5 93.5) scale(0.92 1)" text-anchor="middle" font-size="9">1500</text>
<text transform="translate(642.2 106) scale(0.92 1)" text-anchor="middle" font-size="9">160</text>
<text transform="translate(647.3 84.5) scale(0.92 1)" text-anchor="middle" font-size="9">80</text>
<text transform="translate(660.1 93.5) scale(0.92 1)" text-anchor="middle" font-size="9">900</text>
<text transform="translate(671.6 85.5) scale(0.92 1)" text-anchor="middle" font-size="9">440</text>
<text transform="translate(693.1 106) scale(0.92 1)" text-anchor="middle" font-size="9">440</text>
<text transform="translate(706.6 93.5) scale(0.92 1)" text-anchor="middle" font-size="9">900</text>
<text transform="translate(719.4 84.5) scale(0.92 1)" text-anchor="middle" font-size="9">80</text>
<text transform="translate(724.5 106) scale(0.92 1)" text-anchor="middle" font-size="9">160</text>
<text transform="translate(744.2 93.5) scale(0.92 1)" text-anchor="middle" font-size="9">1500</text>
<text transform="translate(765.4 93.5) scale(0.92 1)" text-anchor="middle" font-size="9">120</text>
<text transform="translate(785.2 93.5) scale(0.92 1)" text-anchor="middle" font-size="9">1400</text>
<text transform="translate(805.1 93.5) scale(0.92 1)" text-anchor="middle" font-size="9">120</text>
<text transform="translate(826.2 93.5) scale(0.92 1)" text-anchor="middle" font-size="9">1500</text>
<text transform="translate(845.9 106) scale(0.92 1)" text-anchor="middle" font-size="9">160</text>
<text transform="translate(851.1 84.5) scale(0.92 1)" text-anchor="middle" font-size="9">80</text>
<text transform="translate(863.9 93.5) scale(0.92 1)" text-anchor="middle" font-size="9">900</text>
<text transform="translate(875.4 85.5) scale(0.92 1)" text-anchor="middle" font-size="9">440</text>
<text transform="translate(894.4 106) scale(0.92 1)" text-anchor="middle" font-size="9">250</text>
<text transform="translate(908 93.5) scale(0.92 1)" text-anchor="middle" font-size="9">1100</text>
<text transform="translate(923.4 84.5) scale(0.92 1)" text-anchor="middle" font-size="9">80</text>
<text transform="translate(928.4 106) scale(0.92 1)" text-anchor="middle" font-size="9">150</text>
<text transform="translate(948 93.5) scale(0.92 1)" text-anchor="middle" font-size="9">1500</text>
<text transform="translate(969.1 93.5) scale(0.92 1)" text-anchor="middle" font-size="9">120</text>
<text transform="translate(989 93.5) scale(0.92 1)" text-anchor="middle" font-size="9">1400</text>
<text transform="translate(1008.8 93.5) scale(0.92 1)" text-anchor="middle" font-size="9">120</text>
<text transform="translate(1030 93.5) scale(0.92 1)" text-anchor="middle" font-size="9">1500</text>
<text transform="translate(1049.7 106) scale(0.92 1)" text-anchor="middle" font-size="9">160</text>
<text transform="translate(1054.8 84.5) scale(0.92 1)" text-anchor="middle" font-size="9">80</text>
<text transform="translate(1067.6 93.5) scale(0.92 1)" text-anchor="middle" font-size="9">900</text>
<text transform="translate(1079.1 85.5) scale(0.92 1)" text-anchor="middle" font-size="9">440</text>
<text transform="translate(1097.2 93.5) scale(0.92 1)" text-anchor="middle" font-size="9">260</text>
<text transform="translate(1100.1 106) scale(0.92 1)" text-anchor="middle" font-size="9">190</text>
<text transform="translate(1122.2 93.5) scale(0.92 1)" text-anchor="middle" font-size="9">1500</text>
<text transform="translate(1149.6 93.5) scale(0.92 1)" text-anchor="middle" font-size="9">450</text>
<text transform="translate(1187.5 93.5) scale(0.92 1)" text-anchor="middle" font-size="9">2600</text>
<text transform="translate(1229.3 93.5) scale(0.92 1)" text-anchor="middle" font-size="9">600</text>
<text transform="translate(1260.6 93.5) scale(0.92 1)" text-anchor="middle" font-size="9">1800</text>
<text transform="translate(1292 93.5) scale(0.92 1)" text-anchor="middle" font-size="9">600</text>
<text transform="translate(179.9 662.5) scale(0.92 1)" text-anchor="middle" font-size="9">850</text>
<text transform="translate(210.6 662.5) scale(0.92 1)" text-anchor="middle" font-size="9">1500</text>
<text transform="translate(241.3 662.5) scale(0.92 1)" text-anchor="middle" font-size="9">850</text>
<text transform="translate(271.9 662.5) scale(0.92 1)" text-anchor="middle" font-size="9">1340</text>
<text transform="translate(299.1 662.5) scale(0.92 1)" text-anchor="middle" font-size="9">900</text>
<text transform="translate(312.2 651.5) scale(0.92 1)" text-anchor="middle" font-size="9">180</text>
<text transform="translate(316.4 656.5) scale(0.92 1)" text-anchor="middle" font-size="9">60</text>
<text transform="translate(336.8 662.5) scale(0.92 1)" text-anchor="middle" font-size="9">1500</text>
<text transform="translate(357.9 662.5) scale(0.92 1)" text-anchor="middle" font-size="9">120</text>
<text transform="translate(377.8 662.5) scale(0.92 1)" text-anchor="middle" font-size="9">1400</text>
<text transform="translate(397.6 662.5) scale(0.92 1)" text-anchor="middle" font-size="9">120</text>
<text transform="translate(418.8 662.5) scale(0.92 1)" text-anchor="middle" font-size="9">1500</text>
<text transform="translate(442.3 651.5) scale(0.92 1)" text-anchor="middle" font-size="9">150</text>
<text transform="translate(443.3 656.5) scale(0.92 1)" text-anchor="middle" font-size="9">80</text>
<text transform="translate(458.7 662.5) scale(0.92 1)" text-anchor="middle" font-size="9">1100</text>
<text transform="translate(472.4 651.5) scale(0.92 1)" text-anchor="middle" font-size="9">250</text>
<text transform="translate(491.4 654.5) scale(0.92 1)" text-anchor="middle" font-size="9">440</text>
<text transform="translate(502.9 662.5) scale(0.92 1)" text-anchor="middle" font-size="9">900</text>
<text transform="translate(515.7 651.5) scale(0.92 1)" text-anchor="middle" font-size="9">160</text>
<text transform="translate(519.9 656.5) scale(0.92 1)" text-anchor="middle" font-size="9">80</text>
<text transform="translate(540.5 662.5) scale(0.92 1)" text-anchor="middle" font-size="9">1500</text>
<text transform="translate(561.6 662.5) scale(0.92 1)" text-anchor="middle" font-size="9">120</text>
<text transform="translate(581.5 662.5) scale(0.92 1)" text-anchor="middle" font-size="9">1400</text>
<text transform="translate(601.3 662.5) scale(0.92 1)" text-anchor="middle" font-size="9">120</text>
<text transform="translate(622.5 662.5) scale(0.92 1)" text-anchor="middle" font-size="9">1500</text>
<text transform="translate(643.1 656.5) scale(0.92 1)" text-anchor="middle" font-size="9">80</text>
<text transform="translate(647.3 651.5) scale(0.92 1)" text-anchor="middle" font-size="9">160</text>
<text transform="translate(660.1 662.5) scale(0.92 1)" text-anchor="middle" font-size="9">900</text>
<text transform="translate(671.6 651.5) scale(0.92 1)" text-anchor="middle" font-size="9">440</text>
<text transform="translate(695.1 654.5) scale(0.92 1)" text-anchor="middle" font-size="9">440</text>
<text transform="translate(706.6 662.5) scale(0.92 1)" text-anchor="middle" font-size="9">900</text>
<text transform="translate(719.5 651.5) scale(0.92 1)" text-anchor="middle" font-size="9">160</text>
<text transform="translate(723.6 656.5) scale(0.92 1)" text-anchor="middle" font-size="9">80</text>
<text transform="translate(744.2 662.5) scale(0.92 1)" text-anchor="middle" font-size="9">1500</text>
<text transform="translate(765.4 651.5) scale(0.92 1)" text-anchor="middle" font-size="9">120</text>
<text transform="translate(776.1 662.5) scale(0.92 1)" text-anchor="middle" font-size="9">700</text>
<text transform="translate(794.4 662.5) scale(0.92 1)" text-anchor="middle" font-size="9">700</text>
<text transform="translate(805.1 651.5) scale(0.92 1)" text-anchor="middle" font-size="9">120</text>
<text transform="translate(826.2 662.5) scale(0.92 1)" text-anchor="middle" font-size="9">1500</text>
<text transform="translate(846.9 656.5) scale(0.92 1)" text-anchor="middle" font-size="9">80</text>
<text transform="translate(851 651.5) scale(0.92 1)" text-anchor="middle" font-size="9">160</text>
<text transform="translate(863.9 662.5) scale(0.92 1)" text-anchor="middle" font-size="9">900</text>
<text transform="translate(875.4 651.5) scale(0.92 1)" text-anchor="middle" font-size="9">440</text>
<text transform="translate(894.4 651.5) scale(0.92 1)" text-anchor="middle" font-size="9">250</text>
<text transform="translate(908 662.5) scale(0.92 1)" text-anchor="middle" font-size="9">1100</text>
<text transform="translate(925.3 651.5) scale(0.92 1)" text-anchor="middle" font-size="9">150</text>
<text transform="translate(927.3 656.5) scale(0.92 1)" text-anchor="middle" font-size="9">80</text>
<text transform="translate(948 662.5) scale(0.92 1)" text-anchor="middle" font-size="9">1500</text>
<text transform="translate(969.1 662.5) scale(0.92 1)" text-anchor="middle" font-size="9">120</text>
<text transform="translate(989 662.5) scale(0.92 1)" text-anchor="middle" font-size="9">1400</text>
<text transform="translate(1008.8 662.5) scale(0.92 1)" text-anchor="middle" font-size="9">120</text>
<text transform="translate(1030 662.5) scale(0.92 1)" text-anchor="middle" font-size="9">1500</text>
<text transform="translate(1050.6 656.5) scale(0.92 1)" text-anchor="middle" font-size="9">80</text>
<text transform="translate(1054.7 651.5) scale(0.92 1)" text-anchor="middle" font-size="9">160</text>
<text transform="translate(1067.6 662.5) scale(0.92 1)" text-anchor="middle" font-size="9">900</text>
<text transform="translate(1079.1 651.5) scale(0.92 1)" text-anchor="middle" font-size="9">440</text>
<text transform="translate(1098.9 662.5) scale(0.92 1)" text-anchor="middle" font-size="9">465</text>
<text transform="translate(1114.7 662.5) scale(0.92 1)" text-anchor="middle" font-size="9">900</text>
<text transform="translate(1127.3 651.5) scale(0.92 1)" text-anchor="middle" font-size="9">135</text>
<text transform="translate(1131.4 656.5) scale(0.92 1)" text-anchor="middle" font-size="9">105</text>
<text transform="translate(1153.3 662.5) scale(0.92 1)" text-anchor="middle" font-size="9">1575</text>
<text transform="translate(1175.5 662.5) scale(0.92 1)" text-anchor="middle" font-size="9">120</text>
<text transform="translate(1195.3 662.5) scale(0.92 1)" text-anchor="middle" font-size="9">1400</text>
<text transform="translate(1215.2 662.5) scale(0.92 1)" text-anchor="middle" font-size="9">120</text>
<text transform="translate(1236.3 662.5) scale(0.92 1)" text-anchor="middle" font-size="9">1500</text>
<text transform="translate(1258.3 662.5) scale(0.92 1)" text-anchor="middle" font-size="9">180</text>
<text transform="translate(1280.2 662.5) scale(0.92 1)" text-anchor="middle" font-size="9">1500</text>
<text transform="translate(210.6 683.4) scale(0.92 1)" text-anchor="middle" font-size="9">3200</text>
<text transform="translate(315.1 683.4) scale(0.92 1)" text-anchor="middle" font-size="9">4800</text>
<text transform="translate(428.7 683.4) scale(0.92 1)" text-anchor="middle" font-size="9">3900</text>
<text transform="translate(530.6 683.4) scale(0.92 1)" text-anchor="middle" font-size="9">3900</text>
<text transform="translate(632.4 683.4) scale(0.92 1)" text-anchor="middle" font-size="9">3900</text>
<text transform="translate(734.3 683.4) scale(0.92 1)" text-anchor="middle" font-size="9">3900</text>
<text transform="translate(836.2 683.4) scale(0.92 1)" text-anchor="middle" font-size="9">3900</text>
<text transform="translate(938 683.4) scale(0.92 1)" text-anchor="middle" font-size="9">3900</text>
<text transform="translate(1039.9 683.4) scale(0.92 1)" text-anchor="middle" font-size="9">3900</text>
<text transform="translate(1143.1 683.4) scale(0.92 1)" text-anchor="middle" font-size="9">4000</text>
<text transform="translate(1247.6 683.4) scale(0.92 1)" text-anchor="middle" font-size="9">4000</text>
<text transform="translate(733 703.7) scale(0.92 1)" text-anchor="middle" font-size="9">43300</text>
<text transform="translate(53.7 376) rotate(-90) scale(0.92 1)" text-anchor="middle" font-size="9">16750</text>
<text transform="translate(75.3 146) rotate(-90) scale(0.92 1)" text-anchor="middle" font-size="9">350</text>
<text transform="translate(62 169) rotate(-90) scale(0.92 1)" text-anchor="middle" font-size="9">250</text>
<text transform="translate(75.3 181.5) rotate(-90) scale(0.92 1)" text-anchor="middle" font-size="9">700</text>
<text transform="translate(75.3 202) rotate(-90) scale(0.92 1)" text-anchor="middle" font-size="9">900</text>
<text transform="translate(75.3 222) rotate(-90) scale(0.92 1)" text-anchor="middle" font-size="9">600</text>
<text transform="translate(75.3 288) rotate(-90) scale(0.92 1)" text-anchor="middle" font-size="9">4500</text>
<text transform="translate(75.3 380) rotate(-90) scale(0.92 1)" text-anchor="middle" font-size="9">2500</text>
<text transform="translate(75.3 472) rotate(-90) scale(0.92 1)" text-anchor="middle" font-size="9">4500</text>
<text transform="translate(75.3 550) rotate(-90) scale(0.92 1)" text-anchor="middle" font-size="9">1500</text>
<text transform="translate(75.3 578) rotate(-90) scale(0.92 1)" text-anchor="middle" font-size="9">700</text>
<text transform="translate(73 606) rotate(-90) scale(0.92 1)" text-anchor="middle" font-size="9">250</text>
<text transform="translate(96.1 153.5) rotate(-90) scale(0.92 1)" text-anchor="middle" font-size="9">360</text>
<text transform="translate(96.1 181.5) rotate(-90) scale(0.92 1)" text-anchor="middle" font-size="9">900</text>
<text transform="translate(96.1 202) rotate(-90) scale(0.92 1)" text-anchor="middle" font-size="9">920</text>
<text transform="translate(96.1 222) rotate(-90) scale(0.92 1)" text-anchor="middle" font-size="9">600</text>
<text transform="translate(96.1 288) rotate(-90) scale(0.92 1)" text-anchor="middle" font-size="9">4500</text>
<text transform="translate(96.1 350) rotate(-90) scale(0.92 1)" text-anchor="middle" font-size="9">125</text>
<text transform="translate(96.1 380) rotate(-90) scale(0.92 1)" text-anchor="middle" font-size="9">2250</text>
<text transform="translate(90 409) rotate(-90) scale(0.92 1)" text-anchor="middle" font-size="9">125</text>
<text transform="translate(96.1 424) rotate(-90) scale(0.92 1)" text-anchor="middle" font-size="9">875</text>
<text transform="translate(96.1 458) rotate(-90) scale(0.92 1)" text-anchor="middle" font-size="9">1500</text>
<text transform="translate(96.1 536) rotate(-90) scale(0.92 1)" text-anchor="middle" font-size="9">4575</text>
<text transform="translate(1388.5 146) rotate(-90) scale(0.92 1)" text-anchor="middle" font-size="9">350</text>
<text transform="translate(1407.1 169) rotate(-90) scale(0.92 1)" text-anchor="middle" font-size="9">250</text>
<text transform="translate(1388.5 181.5) rotate(-90) scale(0.92 1)" text-anchor="middle" font-size="9">700</text>
<text transform="translate(1388.5 210) rotate(-90) scale(0.92 1)" text-anchor="middle" font-size="9">1500</text>
<text transform="translate(1388.5 236) rotate(-90) scale(0.92 1)" text-anchor="middle" font-size="9">400</text>
<text transform="translate(1367.6 216) rotate(-90) scale(0.92 1)" text-anchor="middle" font-size="9">4925</text>
<text transform="translate(1388.5 298) rotate(-90) scale(0.92 1)" text-anchor="middle" font-size="9">4100</text>
<text transform="translate(1367.6 302) rotate(-90) scale(0.92 1)" text-anchor="middle" font-size="9">1500</text>
<text transform="translate(1367.6 336) rotate(-90) scale(0.92 1)" text-anchor="middle" font-size="9">875</text>
<text transform="translate(1383 349) rotate(-90) scale(0.92 1)" text-anchor="middle" font-size="9">125</text>
<text transform="translate(1367.6 380) rotate(-90) scale(0.92 1)" text-anchor="middle" font-size="9">2250</text>
<text transform="translate(1388.5 380) rotate(-90) scale(0.92 1)" text-anchor="middle" font-size="9">2500</text>
<text transform="translate(1410.1 380) rotate(-90) scale(0.92 1)" text-anchor="middle" font-size="9">16750</text>
<text transform="translate(1367.6 412) rotate(-90) scale(0.92 1)" text-anchor="middle" font-size="9">125</text>
<text transform="translate(1367.6 472) rotate(-90) scale(0.92 1)" text-anchor="middle" font-size="9">4500</text>
<text transform="translate(1388.5 472) rotate(-90) scale(0.92 1)" text-anchor="middle" font-size="9">4500</text>
<text transform="translate(1367.6 544) rotate(-90) scale(0.92 1)" text-anchor="middle" font-size="9">940</text>
<text transform="translate(1388.5 550) rotate(-90) scale(0.92 1)" text-anchor="middle" font-size="9">1500</text>
<text transform="translate(1367.6 572) rotate(-90) scale(0.92 1)" text-anchor="middle" font-size="9">900</text>
<text transform="translate(1382 586) rotate(-90) scale(0.92 1)" text-anchor="middle" font-size="9">360</text>
<text transform="translate(1388.5 578) rotate(-90) scale(0.92 1)" text-anchor="middle" font-size="9">700</text>
<text transform="translate(1366 604) rotate(-90) scale(0.92 1)" text-anchor="middle" font-size="9">250</text>
<text transform="translate(1388 604) rotate(-90) scale(0.92 1)" text-anchor="middle" font-size="9">250</text>
<circle cx="390.2" cy="185.6" r="1.4" stroke="#fff" shape-rendering="geometricPrecision"/>
<text transform="translate(363.2 205) scale(0.9 1)" text-anchor="middle" font-size="9">220</text>
<text transform="translate(391.2 205) scale(0.9 1)" text-anchor="middle" font-size="9">220</text>
<text transform="translate(406 208) scale(0.9 1)" text-anchor="middle" font-size="9">K2</text>
<text transform="translate(336.5 264.5) scale(0.9 1)" text-anchor="middle" font-size="9">K1</text>
<circle cx="594.2" cy="185.6" r="1.4" stroke="#fff" shape-rendering="geometricPrecision"/>
<text transform="translate(567.2 205) scale(0.9 1)" text-anchor="middle" font-size="9">220</text>
<text transform="translate(595.2 205) scale(0.9 1)" text-anchor="middle" font-size="9">220</text>
<text transform="translate(610 208) scale(0.9 1)" text-anchor="middle" font-size="9">K2</text>
<text transform="translate(540.5 264.5) scale(0.9 1)" text-anchor="middle" font-size="9">K1</text>
<circle cx="798.2" cy="185.6" r="1.4" stroke="#fff" shape-rendering="geometricPrecision"/>
<text transform="translate(771.2 205) scale(0.9 1)" text-anchor="middle" font-size="9">220</text>
<text transform="translate(799.2 205) scale(0.9 1)" text-anchor="middle" font-size="9">220</text>
<text transform="translate(814 208) scale(0.9 1)" text-anchor="middle" font-size="9">K2</text>
<text transform="translate(744.5 264.5) scale(0.9 1)" text-anchor="middle" font-size="9">K1</text>
<circle cx="1001.2" cy="185.6" r="1.4" stroke="#fff" shape-rendering="geometricPrecision"/>
<text transform="translate(974.2 205) scale(0.9 1)" text-anchor="middle" font-size="9">220</text>
<text transform="translate(1002.2 205) scale(0.9 1)" text-anchor="middle" font-size="9">220</text>
<text transform="translate(1017 208) scale(0.9 1)" text-anchor="middle" font-size="9">K2</text>
<text transform="translate(947.5 264.5) scale(0.9 1)" text-anchor="middle" font-size="9">K1</text>
<circle cx="390.2" cy="574.3" r="1.4" stroke="#fff" shape-rendering="geometricPrecision"/>
<text transform="translate(363.5 553) scale(0.9 1)" text-anchor="middle" font-size="9">220</text>
<text transform="translate(391.4 554.8) scale(0.9 1)" text-anchor="middle" font-size="9">220</text>
<text transform="translate(406 547) scale(0.9 1)" text-anchor="middle" font-size="9">K2</text>
<text transform="translate(336.5 490) scale(0.9 1)" text-anchor="middle" font-size="9">K1</text>
<circle cx="594.2" cy="574.3" r="1.4" stroke="#fff" shape-rendering="geometricPrecision"/>
<text transform="translate(567.5 553) scale(0.9 1)" text-anchor="middle" font-size="9">220</text>
<text transform="translate(595.4 554.8) scale(0.9 1)" text-anchor="middle" font-size="9">220</text>
<text transform="translate(610 547) scale(0.9 1)" text-anchor="middle" font-size="9">K2</text>
<text transform="translate(540.5 490) scale(0.9 1)" text-anchor="middle" font-size="9">K1</text>
<circle cx="798.2" cy="574.3" r="1.4" stroke="#fff" shape-rendering="geometricPrecision"/>
<text transform="translate(771.5 553) scale(0.9 1)" text-anchor="middle" font-size="9">220</text>
<text transform="translate(799.4 554.8) scale(0.9 1)" text-anchor="middle" font-size="9">220</text>
<text transform="translate(814 547) scale(0.9 1)" text-anchor="middle" font-size="9">K2</text>
<text transform="translate(744.5 490) scale(0.9 1)" text-anchor="middle" font-size="9">K1</text>
<circle cx="1001.2" cy="574.3" r="1.4" stroke="#fff" shape-rendering="geometricPrecision"/>
<text transform="translate(974.5 553) scale(0.9 1)" text-anchor="middle" font-size="9">220</text>
<text transform="translate(1002.4 554.8) scale(0.9 1)" text-anchor="middle" font-size="9">220</text>
<text transform="translate(1017 547) scale(0.9 1)" text-anchor="middle" font-size="9">K2</text>
<text transform="translate(947.5 490) scale(0.9 1)" text-anchor="middle" font-size="9">K1</text>
<circle cx="1208.2" cy="574.3" r="1.4" stroke="#fff" shape-rendering="geometricPrecision"/>
<text transform="translate(1181.5 553) scale(0.9 1)" text-anchor="middle" font-size="9">220</text>
<text transform="translate(1209.4 554.8) scale(0.9 1)" text-anchor="middle" font-size="9">220</text>
<text transform="translate(1224 547) scale(0.9 1)" text-anchor="middle" font-size="9">K2</text>
<text transform="translate(1154.5 490) scale(0.9 1)" text-anchor="middle" font-size="9">K1</text>
<text transform="translate(297.2 164.6) scale(0.78 1)" text-anchor="middle" font-size="6.8">C0917</text>
<text transform="translate(335.8 164.6) scale(0.78 1)" text-anchor="middle" font-size="6.8">C1617</text>
<text transform="translate(418.8 164.6) scale(0.78 1)" text-anchor="middle" font-size="6.8">C1517</text>
<text transform="translate(459 164.6) scale(0.78 1)" text-anchor="middle" font-size="6.8">C-1117</text>
<text transform="translate(502.9 164.6) scale(0.78 1)" text-anchor="middle" font-size="6.8">C0917</text>
<text transform="translate(540.5 164.6) scale(0.78 1)" text-anchor="middle" font-size="6.8">C1517</text>
<text transform="translate(706.6 164.6) scale(0.78 1)" text-anchor="middle" font-size="6.8">C0917</text>
<text transform="translate(744.2 164.6) scale(0.78 1)" text-anchor="middle" font-size="6.8">C1517</text>
<text transform="translate(622.5 164.6) scale(0.78 1)" text-anchor="middle" font-size="6.8">C1517</text>
<text transform="translate(660.1 164.6) scale(0.78 1)" text-anchor="middle" font-size="6.8">C0917</text>
<text transform="translate(826.2 164.6) scale(0.78 1)" text-anchor="middle" font-size="6.8">C1517</text>
<text transform="translate(863.9 164.6) scale(0.78 1)" text-anchor="middle" font-size="6.8">C0917</text>
<text transform="translate(1030 164.6) scale(0.78 1)" text-anchor="middle" font-size="6.8">C1517</text>
<text transform="translate(1067.6 164.6) scale(0.78 1)" text-anchor="middle" font-size="6.8">C0917</text>
<text transform="translate(908 164.6) scale(0.78 1)" text-anchor="middle" font-size="6.8">C-1117</text>
<text transform="translate(948 164.6) scale(0.78 1)" text-anchor="middle" font-size="6.8">C1517</text>
<text transform="translate(1122.2 164.6) scale(0.78 1)" text-anchor="middle" font-size="6.8">C1517</text>
<text transform="translate(299.1 600.2) scale(0.78 1)" text-anchor="middle" font-size="6.8">C0917</text>
<text transform="translate(336.8 600.2) scale(0.78 1)" text-anchor="middle" font-size="6.8">C1517</text>
<text transform="translate(418.8 600.2) scale(0.78 1)" text-anchor="middle" font-size="6.8">C1517</text>
<text transform="translate(458.7 600.2) scale(0.78 1)" text-anchor="middle" font-size="6.8">C-1117</text>
<text transform="translate(502.9 600.2) scale(0.78 1)" text-anchor="middle" font-size="6.8">C0917</text>
<text transform="translate(540.5 600.2) scale(0.78 1)" text-anchor="middle" font-size="6.8">C1517</text>
<text transform="translate(706.6 600.2) scale(0.78 1)" text-anchor="middle" font-size="6.8">C0917</text>
<text transform="translate(744.2 600.2) scale(0.78 1)" text-anchor="middle" font-size="6.8">C1517</text>
<text transform="translate(622.5 600.2) scale(0.78 1)" text-anchor="middle" font-size="6.8">C1517</text>
<text transform="translate(660.1 600.2) scale(0.78 1)" text-anchor="middle" font-size="6.8">C0917</text>
<text transform="translate(826.2 600.2) scale(0.78 1)" text-anchor="middle" font-size="6.8">C1517</text>
<text transform="translate(863.9 600.2) scale(0.78 1)" text-anchor="middle" font-size="6.8">C0917</text>
<text transform="translate(1030 600.2) scale(0.78 1)" text-anchor="middle" font-size="6.8">C1517</text>
<text transform="translate(1067.6 600.2) scale(0.78 1)" text-anchor="middle" font-size="6.8">C0917</text>
<text transform="translate(908 600.2) scale(0.78 1)" text-anchor="middle" font-size="6.8">C-1117</text>
<text transform="translate(948 600.2) scale(0.78 1)" text-anchor="middle" font-size="6.8">C1517</text>
<text transform="translate(1114.7 600.2) scale(0.78 1)" text-anchor="middle" font-size="6.8">C0917</text>
<text transform="translate(1153.3 600.2) scale(0.78 1)" text-anchor="middle" font-size="6.8">C1617</text>
<text transform="translate(1236.3 600.2) scale(0.78 1)" text-anchor="middle" font-size="6.8">C1517</text>
<text transform="translate(241 147.2) scale(0.78 1)" text-anchor="middle" font-size="6.8">C1813</text>
<text transform="translate(160.5 178.5) rotate(-90) scale(0.78 1)" text-anchor="middle" font-size="6.8">C0917</text>
<text transform="translate(160.5 380) rotate(-90) scale(0.78 1)" text-anchor="middle" font-size="6.8">C2219a</text>
<text transform="translate(160.5 455) rotate(-90) scale(0.78 1)" text-anchor="middle" font-size="6.8">C1519</text>
<text transform="translate(210.5 585.8) scale(0.78 1)" text-anchor="middle" font-size="6.8">C1522</text>
<text transform="translate(1260.5 157.5) scale(0.78 1)" text-anchor="middle" font-size="6.8">C1822</text>
<text transform="translate(1313 305) rotate(-90) scale(0.78 1)" text-anchor="middle" font-size="6.8">C1519</text>
<text transform="translate(1313 380) rotate(-90) scale(0.78 1)" text-anchor="middle" font-size="6.8">C2219a</text>
<text transform="translate(1313 567) rotate(-90) scale(0.78 1)" text-anchor="middle" font-size="6.8">C0917</text>
<text transform="translate(360.8 360.5) scale(0.78 1)" text-anchor="middle" font-size="6.8">M1023</text>
<text transform="translate(398.8 360.5) scale(0.78 1)" text-anchor="middle" font-size="6.8">M1023</text>
<text transform="translate(564.5 360.5) scale(0.78 1)" text-anchor="middle" font-size="6.8">M1023</text>
<text transform="translate(602.5 360.5) scale(0.78 1)" text-anchor="middle" font-size="6.8">M1023</text>
<text transform="translate(768.2 360.5) scale(0.78 1)" text-anchor="middle" font-size="6.8">M1023</text>
<text transform="translate(806.2 360.5) scale(0.78 1)" text-anchor="middle" font-size="6.8">M1023</text>
<text transform="translate(972 360.5) scale(0.78 1)" text-anchor="middle" font-size="6.8">M1023</text>
<text transform="translate(1010 360.5) scale(0.78 1)" text-anchor="middle" font-size="6.8">M1023</text>
<text transform="translate(253.5 360.5) scale(0.78 1)" text-anchor="middle" font-size="6.8">M1023</text>
<text transform="translate(360.8 405) scale(0.78 1)" text-anchor="middle" font-size="6.8">M1023</text>
<text transform="translate(398.8 405) scale(0.78 1)" text-anchor="middle" font-size="6.8">M1023</text>
<text transform="translate(564.5 405) scale(0.78 1)" text-anchor="middle" font-size="6.8">M1023</text>
<text transform="translate(602.5 405) scale(0.78 1)" text-anchor="middle" font-size="6.8">M1023</text>
<text transform="translate(768.2 405) scale(0.78 1)" text-anchor="middle" font-size="6.8">M1023</text>
<text transform="translate(806.2 405) scale(0.78 1)" text-anchor="middle" font-size="6.8">M1023</text>
<text transform="translate(972 405) scale(0.78 1)" text-anchor="middle" font-size="6.8">M1023</text>
<text transform="translate(1010 405) scale(0.78 1)" text-anchor="middle" font-size="6.8">M1023</text>
<text transform="translate(1178.3 405) scale(0.78 1)" text-anchor="middle" font-size="6.8">M1023</text>
<text transform="translate(1216.3 405) scale(0.78 1)" text-anchor="middle" font-size="6.8">M1023</text>
<text transform="translate(436.4 212) rotate(-90) scale(0.78 1)" text-anchor="middle" font-size="6.8">M0922</text>
<text transform="translate(527.4 212) rotate(-90) scale(0.78 1)" text-anchor="middle" font-size="6.8">M0922</text>
<text transform="translate(436.4 547.9) rotate(-90) scale(0.78 1)" text-anchor="middle" font-size="6.8">M0922</text>
<text transform="translate(527.4 547.9) rotate(-90) scale(0.78 1)" text-anchor="middle" font-size="6.8">M0922</text>
<text transform="translate(640.2 212) rotate(-90) scale(0.78 1)" text-anchor="middle" font-size="6.8">M0922</text>
<text transform="translate(731.2 212) rotate(-90) scale(0.78 1)" text-anchor="middle" font-size="6.8">M0922</text>
<text transform="translate(640.2 547.9) rotate(-90) scale(0.78 1)" text-anchor="middle" font-size="6.8">M0922</text>
<text transform="translate(731.2 547.9) rotate(-90) scale(0.78 1)" text-anchor="middle" font-size="6.8">M0922</text>
<text transform="translate(843.9 212) rotate(-90) scale(0.78 1)" text-anchor="middle" font-size="6.8">M0922</text>
<text transform="translate(934.9 212) rotate(-90) scale(0.78 1)" text-anchor="middle" font-size="6.8">M0922</text>
<text transform="translate(843.9 547.9) rotate(-90) scale(0.78 1)" text-anchor="middle" font-size="6.8">M0922</text>
<text transform="translate(934.9 547.9) rotate(-90) scale(0.78 1)" text-anchor="middle" font-size="6.8">M0922</text>
<text transform="translate(1047.6 212) rotate(-90) scale(0.78 1)" text-anchor="middle" font-size="6.8">M0922</text>
<text transform="translate(1047.6 547.9) rotate(-90) scale(0.78 1)" text-anchor="middle" font-size="6.8">M0922</text>
<text transform="translate(1138.6 547.9) rotate(-90) scale(0.78 1)" text-anchor="middle" font-size="6.8">M0922</text>
<text transform="translate(321.1 212) rotate(-90) scale(0.78 1)" text-anchor="middle" font-size="6.8">M0922</text>
<text transform="translate(1256.6 547.9) rotate(-90) scale(0.78 1)" text-anchor="middle" font-size="6.8">M0922</text>
<text transform="translate(337.8 238) scale(0.78 1)" text-anchor="middle" font-size="6.8">TLM1522</text>
<text transform="translate(417.7 238) scale(0.78 1)" text-anchor="middle" font-size="6.8">TLM1522</text>
<text transform="translate(541.5 238) scale(0.78 1)" text-anchor="middle" font-size="6.8">TLM1522</text>
<text transform="translate(621.5 238) scale(0.78 1)" text-anchor="middle" font-size="6.8">TLM1522</text>
<text transform="translate(745.3 238) scale(0.78 1)" text-anchor="middle" font-size="6.8">TLM1522</text>
<text transform="translate(825.2 238) scale(0.78 1)" text-anchor="middle" font-size="6.8">TLM1522</text>
<text transform="translate(949 238) scale(0.78 1)" text-anchor="middle" font-size="6.8">TLM1522</text>
<text transform="translate(1028.9 238) scale(0.78 1)" text-anchor="middle" font-size="6.8">TLM1522</text>
<text transform="translate(417.7 526.9) scale(0.78 1)" text-anchor="middle" font-size="6.8">TLM1522</text>
<text transform="translate(541.5 526.9) scale(0.78 1)" text-anchor="middle" font-size="6.8">TLM1522</text>
<text transform="translate(621.5 526.9) scale(0.78 1)" text-anchor="middle" font-size="6.8">TLM1522</text>
<text transform="translate(745.3 526.9) scale(0.78 1)" text-anchor="middle" font-size="6.8">TLM1522</text>
<text transform="translate(825.2 526.9) scale(0.78 1)" text-anchor="middle" font-size="6.8">TLM1522</text>
<text transform="translate(949 526.9) scale(0.78 1)" text-anchor="middle" font-size="6.8">TLM1522</text>
<text transform="translate(1028.9 526.9) scale(0.78 1)" text-anchor="middle" font-size="6.8">TLM1522</text>
<text transform="translate(1155.4 526.9) scale(0.78 1)" text-anchor="middle" font-size="6.8">TLM1522</text>
<text transform="translate(1235.3 526.9) scale(0.78 1)" text-anchor="middle" font-size="6.8">TLM1522</text>
<text transform="translate(219.9 196.5) rotate(-90) scale(0.78 1)" text-anchor="middle" font-size="6.8">M0922</text>
<text transform="translate(233.3 224.5) scale(0.78 1)" text-anchor="middle" font-size="6.8">TLM1522</text>
<text transform="translate(322 168) rotate(-90) scale(0.9 1)" font-size="9">600</text>
<text transform="translate(341.5 119) scale(0.9 1)" text-anchor="middle" font-size="8">9</text>
<text transform="translate(341.5 131.5) scale(0.9 1)" text-anchor="middle" font-size="8">16</text>
<text transform="translate(418.1 119) scale(0.9 1)" text-anchor="middle" font-size="8">1</text>
<text transform="translate(418.1 131.5) scale(0.9 1)" text-anchor="middle" font-size="8">13</text>
<text transform="translate(1034.7 119) scale(0.9 1)" text-anchor="middle" font-size="8">1</text>
<text transform="translate(1034.7 131.5) scale(0.9 1)" text-anchor="middle" font-size="8">13</text>
<text transform="translate(418.6 625.3) scale(0.9 1)" text-anchor="middle" font-size="8">1</text>
<text transform="translate(418.6 637.8) scale(0.9 1)" text-anchor="middle" font-size="8">13</text>
<text transform="translate(1234.2 625.3) scale(0.9 1)" text-anchor="middle" font-size="8">1</text>
<text transform="translate(1234.2 637.8) scale(0.9 1)" text-anchor="middle" font-size="8">13</text>
<text transform="translate(368.8 137.6) scale(0.9 1)" text-anchor="middle" font-size="9">700</text>
<text transform="translate(387.4 137.6) scale(0.9 1)" text-anchor="middle" font-size="9">700</text>
<text transform="translate(572.5 137.6) scale(0.9 1)" text-anchor="middle" font-size="9">700</text>
<text transform="translate(591.1 137.6) scale(0.9 1)" text-anchor="middle" font-size="9">700</text>
<text transform="translate(776.2 137.6) scale(0.9 1)" text-anchor="middle" font-size="9">700</text>
<text transform="translate(794.8 137.6) scale(0.9 1)" text-anchor="middle" font-size="9">700</text>
<text transform="translate(980 137.6) scale(0.9 1)" text-anchor="middle" font-size="9">700</text>
<text transform="translate(998.6 137.6) scale(0.9 1)" text-anchor="middle" font-size="9">700</text>
<text transform="translate(368.8 617.3) scale(0.9 1)" text-anchor="middle" font-size="9">700</text>
<text transform="translate(387.4 617.3) scale(0.9 1)" text-anchor="middle" font-size="9">700</text>
<text transform="translate(572.5 617.3) scale(0.9 1)" text-anchor="middle" font-size="9">700</text>
<text transform="translate(591.1 617.3) scale(0.9 1)" text-anchor="middle" font-size="9">700</text>
<text transform="translate(776.2 617.3) scale(0.9 1)" text-anchor="middle" font-size="9">700</text>
<text transform="translate(794.8 617.3) scale(0.9 1)" text-anchor="middle" font-size="9">700</text>
<text transform="translate(980 617.3) scale(0.9 1)" text-anchor="middle" font-size="9">700</text>
<text transform="translate(998.6 617.3) scale(0.9 1)" text-anchor="middle" font-size="9">700</text>
<text transform="translate(1186.3 617.3) scale(0.9 1)" text-anchor="middle" font-size="9">700</text>
<text transform="translate(1204.9 617.3) scale(0.9 1)" text-anchor="middle" font-size="9">700</text>
<text class="cj" transform="translate(411.7 142.35) scale(0.8 1)" text-anchor="middle" font-size="7.5">消防救援窗</text>
<text class="cj" transform="translate(871 142.35) scale(0.8 1)" text-anchor="middle" font-size="7.5">消防救援窗</text>
<text class="cj" transform="translate(478 620.35) scale(0.8 1)" text-anchor="middle" font-size="7.5">消防救援窗</text>
<text class="cj" transform="translate(930 619.35) scale(0.8 1)" text-anchor="middle" font-size="7.5">消防救援窗</text>
<text transform="translate(189.7 252.9) scale(0.92 1)" text-anchor="middle" font-size="9">1600</text>
<text transform="translate(241.9 252.9) scale(0.92 1)" text-anchor="middle" font-size="9">2400</text>
<text transform="translate(292.9 252.9) scale(0.92 1)" text-anchor="middle" font-size="9">1500</text>
<text transform="translate(314 252.9) scale(0.92 1)" text-anchor="middle" font-size="9">120</text>
<text transform="translate(335.2 252.9) scale(0.92 1)" text-anchor="middle" font-size="9">1500</text>
<text transform="translate(366.3 252.9) scale(0.92 1)" text-anchor="middle" font-size="9">880</text>
<text transform="translate(387.9 252.9) scale(0.92 1)" text-anchor="middle" font-size="9">780</text>
<text transform="translate(417.7 252.9) scale(0.92 1)" text-anchor="middle" font-size="9">1500</text>
<text transform="translate(438.9 252.9) scale(0.92 1)" text-anchor="middle" font-size="9">120</text>
<text transform="translate(460 252.9) scale(0.92 1)" text-anchor="middle" font-size="9">1500</text>
<text transform="translate(499.2 252.9) scale(0.92 1)" text-anchor="middle" font-size="9">1500</text>
<text transform="translate(520.4 252.9) scale(0.92 1)" text-anchor="middle" font-size="9">120</text>
<text transform="translate(541.5 252.9) scale(0.92 1)" text-anchor="middle" font-size="9">1500</text>
<text transform="translate(571.3 252.9) scale(0.92 1)" text-anchor="middle" font-size="9">780</text>
<text transform="translate(591.7 252.9) scale(0.92 1)" text-anchor="middle" font-size="9">780</text>
<text transform="translate(621.5 252.9) scale(0.92 1)" text-anchor="middle" font-size="9">1500</text>
<text transform="translate(642.6 252.9) scale(0.92 1)" text-anchor="middle" font-size="9">120</text>
<text transform="translate(663.8 252.9) scale(0.92 1)" text-anchor="middle" font-size="9">1500</text>
<text transform="translate(703 252.9) scale(0.92 1)" text-anchor="middle" font-size="9">1500</text>
<text transform="translate(724.1 252.9) scale(0.92 1)" text-anchor="middle" font-size="9">120</text>
<text transform="translate(745.3 252.9) scale(0.92 1)" text-anchor="middle" font-size="9">1500</text>
<text transform="translate(775 252.9) scale(0.92 1)" text-anchor="middle" font-size="9">780</text>
<text transform="translate(795.4 252.9) scale(0.92 1)" text-anchor="middle" font-size="9">780</text>
<text transform="translate(825.2 252.9) scale(0.92 1)" text-anchor="middle" font-size="9">1500</text>
<text transform="translate(846.4 252.9) scale(0.92 1)" text-anchor="middle" font-size="9">120</text>
<text transform="translate(867.5 252.9) scale(0.92 1)" text-anchor="middle" font-size="9">1500</text>
<text transform="translate(906.7 252.9) scale(0.92 1)" text-anchor="middle" font-size="9">1500</text>
<text transform="translate(927.8 252.9) scale(0.92 1)" text-anchor="middle" font-size="9">120</text>
<text transform="translate(949 252.9) scale(0.92 1)" text-anchor="middle" font-size="9">1500</text>
<text transform="translate(978.8 252.9) scale(0.92 1)" text-anchor="middle" font-size="9">780</text>
<text transform="translate(999.2 252.9) scale(0.92 1)" text-anchor="middle" font-size="9">780</text>
<text transform="translate(1028.9 252.9) scale(0.92 1)" text-anchor="middle" font-size="9">1500</text>
<text transform="translate(1050.1 252.9) scale(0.92 1)" text-anchor="middle" font-size="9">120</text>
<text transform="translate(1071.2 252.9) scale(0.92 1)" text-anchor="middle" font-size="9">1500</text>
<text transform="translate(282.4 506.9) scale(0.92 1)" text-anchor="middle" font-size="9">2300</text>
<text transform="translate(317.7 506.9) scale(0.92 1)" text-anchor="middle" font-size="9">400</text>
<text transform="translate(339.9 506.9) scale(0.92 1)" text-anchor="middle" font-size="9">1300</text>
<text transform="translate(367.3 506.9) scale(0.92 1)" text-anchor="middle" font-size="9">800</text>
<text transform="translate(387.9 506.9) scale(0.92 1)" text-anchor="middle" font-size="9">780</text>
<text transform="translate(417.7 506.9) scale(0.92 1)" text-anchor="middle" font-size="9">1500</text>
<text transform="translate(438.9 506.9) scale(0.92 1)" text-anchor="middle" font-size="9">120</text>
<text transform="translate(460 506.9) scale(0.92 1)" text-anchor="middle" font-size="9">1500</text>
<text transform="translate(499.2 506.9) scale(0.92 1)" text-anchor="middle" font-size="9">1500</text>
<text transform="translate(520.4 506.9) scale(0.92 1)" text-anchor="middle" font-size="9">120</text>
<text transform="translate(541.5 506.9) scale(0.92 1)" text-anchor="middle" font-size="9">1500</text>
<text transform="translate(571.3 506.9) scale(0.92 1)" text-anchor="middle" font-size="9">780</text>
<text transform="translate(591.7 506.9) scale(0.92 1)" text-anchor="middle" font-size="9">780</text>
<text transform="translate(621.5 506.9) scale(0.92 1)" text-anchor="middle" font-size="9">1500</text>
<text transform="translate(642.6 506.9) scale(0.92 1)" text-anchor="middle" font-size="9">120</text>
<text transform="translate(663.8 506.9) scale(0.92 1)" text-anchor="middle" font-size="9">1500</text>
<text transform="translate(703 506.9) scale(0.92 1)" text-anchor="middle" font-size="9">1500</text>
<text transform="translate(724.1 506.9) scale(0.92 1)" text-anchor="middle" font-size="9">120</text>
<text transform="translate(745.3 506.9) scale(0.92 1)" text-anchor="middle" font-size="9">1500</text>
<text transform="translate(775 506.9) scale(0.92 1)" text-anchor="middle" font-size="9">780</text>
<text transform="translate(795.4 506.9) scale(0.92 1)" text-anchor="middle" font-size="9">780</text>
<text transform="translate(825.2 506.9) scale(0.92 1)" text-anchor="middle" font-size="9">1500</text>
<text transform="translate(846.4 506.9) scale(0.92 1)" text-anchor="middle" font-size="9">120</text>
<text transform="translate(867.5 506.9) scale(0.92 1)" text-anchor="middle" font-size="9">1500</text>
<text transform="translate(906.7 506.9) scale(0.92 1)" text-anchor="middle" font-size="9">1500</text>
<text transform="translate(927.8 506.9) scale(0.92 1)" text-anchor="middle" font-size="9">120</text>
<text transform="translate(949 506.9) scale(0.92 1)" text-anchor="middle" font-size="9">1500</text>
<text transform="translate(978.8 506.9) scale(0.92 1)" text-anchor="middle" font-size="9">780</text>
<text transform="translate(999.2 506.9) scale(0.92 1)" text-anchor="middle" font-size="9">780</text>
<text transform="translate(1028.9 506.9) scale(0.92 1)" text-anchor="middle" font-size="9">1500</text>
<text transform="translate(1050.1 506.9) scale(0.92 1)" text-anchor="middle" font-size="9">120</text>
<text transform="translate(1071.2 506.9) scale(0.92 1)" text-anchor="middle" font-size="9">1500</text>
<text transform="translate(1110.4 506.9) scale(0.92 1)" text-anchor="middle" font-size="9">1500</text>
<text transform="translate(1131.6 506.9) scale(0.92 1)" text-anchor="middle" font-size="9">120</text>
<text transform="translate(1152.7 506.9) scale(0.92 1)" text-anchor="middle" font-size="9">1500</text>
<text transform="translate(1183.8 506.9) scale(0.92 1)" text-anchor="middle" font-size="9">880</text>
<text transform="translate(1206.8 506.9) scale(0.92 1)" text-anchor="middle" font-size="9">880</text>
<text transform="translate(1237.9 506.9) scale(0.92 1)" text-anchor="middle" font-size="9">1500</text>
<text transform="translate(1259 506.9) scale(0.92 1)" text-anchor="middle" font-size="9">120</text>
<text transform="translate(1280.2 506.9) scale(0.92 1)" text-anchor="middle" font-size="9">1500</text>
<text transform="translate(460 522) scale(0.9 1)" text-anchor="middle" font-size="9">1260</text>
<text transform="translate(181.2 380.2) scale(0.92 1)" text-anchor="middle" font-size="9">950</text>
<text transform="translate(213.2 380.2) scale(0.92 1)" text-anchor="middle" font-size="9">1500</text>
<text transform="translate(242.6 380.2) scale(0.92 1)" text-anchor="middle" font-size="9">750</text>
<text transform="translate(1231.2 376.5) scale(0.92 1)" text-anchor="middle" font-size="9">750</text>
<text transform="translate(1260.6 376.5) scale(0.92 1)" text-anchor="middle" font-size="9">1500</text>
<text transform="translate(1290 376.5) scale(0.92 1)" text-anchor="middle" font-size="9">750</text>
<text transform="translate(1104.7 281.3) scale(0.92 1)" text-anchor="middle" font-size="9">760</text>
<text transform="translate(1127.7 281.3) scale(0.92 1)" text-anchor="middle" font-size="9">1000</text>
<text transform="translate(1146.6 281.3) scale(0.92 1)" text-anchor="middle" font-size="9">450</text>
<text transform="translate(1075 193) scale(0.85 1)" text-anchor="middle" font-size="8">120</text>
<text transform="translate(1090 197) scale(0.85 1)" text-anchor="middle" font-size="8">130</text>
<text transform="translate(1104 193) scale(0.85 1)" text-anchor="middle" font-size="8">120</text>
<text transform="translate(1283.5 609) rotate(-90) scale(0.9 1)" text-anchor="middle" font-size="9">490</text>
<text transform="translate(1155 315) scale(0.9 1)" text-anchor="middle" font-size="9">15.3</text>
<text transform="translate(1155 324) scale(0.9 1)" text-anchor="middle" font-size="9">11.7</text>
<text transform="translate(1155 333) scale(0.9 1)" text-anchor="middle" font-size="9">8.1</text>
<path d="M1225.5 281A35.5 35 0 0 0 1295.5 281" stroke="#ddd" stroke-dasharray="7 3" shape-rendering="geometricPrecision"/>
<text transform="translate(1249 324.5) scale(0.95 1)" text-anchor="middle" font-size="6.8">c=2.5%  i=10.8%</text>
<text transform="translate(1260.5 361.5) scale(0.78 1)" text-anchor="middle" font-size="6.8">FM1524</text>
<text class="cj" transform="translate(1275 360.78) scale(0.8 1)" text-anchor="middle" font-size="6">乙</text>
<path d="M173 470.6A37 37.8 0 0 1 248.6 470.6" stroke="#ddd" stroke-dasharray="7 3" shape-rendering="geometricPrecision"/>
<text transform="translate(198 464) scale(0.95 1)" text-anchor="middle" font-size="6.8">c=2.1%  i=10.0%</text>
<text transform="translate(210 404.8) scale(0.78 1)" text-anchor="middle" font-size="6.8">FM1524</text>
<text class="cj" transform="translate(225 404.28) scale(0.8 1)" text-anchor="middle" font-size="6">乙</text>
<rect x="1167.5" y="185.5" width="40" height="41" stroke="#fff"/>
<path d="M1167.5 185.5L1207.5 226.5M1207.5 185.5L1167.5 226.5" stroke="#fff" shape-rendering="geometricPrecision"/>
<rect x="1159.5" y="193.5" width="6" height="25" stroke="#fff"/>
<text transform="translate(1125 232.3) scale(0.78 1)" text-anchor="middle" font-size="6.8">FM1024</text>
<text class="cj" transform="translate(1140.5 231.68) scale(0.8 1)" text-anchor="middle" font-size="6">甲</text>
<text class="cj" transform="translate(1182 259.04) scale(0.72 1)" text-anchor="middle" font-size="8">上翻100厚素混凝土门槛</text>
<text class="cj" transform="translate(1114 208.89) scale(0.74 1)" text-anchor="middle" font-size="7.6">配电小间</text>
<text transform="translate(288 531) rotate(38) scale(0.9 1)" text-anchor="middle" font-size="10">R750</text>
<text transform="translate(333 531) rotate(38) scale(0.9 1)" text-anchor="middle" font-size="10">R750</text>
<text transform="translate(320 552) rotate(-90) scale(0.78 1)" text-anchor="middle" font-size="6.8">M1022</text>
<text transform="translate(337 525.5) scale(0.78 1)" text-anchor="middle" font-size="6.8">TLM1522</text>
<text class="cj" transform="translate(218.6 287.92) scale(0.8 1)" text-anchor="middle" font-size="8.2">(4人)</text>
<text class="cj" transform="translate(215.2 303.16) scale(0.72 1)" text-anchor="middle" font-size="7.8">侧向休息室</text>
<text transform="translate(206.6 321) scale(0.98 1)" text-anchor="middle" font-size="6.8">c=2.0%  i=9.2%</text>
<text class="cj" transform="translate(325 287.92) scale(0.8 1)" text-anchor="middle" font-size="8.2">(4人)</text>
<text class="cj" transform="translate(321.5 303.16) scale(0.72 1)" text-anchor="middle" font-size="7.8">侧向休息室</text>
<text transform="translate(309.5 321) scale(0.98 1)" text-anchor="middle" font-size="6.8">c=2.1%  i=7.3%</text>
<text class="cj" transform="translate(423 287.92) scale(0.8 1)" text-anchor="middle" font-size="8.2">(4人)</text>
<text class="cj" transform="translate(417.3 303.16) scale(0.72 1)" text-anchor="middle" font-size="7.8">侧向休息室</text>
<text transform="translate(416 321) scale(0.98 1)" text-anchor="middle" font-size="6.8">c=2.1%  i=7.2%</text>
<text class="cj" transform="translate(525 287.92) scale(0.8 1)" text-anchor="middle" font-size="8.2">(4人)</text>
<text class="cj" transform="translate(520 303.16) scale(0.72 1)" text-anchor="middle" font-size="7.8">侧向休息室</text>
<text transform="translate(511 321) scale(0.98 1)" text-anchor="middle" font-size="6.8">c=2.10%  i=7.4%</text>
<text class="cj" transform="translate(629 287.92) scale(0.8 1)" text-anchor="middle" font-size="8.2">(4人)</text>
<text class="cj" transform="translate(625 303.16) scale(0.72 1)" text-anchor="middle" font-size="7.8">侧向休息室</text>
<text transform="translate(617 321) scale(0.98 1)" text-anchor="middle" font-size="6.8">c=2.1%  i=7.2%</text>
<text class="cj" transform="translate(729 287.92) scale(0.8 1)" text-anchor="middle" font-size="8.2">(4人)</text>
<text class="cj" transform="translate(724 303.16) scale(0.72 1)" text-anchor="middle" font-size="7.8">侧向休息室</text>
<text transform="translate(717 321) scale(0.98 1)" text-anchor="middle" font-size="6.8">c=2.1%  i=7.2%</text>
<text class="cj" transform="translate(832 287.92) scale(0.8 1)" text-anchor="middle" font-size="8.2">(4人)</text>
<text class="cj" transform="translate(827 303.16) scale(0.72 1)" text-anchor="middle" font-size="7.8">侧向休息室</text>
<text transform="translate(820 321) scale(0.98 1)" text-anchor="middle" font-size="6.8">c=2.1%  i=7.2%</text>
<text class="cj" transform="translate(933 287.92) scale(0.8 1)" text-anchor="middle" font-size="8.2">(4人)</text>
<text class="cj" transform="translate(928 303.16) scale(0.72 1)" text-anchor="middle" font-size="7.8">侧向休息室</text>
<text transform="translate(922 321) scale(0.98 1)" text-anchor="middle" font-size="6.8">c=2.10%  i=7.4%</text>
<text class="cj" transform="translate(1036 287.92) scale(0.8 1)" text-anchor="middle" font-size="8.2">(4人)</text>
<text class="cj" transform="translate(1030 303.16) scale(0.72 1)" text-anchor="middle" font-size="7.8">侧向休息室</text>
<text transform="translate(1025 321) scale(0.98 1)" text-anchor="middle" font-size="6.8">c=2.1%  i=7.2%</text>
<text transform="translate(304 447.5) scale(0.98 1)" text-anchor="middle" font-size="6.8">c=2.0%  i=6.0%</text>
<text class="cj" transform="translate(299 467.96) scale(0.72 1)" text-anchor="middle" font-size="7.8">无障碍休息室</text>
<text class="cj" transform="translate(307.5 484.12) scale(0.8 1)" text-anchor="middle" font-size="8.2">(1人)</text>
<text transform="translate(417 447.5) scale(0.98 1)" text-anchor="middle" font-size="6.8">c=2.1%  i=7.2%</text>
<text class="cj" transform="translate(414 467.96) scale(0.72 1)" text-anchor="middle" font-size="7.8">侧向休息室</text>
<text class="cj" transform="translate(420.5 484.12) scale(0.8 1)" text-anchor="middle" font-size="8.2">(4人)</text>
<text transform="translate(517 447.5) scale(0.98 1)" text-anchor="middle" font-size="6.8">c=2.1%  i=7.2%</text>
<text class="cj" transform="translate(515 467.96) scale(0.72 1)" text-anchor="middle" font-size="7.8">侧向休息室</text>
<text class="cj" transform="translate(522.5 484.12) scale(0.8 1)" text-anchor="middle" font-size="8.2">(4人)</text>
<text transform="translate(623 447.5) scale(0.98 1)" text-anchor="middle" font-size="6.8">c=2.1%  i=7.2%</text>
<text class="cj" transform="translate(621 467.96) scale(0.72 1)" text-anchor="middle" font-size="7.8">侧向休息室</text>
<text class="cj" transform="translate(626.5 484.12) scale(0.8 1)" text-anchor="middle" font-size="8.2">(4人)</text>
<text transform="translate(723 447.5) scale(0.98 1)" text-anchor="middle" font-size="6.8">c=2.1%  i=7.2%</text>
<text class="cj" transform="translate(720 467.96) scale(0.72 1)" text-anchor="middle" font-size="7.8">侧向休息室</text>
<text class="cj" transform="translate(725.5 484.12) scale(0.8 1)" text-anchor="middle" font-size="8.2">(4人)</text>
<text transform="translate(827 447.5) scale(0.98 1)" text-anchor="middle" font-size="6.8">c=2.1%  i=7.2%</text>
<text class="cj" transform="translate(827 467.96) scale(0.72 1)" text-anchor="middle" font-size="7.8">侧向休息室</text>
<text class="cj" transform="translate(832.5 484.12) scale(0.8 1)" text-anchor="middle" font-size="8.2">(4人)</text>
<text transform="translate(927 447.5) scale(0.98 1)" text-anchor="middle" font-size="6.8">c=2.1%  i=7.2%</text>
<text class="cj" transform="translate(927 467.96) scale(0.72 1)" text-anchor="middle" font-size="7.8">侧向休息室</text>
<text class="cj" transform="translate(932.5 484.12) scale(0.8 1)" text-anchor="middle" font-size="8.2">(4人)</text>
<text transform="translate(1032 447.5) scale(0.98 1)" text-anchor="middle" font-size="6.8">c=2.1%  i=7.2%</text>
<text class="cj" transform="translate(1032 467.96) scale(0.72 1)" text-anchor="middle" font-size="7.8">侧向休息室</text>
<text class="cj" transform="translate(1037.5 484.12) scale(0.8 1)" text-anchor="middle" font-size="8.2">(4人)</text>
<text transform="translate(1136 452) scale(0.98 1)" text-anchor="middle" font-size="6.8">c=2.0%  i=7.4%</text>
<text class="cj" transform="translate(1128 467.96) scale(0.72 1)" text-anchor="middle" font-size="7.8">侧向休息室</text>
<text class="cj" transform="translate(1133.5 484.12) scale(0.8 1)" text-anchor="middle" font-size="8.2">(4人)</text>
<text transform="translate(1237 453.5) scale(0.98 1)" text-anchor="middle" font-size="6.8">c=2.0%  i=7.3%</text>
<text class="cj" transform="translate(1234 467.96) scale(0.72 1)" text-anchor="middle" font-size="7.8">侧向休息室</text>
<text class="cj" transform="translate(1239.5 484.12) scale(0.8 1)" text-anchor="middle" font-size="8.2">(4人)</text>
<text class="cj" transform="translate(331.8 200.24) scale(0.72 1)" text-anchor="middle" font-size="7.2">阳台</text>
<text class="cj" transform="translate(414.8 200.24) scale(0.72 1)" text-anchor="middle" font-size="7.2">阳台</text>
<text class="cj" transform="translate(535.5 200.24) scale(0.72 1)" text-anchor="middle" font-size="7.2">阳台</text>
<text class="cj" transform="translate(618.5 200.24) scale(0.72 1)" text-anchor="middle" font-size="7.2">阳台</text>
<text class="cj" transform="translate(739.2 200.24) scale(0.72 1)" text-anchor="middle" font-size="7.2">阳台</text>
<text class="cj" transform="translate(822.2 200.24) scale(0.72 1)" text-anchor="middle" font-size="7.2">阳台</text>
<text class="cj" transform="translate(943 200.24) scale(0.72 1)" text-anchor="middle" font-size="7.2">阳台</text>
<text class="cj" transform="translate(1026 200.24) scale(0.72 1)" text-anchor="middle" font-size="7.2">阳台</text>
<text class="cj" transform="translate(416.8 560.64) scale(0.72 1)" text-anchor="middle" font-size="7.2">阳台</text>
<text class="cj" transform="translate(539.5 560.64) scale(0.72 1)" text-anchor="middle" font-size="7.2">阳台</text>
<text class="cj" transform="translate(620.5 560.64) scale(0.72 1)" text-anchor="middle" font-size="7.2">阳台</text>
<text class="cj" transform="translate(743.2 560.64) scale(0.72 1)" text-anchor="middle" font-size="7.2">阳台</text>
<text class="cj" transform="translate(824.2 560.64) scale(0.72 1)" text-anchor="middle" font-size="7.2">阳台</text>
<text class="cj" transform="translate(947 560.64) scale(0.72 1)" text-anchor="middle" font-size="7.2">阳台</text>
<text class="cj" transform="translate(1028 560.64) scale(0.72 1)" text-anchor="middle" font-size="7.2">阳台</text>
<text class="cj" transform="translate(1153.3 560.64) scale(0.72 1)" text-anchor="middle" font-size="7.2">阳台</text>
<text class="cj" transform="translate(1234.3 560.64) scale(0.72 1)" text-anchor="middle" font-size="7.2">阳台</text>
<text class="cj" transform="translate(230 184.74) scale(0.72 1)" text-anchor="middle" font-size="7.2">阳台</text>
<text class="cj" transform="translate(292 380.35) scale(0.8 1)" text-anchor="middle" font-size="7.5">走廊</text>
<text transform="translate(292 393.5) scale(0.98 1)" text-anchor="middle" font-size="6.8">c=2.5%</text>
<text class="cj" style="fill:#ffff00;stroke:#ffff00" transform="translate(148.4 381.5) rotate(-90) translate(0 3.04) scale(0.64 1)" text-anchor="middle" font-size="8">楼梯间</text>
<text class="cj" style="fill:#ffff00;stroke:#ffff00" transform="translate(1327.5 384) rotate(-90) translate(0 3.04) scale(0.62 1)" text-anchor="middle" font-size="8">楼梯间</text>
<text class="cj" transform="translate(673 785.88) scale(0.82 1)" font-size="11">三~五层平面图</text>
<text transform="translate(790 786) scale(0.9 1)" text-anchor="middle" font-size="9">1:100</text>
<text class="cj" transform="translate(324 790.46) scale(0.78 1)" font-size="7.8">此墙的墙面饰面做法采用吸音、吸声、降噪隔音墙板,</text>
<text class="cj" transform="translate(327 803.96) scale(0.78 1)" font-size="7.8">做法及墙体详见苏J01中室内装修做法表内墙9 (1)</text>
</g>
</svg>
</body></html>
